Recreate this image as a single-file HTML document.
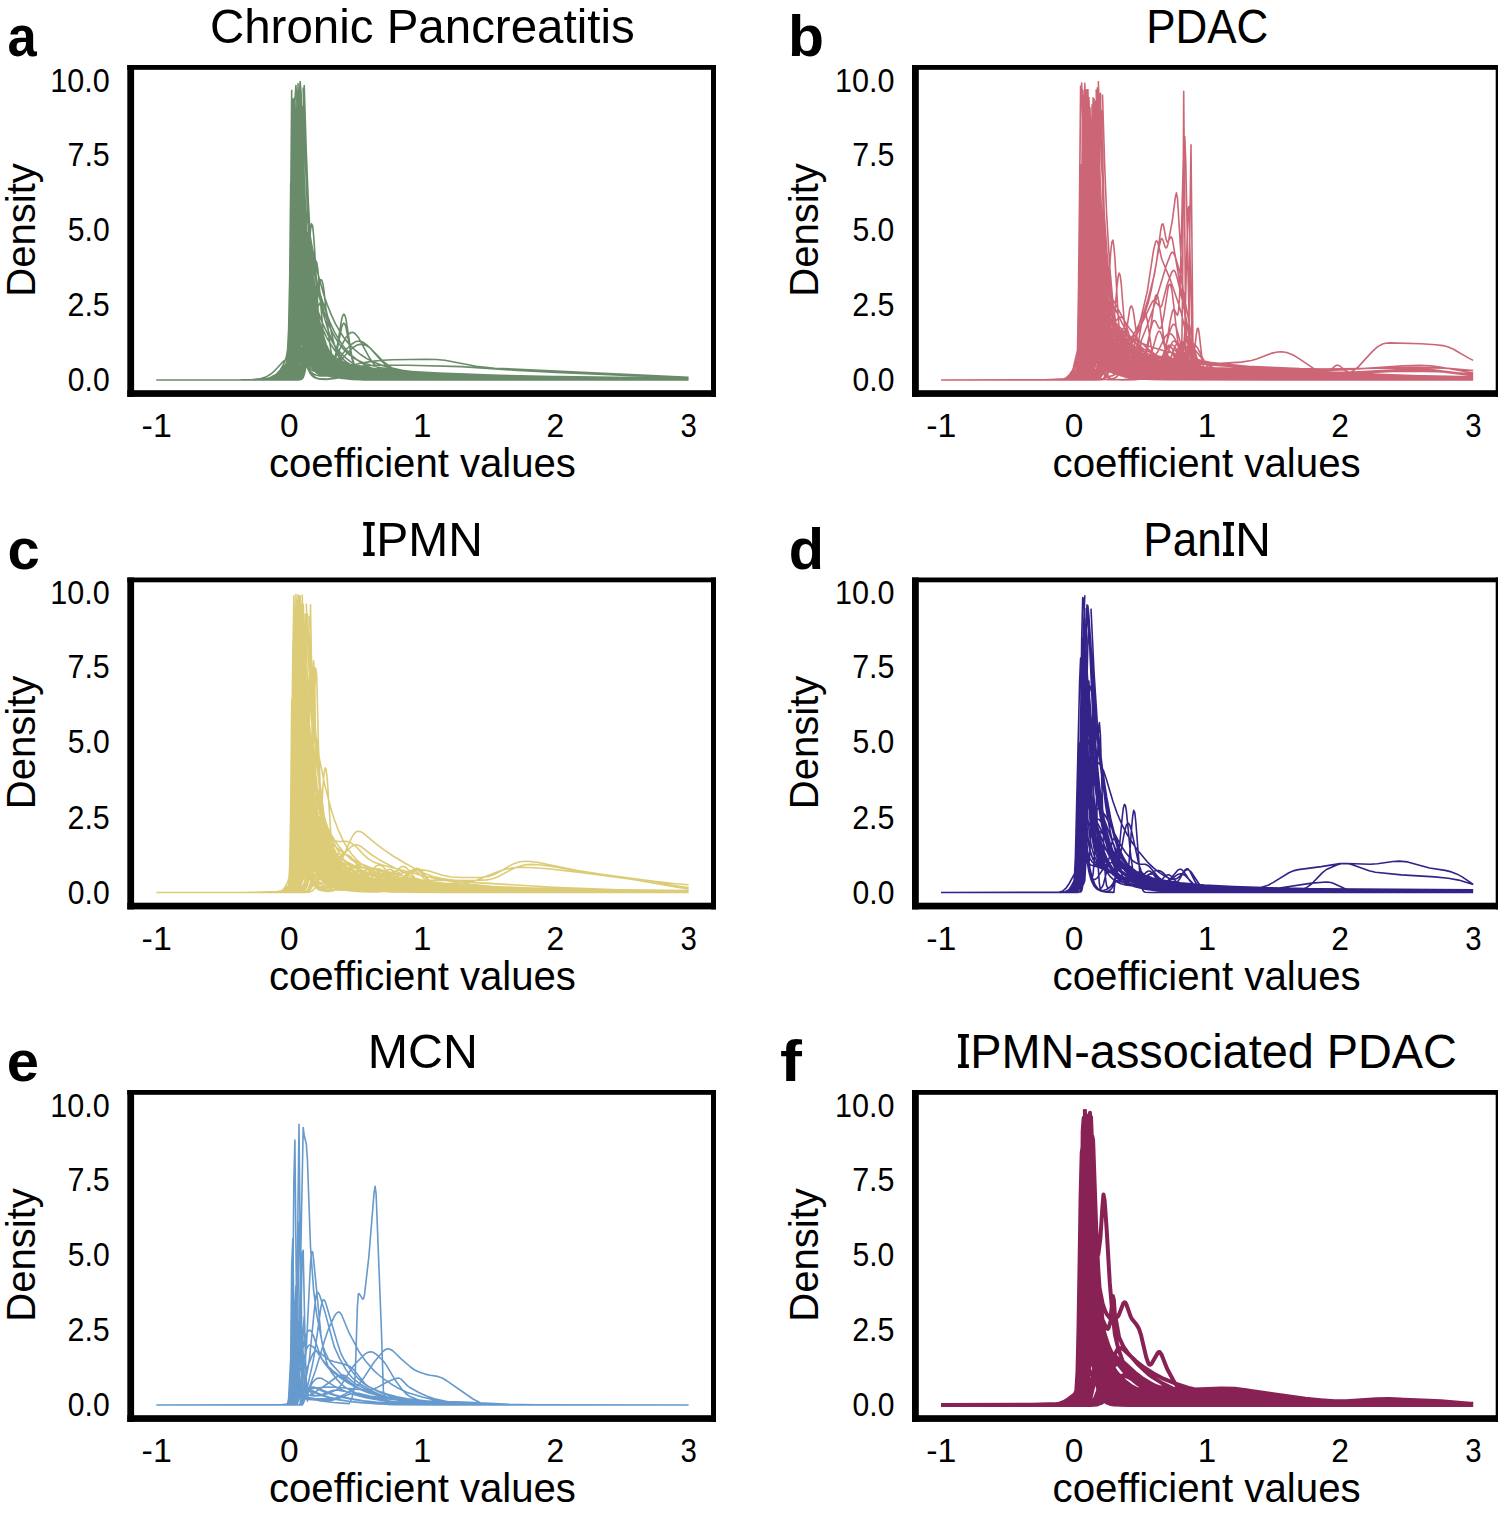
<!DOCTYPE html>
<html><head><meta charset="utf-8"><style>
html,body{margin:0;padding:0;background:#fff;width:1498px;height:1516px;overflow:hidden}
svg{display:block}
text{font-family:"Liberation Sans",sans-serif}
</style></head><body>
<svg xmlns="http://www.w3.org/2000/svg" width="1498" height="1516" viewBox="0 0 1498 1516">
<rect width="1498" height="1516" fill="#fff"/>
<path fill="none" stroke="#698B69" stroke-width="1.60" stroke-linejoin="round" stroke-linecap="butt" d="M156.3 380.0l74 0 25 -.4 16.7 -.9 17.7 -1.5 1 -.2 1 -1.4 1.1 -7.4 1 -25.1 2.1 -111.7 1.1 -38 1 -5.3 4.2 63.2 2 25.6 3.2 28.7 3.1 20.3 4.2 18.1 4.1 11.4 3.1 5.7 3.2 4.1 3.1 2.9 4.2 2.6 4.1 1.7 4.2 1.1 13.5 1.9 24 1.5 35.4 1.2 98.9 1.4 176.1 .5M156.3 380.0l129.2 0 2.1 -.6 1 -3.6 1.1 -15 1 -41.7 3.1 -219.6 1.1 -1.8 4.1 159 1.1 26.9 2.1 37.4 2 23 1.1 7.8 2.1 11 3.1 8.9 2.1 3.2 2.1 2 2 1.1 3.2 .9 7.3 .2 6.2 -.8 16.7 -3.9 10.4 -.6 58.3 3 60.4 1.7 83.3 1 126.1 .4M156.3 380.0l119.8 -.3 3.1 -.4 2.1 -.7 2.1 -1.7 2.1 -3.1 2.1 -4.8 5.2 -15.2 1 -5.2 1.1 -13.8 1 -34.3 3.1 -197 1.1 -22 1 11.2 3.1 85.6 2.1 46.1 3.1 49.4 3.2 33.1 2.1 15.9 2 12.2 2.1 9.5 2.1 7.4 2.1 5.6 3.1 6.3 3.1 4.3 3.2 3 3.1 2 3.1 1.5 7.3 2 11.5 1.4 16.6 .7 96.9 .8 217.7 .4M156.3 380.0l129.2 0 2.1 0 1 -.6 1.1 -10.5 1 -65.6 1 -133.6 1.1 -65.2 3.1 138.8 1.1 30.4 2 37 3.2 28.5 3.1 15.5 2.1 6.1 2 4 3.2 3.9 3.1 2.6 6.2 3.1 9.4 2.4 11.5 1.4 16.6 .7 104.2 .6 225 .4M156.3 380.0l114.6 -.1 4.2 -.7 3.1 -1.6 3.1 -3.4 2.1 -3.6 7.3 -18.8 2.1 -4.3 1 -1.3 1.1 -3.4 1 -28.4 2.1 -230.8M301.1 102.2l2.1 62.9 3.1 69.8 2.1 33.2 3.1 35.4 2.1 16.9 2.1 12.9 2.1 10.1 2.1 7.9 2 6.1 3.2 6.8 3.1 4.6 4.2 4 5.2 2.8 6.2 1.7 9.4 1 13.5 .5 115.6 .7 206.3 .3M156.3 380.0l118.8 -.2 4.1 -.5 3.2 -1.3 2.1 -1.5 3.1 -3.8 2.1 -3.3 1 -3.3 1 -14.7 1.1 -56 1 -118.3M299.0 116.7l2.1 66.6 2.1 48.3 2.1 35.4 3.1 36.3 3.1 22.6 2.1 10.1 2.1 7.4 2.1 5.4 3.1 5.7 3.1 3.6 3.2 2.5 5.2 2.6 6.2 2 12.5 2.7 16.7 3 26 3.2 32.3 2.4 40.6 1.6 52.1 1 169.8 .8M156.3 380.0l99 0 12.5 -.4 6.2 -1 5.2 -1.9 7.3 -3.8 7.3 -4.7 1.1 -3.3 1 -12.8 1.1 -34.7 3.1 -180.4 1 -11 1.1 14.3 3.1 68.1 2.1 35.8 2 28 3.2 29 3.1 15.7 10.4 30.6 2.1 4.5 3.1 5.1 3.1 3.8 4.2 3.5 4.2 2.3 4.1 1.6 11.5 2.3 24 2.4 31.2 1.8 47.9 1.6 63.5 1.2 163.6 1.6M156.3 380.0l86.5 0 19.8 -.7 8.3 -1.4 6.3 -2.1 13.5 -7.3 1 -1.8 1.1 -20.2 2.1 -204.9 1 -29.3 4.2 120.8 2.1 39.3 3.1 38.7 3.1 23.2 3.1 14 2.1 6 2.1 4.4 3.1 4.3 3.1 2.7 4.2 2.2 6.3 1.9 19.7 3.3 29.2 2.8 35.4 2 38.6 1 49.9 .7 183.4 .4M156.3 380.0l114.6 -.2 4.2 -.5 4.1 -1.5 3.2 -2.2 3.1 -4.1 1 -2.3 1.1 -5.2 1 -15.8 1.1 -43.9 2 -203.1M297.0 134.7l3.1 117.1 2.1 43.8 2 27.4 2.1 16.8 1.1 5.7 2 7.9 3.2 6.5 2.1 2.4 2 1.6 3.2 1.5 4.1 1.2 34.4 6.2 22.9 2.4 31.3 1.7 42.7 1.4 55.2 .9 178.1 .7M156.3 380.0l115.7 -.2 4.1 -.4 4.2 -.9 11.4 -4.4 1.1 -1.5 1 -13.4 2.1 -130.5 1.1 -29.7 3.1 93.7 1 21.9 1.1 15.7 2 17.4 1.1 3.4 1 .8 3.1 -2.8 1.1 -.3 1 .5 5.2 6 3.2 3 5.2 3.7 5.2 2.8 6.2 2.6 7.3 2.2 17.7 3.5 24 2.8 29.1 1.8 36.5 1.1 52.1 .7 185.4 .5M156.3 380.0l132.3 0 3.1 -.4 1.1 -2.4 1 -12.1 1.1 -39.8 2.1 -197.4M301.1 108.6l3.1 126.4 2.1 43.2 2.1 23.9 4.2 28.4 2.1 10.7 2 8.1 2.1 6 3.1 6.2 3.2 4.1 4.1 3.6 4.2 2.3 4.2 1.6 11.4 2.4 18.8 1.9 25 1.2 89.5 1.1 206.3 .3M156.3 380.0l119.8 -.1 7.3 -.8 8.3 -2.8 1.1 -1.7 1 -12.2 1.1 -52.6 1 -119.6M301.1 129.4l3.1 107.5 2.1 41.1 3.1 35 2.1 13.7 2.1 10 2.1 8 3.1 9.5 2.1 4.7 3.1 5.2 3.2 3.6 4.1 3.2 7.3 3.3 9.4 2.3 13.5 1.5 18.8 .8 86.4 .7 221.9 .4M156.3 380.0l102.1 0 11.5 -.4 4.1 -1 4.2 -2.5 4.2 -4.5 6.2 -8.7 1.1 -7.2 1 -35.1 2.1 -222.3M297.0 108.4l2 64.9 2.1 45.6 3.1 45.7 4.2 41.6 4.2 28.2 2.1 9.7 2 7.4 2.1 5.7 3.1 6.2 3.2 4.3 4.1 3.7 6.3 3.2 9.4 2.2 13.5 1.3 21.9 .8 91.6 .9 216.7 .2M156.3 380.0l120.9 -.2 3.1 -.5 3.1 -1.7 2.1 -2.4 3.1 -5 1.1 -6.6 1 -63.5 1 -192.3M295.9 132.7l3.1 112.1 2.1 45.3 2.1 29.9 2.1 19.7 3.1 17.5 3.1 9.2 2.1 3.6 3.1 3.1 4.2 1.7 5.2 .3 29.2 -3.6 18.7 -.6 74 4.3 56.2 2.1 78.1 1.5 106.3 .8M156.3 380.0l136.5 0 1 0 1.1 -.7 1 -6.6 1.1 -35.6 2 -241.7M304.2 108.6l2.1 63.6 2.1 48.7 3.1 52.5 3.2 35.2 2 16.7 2.1 12.8 2.1 9.8 2.1 7.5 2.1 5.8 3.1 6.2 3.1 4.2 3.1 2.7 4.2 2.4 6.3 1.8 8.3 1 11.4 .4 324 .1M156.3 380.0l84.4 -.1 16.7 -.3 8.3 -.5 6.3 -1.4 5.2 -2.4 7.3 -5.8 4.1 -4 1.1 -1.7 1 -9.2 1 -44.7 2.1 -176.5 1.1 -.2 2.1 83.1 2 59.6 2.1 36.1 2.1 21.3 2.1 11.9 1 3.7 2.1 4.8 7.3 9.8 3.1 3.2 3.1 2.3 4.2 2 4.2 1.4 12.5 2.2 20.8 1.6 33.3 1.3 47.9 1 60.4 .8 183.4 .6M156.3 380.0l88.6 0 18.7 -.3 12.5 -1.1 14.6 -2.3 2.1 -.7 1 -1.8 1.1 -6.9 1 -21.4 1.1 -47.8 2 -153.9 1.1 -48 1 -1.3 4.2 148.4 2.1 42.8 2 25.3 3.2 21.5 3.1 11.6 2.1 4.9 2.1 3.5 3.1 3.8 4.2 3.6 5.2 3.3 7.3 3.5 8.3 3 8.3 2.3 9.4 1.9 10.4 1.4 26 2.2 33.4 1.2 50 .8 203.1 .5M156.3 380.0l116.7 -.1 12.5 -1 1 -.4 1.1 -1.8 1 -11.3 1.1 -43.8 2 -231.8M295.9 111.2l2.1 92.8 3.1 82.1 2.1 31.4 2.1 20.2 2.1 12 1 3.2 1 1.6 1.1 0 3.1 -3.9 1.1 -.7 1 0 2.1 1.7 5.2 5.6 5.2 4.1 7.3 4.1 8.3 3.3 9.4 2.7 11.4 2.3 12.5 1.7 15.7 1.3 33.3 1.4 52.1 .9 210.4 .9M156.3 380.0l120.9 -.1 4.1 -.4 2.1 -.7 2.1 -1.4 2.1 -2.4 1 -2.1 1.1 -5.4 1 -18.6 1 -49.6 2.1 -157.5 1.1 -34 1 4.6 3.1 62.7 3.2 48.8 4.1 42.9 5.2 43.7 4.2 23.1 4.2 14.7 2 5.2 3.2 6.1 3.1 4.3 4.2 3.8 3.1 1.9 3.1 1.2 7.3 1.4 46.9 3.6 37.5 1.7 41.6 1.1 52.1 .7 164.6 .6M156.3 380.0l112.5 -.3 6.3 -.6 5.2 -1.2 4.2 -1.9 5.2 -3.4 1 -6.2 1 -59 1.1 -138.2 1 -59.4 3.2 83.9 2 44.6 2.1 32.3 3.1 32.1 2.1 14.1 2.1 10.7 2.1 8.4 3.1 10.2 3.1 7.6 3.2 5.6 3.1 4 4.2 3.7 4.1 2.4 5.2 2 5.2 1.4 7.3 1.3 20.9 2 32.2 1.5 42.7 1.1 55.2 .7 188.6 .6M156.3 380.0l93.8 0 11.4 -.3 5.2 -.7 5.3 -1.8 4.1 -2.7 4.2 -4.5 3.1 -5.4 2.1 -5 1 -3.4 1.1 -6.8 1 -19.7 1.1 -51.1 1 -95.5M299.0 106.6l2.1 59.3 3.1 63.2 3.2 41.7 3.1 28.2 4.2 24.6 2 8.5 3.2 9.7 3.1 7 3.1 5.1 3.1 3.8 4.2 3.7 4.2 2.6 5.2 2.2 6.2 1.8 7.3 1.5 20.8 2.5 31.3 2 51 2 62.5 1.5 75 1.1 91.7 .7M156.3 380.0l126.1 0 6.2 -.1 1.1 -.3 1 -7.6 1 -57.4 1.1 -149.9M295.9 127.2l1.1 58 2 79.3 1.1 26.3 2.1 35.6 2 20.7 2.1 11.8 1.1 3.8 2 4.9 1.1 1.4 2.1 1.7 3.1 .9 9.4 -.3 5.2 .2 26 2.9 24 1.9 25 1.3 30.2 1 86.4 1.1 166.7 .3M156.3 380.0l101.1 0 10.4 -.4 5.2 -1.2 4.2 -2.3 12.5 -11.7 1 -3.8 1 -18.9 1.1 -59.4 1 -108.4M298.0 99.5l3.1 125.7 2.1 50.8 2.1 33.9 2.1 22.5 3.1 20.3 3.1 10.7 2.1 4 3.1 3.5 2.1 1.3 3.1 1.1 8.4 1.2 38.5 2.6 41.7 1.5 89.5 1.1 186.5 .3M156.3 380.0l130.2 0 1.1 -.1 1 -.8 1.1 -5.4 1 -20.8 3.1 -157.4 1.1 -2.3 4.1 105.5 1.1 17.2 2.1 24.3 2 15 3.2 12.7 3.1 6.1 2.1 2.3 2.1 1.4 5.2 1.5 6.2 .2 7.3 -.8 15.6 -2.6 9.4 -.5 59.4 2.2 61.4 1.2 83.3 .7 126.1 .3M156.3 380.0l130.2 0 3.2 -.4 1 -3.5 1 -21.5 1.1 -72.3 1 -131.7M299.0 126.0l3.2 102.3 2 38.2 3.2 31.9 2 13.6 3.2 16.5 2.1 8.9 3.1 10.2 3.1 7 3.1 4.8 3.2 3.5 4.1 3.3 4.2 2.3 5.2 2.1 6.2 1.7 8.4 1.6 22.9 2.8 28.1 1.7 33.3 .8 49 .5 200 .3M156.3 380.0l117.7 -.3 3.2 -.2 2 -.6 2.1 -1.6 1.1 -1.6 2.1 -5.2 5.2 -20.5 3.1 -7.3 1 -8.1 1.1 -28.6 2.1 -165.3M301.1 92.5l2.1 83.3 2.1 58.5 2.1 40.1 2 27.8 3.2 26.6 3.1 15.5 2.1 6.6 2.1 4.6 3.1 4.6 3.1 2.8 5.2 2.4 6.3 1.2 29.1 1.4 54.2 6.5 19.8 1.6 22.9 1.3 35.4 1.2 43.7 .8 145.9 .6M156.3 380.0l100 0 18.8 -.3 3.1 -.8 3.1 -2.6 2.1 -3.5 3.1 -6.6 2.1 -2.8 1.1 -.3 3.1 2.1 1 -9.3 1.1 -48.9 1 -116.5M300.1 113.3l1 59.5 2.1 81.4 1 26.4 2.1 33.8 2.1 18.4 2.1 11.1 2.1 7.6 2.1 5.5 2 3.9 2.1 2.6 3.1 2.7 4.2 2.2 5.2 1.8 7.3 1.7 8.3 1.5 19.8 2.1 26.1 1.4 44.8 1.2 63.5 .8 187.5 .9M156.3 380.0l109.4 -.3 7.3 -.7 7.3 -1.6 9.4 -3.6 2 -1.6 1.1 -4.1 1 -14.4 1.1 -38.5 2.1 -180.3M303.2 90.0l2.1 69.3 2.1 50.6 3.1 52.2 3.1 34.4 2.1 16.7 2.1 13.1 2.1 10.2 2 7.9 3.2 8.7 3.1 6 3.1 4.2 4.2 3.8 4.2 2.4 4.1 1.7 6.3 1.8 7.3 1.3 20.8 2.1 31.2 1.6 38.6 1 50 .6 190.6 .4M156.3 380.0l114.6 -.3 4.2 -.7 4.1 -1.9 3.2 -2.6 5.2 -6.2 1 -1.6 1.1 -3.2 1 -8.8 1 -21.4 3.2 -138.2 1 -22.5 1.1 4.7 3.1 74.1 2.1 39.2 2 26.3 2.1 17.4 3.1 15.2 3.2 8.3 2.1 3.6 3.1 4.1 3.1 2.9 3.1 2 5.2 1.9 6.3 .8 30.2 .1 48.9 3.6 42.7 1.8 79.2 1.1 152.1 .3M156.3 380.0l92.7 -.1 12.5 -.3 10.5 -.8 6.2 -1.2 2.1 -.9 2.1 -1.4 3.1 -3.8 5.2 -8.6 1 -2.5 1.1 -7.9 1 -25 1.1 -57.5 2.1 -176.2M300.1 109.6l3.1 135.7 1 28.7 2.1 39.2 2.1 23.4 1 7.8 2.1 10.8 1.1 3.7 2.1 5 2 3 2.1 1.9 3.1 1.5 5.3 1.3 24.9 3 29.2 2.2 35.4 1.5 38.6 .9 49.9 .5 183.4 .3M156.3 380.0l118.8 -.1 3.1 -.3 3.1 -1 2.1 -1.4 2.1 -2.3 2.1 -3.4 1 -2.5 1.1 -4.7 1 -11.8 1 -26.5 3.2 -135.4 1 -11.9 1.1 10.5 4.1 81.9 3.1 41.9 2.1 19.5 2.1 13.6 2.1 7.6 1 1.4 1.1 .1 1 -1.2 3.1 -5.9 1.1 -1.2 1 -.3 2.1 1.5 6.3 8.6 4.1 4.1 5.2 3.4 8.4 3.8 10.4 3.9 9.3 2.3 12.5 2 15.7 1.4 30.2 1.2 48.9 .8 216.7 .4M156.3 380.0l114.6 -.2 17.7 -.9 4.2 -.7 2.1 -1 1 -4 1.1 -20.4 1 -64.5 1 -118.5M304.2 85.0l2.1 67.2 2.1 51.3 3.1 55.1 3.2 36.7 3.1 24.4 2.1 11.4 2 8.7 2.1 6.5 3.2 7 3.1 4.6 3.1 3.1 4.2 2.6 6.2 2.4 8.3 1.8 15.7 2.8 29.1 4 33.4 2.5 36.4 1.4 47.9 .9 174 .6M156.3 380.0l97.9 0 11.5 -.5 5.2 -1.3 4.2 -2.4 4.1 -3.9 8.4 -9.3 3.1 -1.9 2.1 -.5 1 -2.1 1.1 -33.3 1 -137.8M300.1 84.0l2.1 62.4 3.1 68.7 3.1 45.1 3.1 27.8 2.1 12.5 3.1 14.4 4.2 15.7 3.1 9.5 3.2 7.3 4.1 7.1 4.2 5 4.2 3.6 5.2 3.2 5.2 2.4 6.2 2 7.3 1.8 18.8 2.7 26 1.9 35.4 1.1 53.1 .8 191.7 .8M156.3 380.0l118.8 0 13.5 -.5 1.1 -2.3 1 -20.6 2.1 -150.3 1 -21.2 3.2 60.4 2 28.2 3.2 25.9 4.1 23.9 4.2 18.3 2.1 6.7 3.1 7.5 3.1 5.4 3.1 3.8 4.2 3.6 4.2 2.4 8.3 3 10.4 1.9 14.6 1.3 21.9 .8 108.3 1.1 194.8 .6M156.3 380.0l114.6 -.1 18.8 -.4 1 -1 1 -19.4 2.1 -225 1.1 -18.7 3.1 78.3 2.1 40.4 3.1 44.2 3.1 27.4 2.1 9.2 5.2 11.2 5.2 16 3.1 7.7 3.2 5.7 3.1 4.4 3.1 3.3 4.2 3.2 4.2 2.4 5.2 2.2 11.4 2.8 15.6 1.9 23 1.3 36.4 .8 62.5 .8 194.8 1M156.3 380.0l91.7 0 13.5 -.5 5.2 -.8 4.2 -1.4 5.2 -2.8 11.5 -8 3.1 -1.1 3.1 -.2 1.1 -.4 1 -4.8 1.1 -24.1 1 -69.8 1 -114.3M303.2 133.6l1 53 2.1 73.2 1.1 24 2 32.1 1.1 10.7 2.1 15 3.1 13.4 2.1 5.6 2.1 3.8 2 2.7 3.2 2.5 3.1 1.6 4.2 1.3 10.4 1.4 52.1 3 33.3 1.3 90.6 1.4 169.8 .4M156.3 380.0l119.8 0 10.4 -.1 2.1 -.4 1.1 -2.5 1 -11.7 1 -36.9 3.2 -227.5 1 -15.4 1.1 18.9 3.1 86.3 2.1 42.2 2 30.8 3.2 31 4.1 25.4 3.2 13.5 3.1 10.6 3.1 8 3.1 5.8 3.2 4.2 4.1 3.8 4.2 2.7 4.2 1.8 10.4 2.8 14.5 1.9 21.9 1.3 40.6 1 69.8 .9 191.7 1.1M156.3 380.0l92.7 0 29.2 -.6 4.2 -.8 3.1 -1.6 3.1 -3.1 4.2 -5.9 1 -2.7 1.1 -7 1 -19.3 1.1 -40.7 2 -121.3 1.1 -35.8 1 -3.6 4.2 86.4 2.1 33.6 3.1 35.5 3.1 24.1 4.2 21.1 4.1 13.2 3.2 6.5 3.1 4.7 3.1 3.4 4.2 3.1 4.2 2.3 4.1 1.5 11.5 2.7 14.6 1.6 21.8 1 95.8 1.1 201.1 .5M156.3 380.0l107.3 -.3 11.5 -.5 10.4 -1 6.2 -1 3.2 -1.3 1 -1.6 1.1 -17.8 2 -168.6 1.1 -5.9 2.1 44.5 2 32.8 3.2 33.8 4.1 30.2 2.1 10.8 2.1 8.4 2.1 6.4 2.1 4.9 2 3.6 3.2 4 3.1 2.6 3.1 1.8 5.2 1.9 6.3 1.4 21.8 2.7 34.4 2.8 40.6 2 43.8 1.4 52.1 .9 153.1 .9M156.3 380.0l106.3 -.3 6.2 -.6 5.2 -1.3 13.6 -5.5 1 -2 1.1 -8 1 -25.7 2.1 -156.4M298.0 113.4l1 54.5 2.1 77.1 2.1 43.7 2.1 24.1 2.1 13.1 2 7.3 2.1 4.5 4.2 6.4 5.2 6.4 4.2 4.2 5.2 4 5.2 3.2 6.2 2.9 6.3 2.2 7.3 1.9 16.6 2.8 24 1.9 42.7 1.7 68.7 1.5 83.4 1.2 97.9 .9M156.3 380.0l122.9 -.1 6.3 -.2 6.2 -.9 1.1 -.2 1 -1.3 1.1 -8.3 1 -35.6 2.1 -221.4M303.2 87.4l2.1 63.6 3.1 66.1 3.1 44.8 4.2 41.8 4.2 27.3 4.1 17 2.1 5.8 3.1 6.5 3.2 4.6 4.1 4.2 6.3 3.6 8.3 2.4 11.5 1.5 18.7 .9 113.5 1.5 193.8 .7M156.3 380.0l95.9 0 14.5 -.7 5.3 -1.3 4.1 -2.3 10.4 -9.9 2.1 -1.5 4.2 -2.1 2.1 -2.1 1 -4.1 1.1 -28.2 2 -142.6 1.1 5.5 2.1 49.3 3.1 52.1 2.1 22.8 2 16 3.2 15.7 3.1 9.4 2.1 4.1 2.1 2.9 3.1 3 3.1 2 4.2 1.8 5.2 1.4 15.6 2.6 21.9 2 28.1 1.2 43.7 1 62.5 .8 181.3 .9M156.3 380.0l100 0 11.5 -.3 5.2 -.9 4.2 -1.5 11.4 -7.4 5.2 -2 1.1 -4.1 1 -17.1 3.1 -135.8 1.1 0 4.1 90.9 3.2 36.3 2 13.7 2.1 8.7 3.2 7.2 2 2.5 2.1 1.5 2.1 .7 3.1 .5 13.6 -.5 8.3 .2 52.1 4.1 54.1 2 82.3 1 154.2 .3M156.3 380.0l122.9 0 6.3 -.7 6.2 -2.5 1.1 -1.5 1 -10.2 1.1 -40 2.1 -118 1 4.8 2.1 56 2.1 37.5 1 11.6 2.1 13.8 2.1 7.2 4.1 10.4 5.2 10.9 3.2 4.3 3.1 3.2 4.2 3 5.2 2.7 8.3 2.8 11.4 1.9 13.6 1.2 19.8 .6 92.7 .8 210.4 .2M156.3 380.0l109.4 -.3 5.2 -.6 4.2 -1 12.5 -5.2 5.2 -1.7 1 -3.3 1.1 -27.1 2.1 -191.3 1 -22.9 2.1 74.9 2.1 57.4 2 34 2.1 19.8 3.1 16.1 3.2 9.8 3.1 7.6 3.1 6.2 3.1 4.7 4.2 4.5 4.2 3.3 4.1 2.3 5.3 2.2 6.2 1.8 6.2 1.3 16.7 2.1 26.1 1.5 48.9 1.4 63.5 1.1 181.3 1.1M156.3 380.0l125 0 4.2 -.8 2.1 -1.8 1 -1.7 2.1 -5.2 2.1 -7.4 1 -8 1.1 -23.2 3.1 -194.5 1 -18.6 1.1 17.1 4.1 106.7 2.1 34.7 3.1 35.5 3.2 22.6 2.1 10.5 2 7.7 2.1 5.7 2.1 4.3 3.1 4.3 3.2 2.6 5.2 2.3 8.3 1.2 48.9 2.6 40.7 1.4 95.8 1.4 162.5 .5M156.3 380.0l110.4 -.2 5.3 -.5 4.1 -1 9.4 -3.9 5.2 -1.6 1 -.6 1.1 -4.1 1 -17.9 2.1 -104.6 1.1 -34.4 1 8.2 3.1 82.1 1.1 16.4 2 19.9 2.1 9.9 1.1 2.9 2 3.8 3.2 3.7 4.1 3.9 3.2 2.5 4.1 2.3 4.2 1.4 5.2 1.1 22.9 2.1 26.1 1.7 38.5 1.6 115.6 2.7 152.1 1.6M156.3 380.0l96.9 0 13.5 -.6 4.2 -.9 4.2 -2 4.1 -3.3 9.4 -9.7 3.1 -1.9 3.2 -.7 1 -3.6 1.1 -21.2 3.1 -245.9M302.2 105.6l2 71.6 2.1 54.4 2.1 39.7 3.1 40.2 3.2 24.6 3.1 15 2.1 6.5 2 4.5 2.1 3.2 3.2 3 4.1 2 6.3 1 26 .5 53.1 4.1 43.8 2 83.3 1.5 144.8 .5M156.3 380.0l97.9 0 14.6 -.5 8.4 -1.3 7.3 -2.5 5.2 -3 4.1 -4.3 1.1 -1.7 1 -6.5 1.1 -46.4 1 -154.3M302.2 107.6l1 62.3 2.1 79.7 2.1 43.6 2 24.4 3.2 19.7 2.1 7.7 2 5.6 2.1 4.3 3.1 4.9 3.2 3.5 4.1 3.4 4.2 2.4 5.2 2.1 6.3 1.8 7.2 1.4 19.8 2.1 29.2 1.5 39.6 1 52.1 .6 195.8 .4M156.3 380.0l126.1 0 4.1 -.1 2.1 -.8 1.1 -2.8 1 -10.3 1 -27.9 3.2 -178.3 1 -24.2 1.1 7.4 3.1 74.2 2.1 38.2 2 27.9 3.2 29.3 3.1 19.6 2.1 9.2 2.1 7.1 2 5.2 3.2 5.6 3.1 3.7 3.1 2.4 4.2 2 5.2 1.5 22.9 4.4 19.8 2.1 26 1.5 38.6 1 59.3 .8 186.5 1M156.3 380.0l99 0 13.5 -.3 4.2 -.7 4.2 -1.6 3.1 -2.1 7.3 -6.5 2.1 -1.3 3.1 -1.2 1 -3.4 1.1 -15.4 1 -42.9 2.1 -144.8 1 -31.6 1.1 13.7 4.1 129.2 2.1 36.5 2.1 22.8 2.1 13.5 1 4.3 2.1 5.5 2.1 3.2 6.2 6.7 6.3 5.2 4.2 2.2 4.1 1.6 5.2 1.5 7.3 1.3 16.7 1.7 23.9 1.1 40.7 .9 57.2 .5 201.1 .4M156.3 380.0l129.2 0 4.2 -.1 2 -.7 1.1 -2.1 1 -7.6 1.1 -20.5 3.1 -123.1 1 -10.3 1.1 13.8 3.1 66.3 2.1 24.7 2.1 13.8 3.1 11.6 4.2 8.8 3.1 4.3 3.1 3.2 3.1 2.4 4.2 2.3 3.1 1.2 3.1 .5 14.6 .1 19.8 3.6 16.7 2 20.8 1.6 27.1 1.2 41.6 1.2 54.2 .8 159.4 .8M156.3 380.0l116.7 -.1 14.6 -.5 1 -.2 1.1 -1.3 1 -6.3 1 -21.9 3.2 -172.9 1 -18.5 1.1 15.4 4.1 106 3.1 43.4 2.1 17.6 3.1 16.2 2.1 6.5 2.1 4.4 2.1 3 3.1 2.6 5.2 2 8.4 1 39.5 1.7 36.5 .9 90.6 .8 189.6 .2M156.3 380.0l122.9 -.2 3.2 -.5 3.1 -2 6.2 -7.5 1.1 -1.8 1 -8.9 1.1 -31.9 3.1 -244M300.1 101.4l2.1 88.8 2 61.6 2.1 37.4 2.1 22.6 3.1 18.9 2.1 7.8 2.1 6 3.1 7 3.1 5.2 3.2 3.7 3.1 2.6 3.1 1.8 4.2 1.6 10.4 1.8 80.2 4.6 53.1 1.9 61.5 1.6 147.9 2.1M156.3 380.0l84.4 -.1 11.5 -.3 7.3 -.7 6.2 -1.8 5.2 -3.1 4.2 -3.7 8.3 -9 4.2 -3.2 1 -2.1 1.1 -9.2 1 -31.9 2.1 -187.1M298.0 87.7l2.1 85.4 2.1 59.4 2 40.1 1.1 14.4 2.1 20 1 6.5 2.1 8.8 9.4 24.8 2 4.4 3.2 5.2 3.1 3.7 3.1 2.7 4.2 2.6 5.2 2.3 6.2 1.8 7.3 1.4 19.8 2.2 32.3 1.9 50 1.8 60.4 1.3 74 .8 97.9 .5M156.3 380.0l107.3 -.1 17.7 -.2 9.4 -.6 2.1 -.7 1 -.8 2.1 -3.3 2.1 -6.5 3.1 -13.6 2.1 -7.2 1 -2.1 1.1 -1 1 -.1 2.1 1.4 6.3 7.2 5.2 4.8 6.2 4.1 7.3 3.4 8.3 2.6 10.4 2.3 13.6 2 16.7 1.9 18.7 1.4 21.9 1.2 62.5 1.9 84.3 1.1 118.8 .6M156.3 380.0l116.7 0 14.6 -.3 4.1 -.4 2.1 -1.4 1.1 -1.9 1 -3.2 1.1 -4.9 4.1 -28.1 1.1 -3.8 1 -1 1 1.4 1.1 3.1 5.2 18.7 3.1 6.7 2.1 2.9 3.1 2.8 4.2 1.9 4.2 .7 24.9 .5 69.8 3.1 57.3 1.4 86.5 1.1 122.9 .5M156.3 380.0l133.4 0 3.1 -.3 1 -.4 1.1 -1 1 -2.2 2.1 -10.3 5.2 -52.6 1 -4.5 1.1 -.3 1 3 1.1 5.4 5.2 29.6 3.1 11.3 3.1 7.3 3.1 4.6 3.2 2.7 4.1 1.7 3.2 .4 3.1 -.2 18.7 -4.4 6.3 -.7 6.2 -.1 71.9 4 66.6 2.5 82.3 1.9 101.1 1.3M156.3 380.0l117.7 -.1 14.6 -.6 3.1 -.4 2.1 -1 1.1 -1.8 1 -4.3 1.1 -8.9 4.1 -69.1 1.1 -8.7 1 -1.6 1 3.2 5.2 28.7 3.2 13.1 4.1 13 4.2 9.2 5.2 8 3.1 3.6 4.2 3.6 4.2 2.8 4.1 2.1 9.4 3.1 11.5 2.1 14.5 1.4 20.9 1.1 28.1 .7 80.2 .7 182.3 .1M156.3 380.0l130.2 0 11.5 -.1 3.1 -.4 1.1 -.6 1 -1.4 1 -2.7 1.1 -4.8 4.1 -33.5 1.1 -5.2 1 -1.8 1.1 1.4 1 3.4 5.2 20.4 2.1 5.5 3.1 5.8 3.2 3.7 3.1 2.4 4.1 1.9 6.3 1.3 11.4 1 25 .9 76.1 1.6 94.7 .7 140.7 .4M156.3 380.0l115.7 -.1 16.6 -.6 12.5 -1.3 1.1 -.9 1 -3.3 1 -9.6 3.2 -61.9 1 -8.7 1 .6 4.2 21.5 4.2 16.6 3.1 9.1 4.2 8.7 4.1 6.1 5.2 4.9 6.3 3.5 8.3 2.6 16.7 2.5 30.2 2.8 32.3 2.1 38.5 1.7 91.7 2.2 130.2 1.1M156.3 380.0l118.8 -.1 6.2 -.4 3.2 -1.1 3.1 -3.2 5.2 -9.5 1 -2.2 1.1 -5.2 1 -13.3 2.1 -45.2 1 -9.6 1.1 3 3.1 26.1 2.1 13.9 2.1 10.3 3.1 10.8 4.2 9 4.1 5.5 5.2 4 3.2 1.4 4.1 1.2 6.3 .9 9.3 .5 104.2 1.4 104.1 .9 133.4 .5M156.3 380.0l109.4 -.1 13.5 -.6 7.3 -1.2 2.1 -1.3 1.1 -1.2 2 -4.8 2.1 -8.7 5.2 -29.3 1.1 -3.7 1 -2.4 1.1 -1 1 0 2.1 2.1 7.3 11.5 7.3 9 7.3 6.9 7.2 5.4 8.4 4.6 9.3 3.8 11.5 3.1 12.5 2.3 14.6 1.6 18.7 1.3 51.1 1.6 81.2 .8 146.9 .3M156.3 380.0l119.8 0 6.3 -.5 3.1 -1.1 2.1 -1.6 2.1 -2.4 6.2 -9.2 1.1 -.9 2 -.6 1.1 -.8 1 -4.6 1.1 -13.6 2 -41.1 1.1 -6.4 1 4.2 3.1 23.5 2.1 11.9 2.1 9 3.1 9.4 4.2 7.9 4.2 4.7 3.1 2.2 3.1 1.6 7.3 2.2 12.5 1.8 18.8 1.6 25 1.1 31.2 .8 82.3 .7 180.2 .2M156.3 380.0l132.3 0 4.2 -.3 1 -.6 1.1 -1.6 1 -3.5 1.1 -6.3 4.1 -49.8 1.1 -8.7 1 -3.6 1 .9 1.1 4 4.1 22.5 3.2 12.9 3.1 9.5 3.1 6.8 4.2 6.2 5.2 4.8 5.2 2.9 7.3 2 12.5 1.4 21.9 .4 313.5 .1M156.3 380.0l118.8 0 13.5 -.3 1.1 -.9 1 -2.7 1 -6.4 3.2 -34.3 1 -4.3 1.1 1.4 5.2 23.3 2 6 2.1 4.4 3.1 4.5 3.2 2.7 3.1 1.6 4.2 .9 4.1 .1 5.2 -.4 25 -3.9 13.6 -.5 11.4 .5 54.2 4.2 53.1 2.2 78.1 1.3 124 .5M156.3 380.0l135.4 -.2 1.1 -.8 1 -2.8 1.1 -6.3 2.1 -20.8 1 -7.4 1 -2.5 1.1 1 4.1 10.2 3.2 6.2 3.1 4.8 3.1 3.8 4.2 3.7 4.1 2.5 5.3 1.9 5.2 1 25 .3 62.4 2.1 65.7 1.2 89.5 1 113.6 .6M156.3 380.0l119.8 -.1 6.3 -.3 4.1 -1.4 3.2 -2.7 3.1 -4.1 2.1 -4.9 1 -4.7 2.1 -18.1 4.2 -55.1 1 -6.6 1 -1.1 1.1 3.8 1 7.2 5.2 41.7 2.1 11.1 2.1 8.3 3.1 8.4 3.1 5.3 4.2 4 5.2 2.3 6.3 .9 27 .4 52.1 3.4 42.7 1.4 75 .7 154.2 .2M156.3 380.0l106.3 -.2 18.7 -.8 13.6 -1.7 2.1 -1.1 1 -1.3 2.1 -5.5 5.2 -29.6 1 -3.6 1.1 -1.4 1 .4 1 1.8 6.3 16.5 2.1 3.9 3.1 4.1 3.1 2.8 4.2 2.3 4.2 1.3 5.2 .9 69.7 6.6 24 1.5 28.1 1.2 81.3 1.4 147.9 .5M156.3 380.0l139.6 0 3.1 -.1 2.1 -.9 1.1 -1.4 1 -2.7 2.1 -12.8 5.2 -72 1 -9.3 1.1 -3.8 1 1.3 1.1 5.3 5.2 42.1 2 12.5 2.1 9.4 3.2 9.4 3.1 5.7 3.1 3.3 4.2 1.9 4.1 .6 17.7 .1 71.9 4.3 64.6 2.5 86.4 2 106.3 1.3M156.3 380.0l112.5 -.1 15.7 -.2 3.1 -.6 1 -.8 1.1 -1.7 1 -3.2 1 -5.6 2.1 -19.9 3.2 -40 1 -9.8 1 -6.1 1.1 -2.6 1 .3 1.1 2.2 7.2 23.9 5.3 13.3 5.2 10.3 6.2 9.1 7.3 7.4 8.3 5.7 10.4 4.6 12.5 3.5 16.7 3.2 19.8 2.5 21.9 1.7 28.1 1.2 80.2 1.3 157.3 .4M156.3 380.0l109.4 -.1 18.8 -.8 14.5 -1.7 1.1 -1 1 -3 1.1 -7.2 1 -13.6 3.1 -59 1.1 -10 1 -2.8 1 1.6 7.3 25.3 5.2 14.2 6.3 13.2 6.2 10.1 4.2 5.4 4.2 4.5 4.1 3.8 5.2 3.9 5.3 3.1 5.2 2.5 6.2 2.4 6.3 1.8 12.5 2.5 14.5 1.8 17.7 1.2 24 .8 78.1 .8 166.7 .3M156.3 380.0l110.4 -.1 14.6 -.6 6.3 -.6 2.1 -.6 1 -1.2 1 -3.1 1.1 -7 1 -13 3.2 -58.6 1 -11.3 1 -3.3 1.1 2.4 5.2 28.9 3.1 13.4 4.2 13.1 4.1 9.2 5.2 7.8 3.2 3.4 3.1 2.6 7.3 4.2 9.4 3.1 12.5 2.3 18.7 1.8 29.2 1.6 41.6 1.6 102.1 2.2 139.6 1.2M156.3 380.0l136.5 0 3.1 -.3 1.1 -1.1 1 -3.4 1 -8.1 3.2 -53.3 1 -13.8 1 -5.6 1.1 1 5.2 25.3 4.2 16 4.1 11.6 4.2 8.5 5.2 7.5 6.2 5.9 7.3 4.1 8.4 2.7 7.3 1.2 8.3 .9 27.1 .8 295.8 .1M156.3 380.0l137.5 -.1 1.1 -.5 1 -2.2 1.1 -6.5 2 -24.1 1.1 -7.2 1 -.6 4.2 13.7 2.1 5.5 2 4.3 3.2 4.9 3.1 3.5 4.2 2.9 4.1 1.6 4.2 .8 5.2 .3 18.7 -.1 52.1 2 58.3 1.1 82.3 .5 143.8 .2M156.3 380.0l109.4 -.1 18.8 -.6 11.4 -1.1 2.1 -1.3 1 -1.6 1.1 -2.8 2.1 -10.3 4.1 -27.6 1.1 -3.1 1 -.8 1 1.3 1.1 2.5 4.2 13.2 2 5.3 3.2 6 3.1 4.3 4.2 3.7 4.1 2.4 5.2 1.8 7.3 1.3 19.8 1.7 33.3 2.1 62.5 2.2 86.5 1 142.7 .4M156.3 380.0l138.6 0 3.1 -.2 1 -.4 1.1 -1.2 1 -2.9 1.1 -5.9 1 -9.9 3.1 -45.5 1.1 -11 1 -4.9 1 .9 1.1 5 3.1 21.6 3.1 17.3 2.1 8.4 3.1 9.2 4.2 7.8 4.2 4.7 5.2 3.3 6.2 2 10.4 1.2 19.8 .5 316.7 0M156.3 380.0l140.7 0 2 -.2 1.1 -.7 1 -2.6 1.1 -7.3 1 -15.8 3.1 -91.2 1.1 -21.4 1 -8.6 1 1 1.1 6.1 5.2 36.8 4.2 22.8 4.1 17.7 5.2 16.8 3.2 7.8 3.1 6.5 3.1 5.3 3.1 4.4 4.2 4.6 4.2 3.5 4.1 2.7 5.2 2.4 9.4 2.5 12.5 1.5 35.4 1.8 32.3 1.2 93.7 1.6 145.9 .6M156.3 380.0l137.5 0 4.2 -.4 1 -.9 1.1 -2.3 1 -5.2 1.1 -9.4 4.1 -59.3 1.1 -6.1 1 -.5 1 3.4 4.2 22.4 3.1 13.7 3.2 10.4 4.1 10.2 4.2 7.1 5.2 5.9 3.1 2.4 3.2 1.8 6.2 2.1 5.2 .8 5.2 .1 24 -1.6 14.6 -.2 135.3 2.6 158.4 1.6M156.3 380.0l128.2 0 3.1 -.4 1 -.8 1.1 -2.3 1 -5.2 1 -10.1 1.1 -16.5 4.2 -93.4 1 -10.5 1 -2 1.1 4.3 5.2 43.4 3.1 21 3.1 16.3 4.2 16.1 2.1 6.2 3.1 7.6 5.2 8.9 3.1 3.8 3.2 2.8 4.1 2.7 4.2 1.8 7.3 1.7 10.4 .7 161.4 2 168.8 1.1M156.3 380.0l139.6 -.2 1.1 -1.2 1 -4.4 1 -11.8 3.2 -75.1 1 -14.3 1 -3.7 1.1 2.2 5.2 21.7 5.2 17.9 5.2 14.2 6.3 13.2 7.2 11.4 7.3 8.2 4.2 3.5 4.2 2.8 4.1 2.1 4.2 1.4 6.2 1.2 14.6 1.4 28.1 3.5 18.8 1.3 25 1.1 93.7 2 143.8 1.1M156.3 380.0l114.6 -.2 20.8 -.8 2.1 -.4 1.1 -1.1 1 -3.7 1.1 -9.5 1 -19.3 4.2 -128 1 -11.4 1 -1.3 1.1 4 7.3 41.4 5.2 23.5 6.2 22.2 3.2 9.1 4.1 10.4 4.2 8.9 4.2 7.4 4.1 6.3 5.2 6.5 5.2 5.3 6.3 5.2 6.2 4.1 7.3 3.7 12.5 4.6 15.6 3.5 18.8 2.5 23.9 1.7 35.5 1.3 52 1.2 156.3 1.7M156.3 380.0l133.4 0 2 -.1 1.1 -.7 1 -2.5 1.1 -7.6 1 -16.3 3.1 -75.2 1.1 -10.2 1 -.4 5.2 28.9 4.2 19.3 4.2 14.8 5.2 13.7 3.1 6.2 3.1 5.1 3.1 4.1 3.2 3.2 4.1 3.4 4.2 2.6 4.2 1.9 5.2 1.7 11.4 2.5 14.6 1.8 17.7 1.2 26 .9 99 1.2 169.8 .4M156.3 380.0l142.7 -.1 1.1 -1 1 -5.4 1.1 -18 2 -76.7 1.1 -25.7 1 -5.3 1.1 5.7 4.1 31.8 3.2 18.8 4.1 19.4 5.2 17.4 3.2 7.8 3.1 6.2 3.1 5 3.1 4 3.2 3.2 4.1 3.3 4.2 2.4 5.2 2.2 7.3 2 9.4 1.5 11.4 .8 16.7 .5 290.6 .2M156.3 380.0l136.5 0 6.2 -.1 1.1 -.5 1 -3 1.1 -11.3 3.1 -105.7 1 -19.6 1.1 -3.1 6.2 33.8 5.2 23.2 5.2 18 6.3 16.4 3.1 6.4 4.2 7 3.1 4.4 4.2 4.8 4.1 3.8 5.2 3.7 5.2 2.8 5.2 2.2 12.5 3.8 16.7 3.1 18.8 2.1 23.9 1.5 39.6 1.4 59.4 1.4 153.1 1.9M156.3 380.0l125 0 17.7 -.2 2.1 -.3 1.1 -2.3 1 -11.3 3.1 -110.9 1.1 -14.3 1 .5 6.3 30.9 6.2 24.5 6.3 18.8 3.1 7.7 4.1 8.8 4.2 7.3 4.2 6.2 4.1 5.2 5.2 5.3 5.3 4.3 5.2 3.4 6.2 3.3 6.3 2.6 11.4 3.3 14.6 2.6 17.7 1.7 21.9 1.1 73.9 1.1 174 .5M156.3 380.0l132.3 0 5.2 -.4 1.1 -.9 1 -2.5 1.1 -6 1 -11.7 4.2 -87.5 1 -12.2 1 -3.5 1.1 2.9 5.2 36.4 3.1 17.5 4.2 17.1 4.1 11.8 2.1 4.5 3.2 5.4 3.1 4.2 3.1 3.2 4.2 3.4 4.1 2.6 9.4 3.9 10.4 2.5 13.6 1.6 19.8 1.3 33.3 1.2 113.5 2.6 146.9 1.5M156.3 380.0l133.4 -.2 1 -.6 1 -1.8 1.1 -4.4 1 -8.7 4.2 -56.5 1 -5.1 1.1 -.2 1 2.8 5.2 19.8 3.1 9.6 5.3 12.4 5.2 9.1 6.2 7.6 3.1 2.8 4.2 3.1 8.3 4.1 10.4 2.9 8.4 1.4 10.4 .9 30.2 .8 287.5 .2M156.3 380.0l131.3 0 3.1 -.5 1 -1.2 1.1 -3.2 1 -7.2 1.1 -13.3 4.1 -98.5 1.1 -15.2 1 -6.1 1.1 1.2 1 5.3 5.2 36.6 4.2 23 4.1 17.9 4.2 13.7 5.2 12.9 3.1 5.8 3.2 4.8 3.1 3.8 4.2 3.9 4.1 2.7 4.2 1.8 5.2 1.4 7.3 .9 54.1 2.7 37.5 1.4 105.2 2.3 131.3 1.6M156.3 380.0l133.4 0 3.1 -.5 1 -1.5 1.1 -4.1 1 -9.4 2.1 -45.6 3.1 -98.2 1.1 -15.6 1 -3.5 1 5.1 5.2 51.6 3.2 25 4.1 25.5 4.2 18.8 5.2 16.7 5.2 11.3 3.1 5 4.2 4.9 3.1 2.6 4.2 2.4 7.3 2.2 15.6 2.4 13.6 1.1 18.7 .7 114.6 1.5 172.9 .9M156.3 380.0l135.4 0 3.2 -.4 1 -1.9 1.1 -7 1 -17.9 3.1 -86 1.1 -6.5 1 4.4 3.1 25.9 3.1 21.2 3.2 16.1 4.1 15.7 4.2 10.9 2.1 4.1 3.1 4.8 3.1 3.6 3.2 2.7 3.1 2 4.2 1.7 6.2 1.3 7.3 .1 27.1 -2.7 15.6 -.5 65.6 4.2 51 2 72.9 1.3 103.2 .6M156.3 380.0l129.2 0 1 -.1 1.1 -.8 1 -4.4 1.1 -17 1 -42.2 2.1 -135.9 1 -36.1 1.1 2 3.1 77.4 2.1 40.8 2.1 25.8 1 6.8 1 1.9 1.1 -3.3 1 -8.6 4.2 -56.3 1 -6.1 1.1 1.7 1 9.5 1.1 15.8 4.1 72.8 2.1 18.7 1 4.9 1.1 2.8 1 1.7 2.1 1.7 12.5 8 6.3 3.3 7.2 3.1 8.4 2.7 9.4 2.3 9.3 1.7 11.5 1.6 26 2.1 29.2 1 40.6 .5 202.1 .2M156.3 380.0l129.2 0 3.1 -.4 1.1 -2.5 1 -10.7 1 -30 3.2 -158.3 1 -6.6 5.2 102.6 2.1 26.2 2.1 15.3 1 3.3 1.1 .1 1 -3.1 2.1 -15.1 3.1 -30.8 1.1 -6.8 1 -2.7 1 2 1.1 6.5 5.2 62.1 2.1 17.3 2.1 8.9 1 2.2 2.1 1.8 7.3 .3 4.1 .6 24 6.9 19.8 3.9 21.8 2.8 27.1 1.9 33.4 1.2 43.7 .7 177.1 .4M156.3 380.0l133.4 -.2 1 -1.4 1 -6.4 1.1 -20.1 3.1 -138.2 1.1 -13.5 1 10.4 3.1 59.4 2.1 29.1 2.1 20.6 2.1 13.6 1 4.2 1 2.4 1.1 .5 1 -1.6 1.1 -3.7 2.1 -13 4.1 -34.4 1.1 -5.4 1 -2.6 1 .7 1.1 3.8 1 6.6 5.2 48.4 2.1 13.8 2.1 7.9 1 2.2 2.1 2.1 2.1 .5 8.3 -.7 6.3 .2 32.3 5.2 21.8 2.7 28.2 2.4 32.3 1.7 36.4 1.2 45.8 .8 138.6 .7M156.3 380.0l130.2 0 3.2 -.2 1 -.6 1 -2.5 1.1 -7.4 1 -16.4 3.2 -97.5 1 -20.8 1 -5.1 1.1 6.4 3.1 36.4 2.1 19 2.1 13 2 7.6 1.1 2 1 .9 1.1 0 2.1 -2.3 5.2 -9.4 1 -.8 1 -.2 1.1 .7 1 1.6 2.1 5.5 7.3 31 3.1 10.7 2.1 4.9 2.1 3.3 2.1 2 2.1 1.2 4.1 1.2 26.1 4.5 21.8 3.2 28.2 2.8 32.2 2 38.6 1.5 46.8 .9 145.9 .8M156.3 380.0l118.8 0 11.4 -.3 2.1 -.5 1.1 -2.4 1 -9.8 1 -27 2.1 -103.1 1.1 -33.5 1 -1.5 4.2 85.8 3.1 38.7 2.1 15.3 3.1 13.6 3.1 6.6 2.1 2.3 2.1 1.2 4.2 .5 9.3 -1.4 2.1 -1 2.1 -2.7 2.1 -5.8 1 -4.6 5.2 -31.2 1.1 -3.7 1 -1.4 1.1 1.2 1 3.6 5.2 33.2 1 5.2 2.1 7.1 1.1 2.1 2.1 2.4 3.1 1.4 5.2 1.1 17.7 2.8 19.8 2.1 22.9 1.5 28.1 1 74 1 160.4 .2M156.3 380.0l118.8 0 10.4 -.2 4.2 -.5 1 -1.6 1 -6.8 1.1 -21.3 3.1 -140.4 1.1 -10 1 15.2 3.1 67.9 2.1 30 2.1 19.9 2.1 13 3.1 11.4 3.1 5.6 3.1 2.3 4.2 .8 7.3 -.6 3.1 -1.1 2.1 -2.1 2.1 -4.8 1 -3.8 5.2 -25.7 1.1 -3 1 -1.1 1.1 1 1 3.1 6.2 32 1.1 3.4 2.1 4.3 2.1 2.1 2 1 13.6 2.7 16.6 2.3 19.8 1.8 22.9 1.3 28.2 .9 72.9 .8 155.2 .2M156.3 380.0l110.4 -.1 20.9 -.7 2.1 -.2 1 -.6 1 -2.2 1.1 -6.4 1 -14.1 3.2 -79.9 1 -15 1 -1.1 5.2 56.7 2.1 16.2 2.1 11.8 2.1 8.5 3.1 8.4 3.1 4.8 2.1 1.9 2.1 1 2.1 .2 2.1 -.4 2.1 -1 3.1 -2.8 5.2 -7.7 10.4 -19.9 3.1 -3.7 2.1 -1.2 1 -.1 1.1 .1 2.1 1.2 3.1 3.7 10.4 19.3 3.1 4.8 3.2 3.8 3.1 2.7 3.1 1.7 4.2 1.5 4.1 .7 16.7 1.5 31.3 1.9 62.4 2.4 78.2 1.3 110.4 .7M156.3 380.0l110.4 -.1 20.9 -.7 2.1 -.2 1 -.7 1 -2.1 1.1 -6.4 1 -14.1 3.2 -80 1 -14.9 1 -1.2 5.2 56.7 2.1 16.2 2.1 11.7 2.1 8.4 3.1 8.3 3.1 4.8 2.1 1.8 2.1 1 2.1 .3 3.1 -.4 5.2 -2.7 5.2 -4.8 10.4 -12.2 4.2 -4.2 4.2 -2.7 2.1 -.6 2 -.1 3.2 .9 4.1 2.8 4.2 4.1 10.4 11.9 7.3 6.2 4.2 2.4 4.1 1.7 5.2 1.3 6.3 .9 15.6 1.3 27.1 1.4 60.4 2 73.9 1.1 103.2 .6M156.3 380.0l108.4 -.1 20.8 -.6 5.2 -.4 1 -.4 1.1 -1.6 1 -4.8 1.1 -11.6 3.1 -78.4 1 -18.7 1.1 -4.8 1 6.5 4.2 48.4 2.1 16.9 2 12.3 3.2 12.3 3.1 7.3 3.1 4.2 2.1 1.6 2.1 .9 2.1 .3 3.1 -.4 5.2 -2.4 5.2 -4.2 10.4 -11 4.2 -3.8 4.2 -2.6 4.1 -.8 4.2 1 4.2 2.7 14.5 14.7 7.3 5.5 4.2 2.1 4.2 1.5 5.2 1.1 6.2 .9 42.7 2.5 59.4 1.9 73.9 1.1 101.1 .6M156.3 380.0l132.3 0 3.1 -.3 1.1 -1.2 1 -3.5 1.1 -8.7 3.1 -58.5 1 -14 1.1 -3.5 1 5 4.2 36.5 2.1 12.9 2 9.3 2.1 6.8 3.2 6.6 3.1 3.9 2.1 1.4 2 .9 3.2 .3 3.1 -.4 21.9 -7.7 10.4 -2.5 11.4 -1.9 10.5 -1.1 10.4 -.6 33.3 -.5 10.4 .3 8.3 .8 31.3 5.9 18.7 2 193.8 9.2M156.3 380.0l136.5 -.2 1 -.8 1.1 -2.7 1 -6.9 1.1 -13.7 3.1 -59.1 1 -6.4 1.1 3 5.2 43.6 3.1 15.9 2.1 7 3.1 6.9 3.1 3.8 2.1 1.5 2.1 .7 2.1 .2 3.1 -.3 14.6 -4.5 11.4 -1.8 22.9 -1 31.3 0 53.1 1.4 52.1 3.6 42.7 2.3 76 3.3 56.3 1.7"/>
<rect x="127.3" y="65.0" width="588.7" height="4.8" fill="#000"/>
<rect x="711.0" y="65.0" width="5.0" height="331.9" fill="#000"/>
<rect x="127.3" y="65.0" width="6.8" height="331.9" fill="#000"/>
<rect x="127.3" y="390.2" width="588.7" height="6.7" fill="#000"/>
<text transform="translate(9.00 56.20) scale(0.9262 1)" x="-1.66" y="0" font-size="56.70" font-weight="bold" fill="#000">a</text>
<text transform="translate(212.30 42.70) scale(0.9709 1)" x="-2.48" y="0" font-size="48.90" fill="#000">Chronic Pancreatitis</text>
<text transform="translate(69.00 391.30) scale(0.9123 1)" x="-1.29" y="0" font-size="33.00" fill="#000">0.0</text>
<text transform="translate(69.00 316.45) scale(0.9223 1)" x="-1.66" y="0" font-size="33.00" fill="#000">2.5</text>
<text transform="translate(69.00 240.60) scale(0.9130 1)" x="-1.32" y="0" font-size="33.00" fill="#000">5.0</text>
<text transform="translate(69.00 165.75) scale(0.9230 1)" x="-1.69" y="0" font-size="33.00" fill="#000">7.5</text>
<text transform="translate(52.50 91.90) scale(0.9268 1)" x="-2.51" y="0" font-size="33.00" fill="#000">10.0</text>
<text transform="translate(143.10 437.00) scale(1.0280 1)" x="-1.47" y="0" font-size="33.00" fill="#000">-1</text>
<text transform="translate(281.40 437.00) scale(1.0143 1)" x="-1.29" y="0" font-size="33.00" fill="#000">0</text>
<text transform="translate(415.50 437.00) scale(1.0051 1)" x="-2.51" y="0" font-size="33.00" fill="#000">1</text>
<text transform="translate(548.20 437.00) scale(0.9645 1)" x="-1.66" y="0" font-size="33.00" fill="#000">2</text>
<text transform="translate(681.60 437.00) scale(0.8884 1)" x="-1.26" y="0" font-size="33.00" fill="#000">3</text>
<text transform="translate(270.70 477.00) scale(0.9667 1)" x="-1.76" y="0" font-size="41.50" fill="#000">coefficient values</text>
<text transform="translate(34.80 293.50) rotate(-90) scale(0.9659 1)" x="-3.40" y="0" font-size="41.50" fill="#000">Density</text>
<path fill="none" stroke="#CC6677" stroke-width="1.60" stroke-linejoin="round" stroke-linecap="butt" d="M941.0 380.0l127.1 -.2 3.1 -.7 3.2 -2.6 2 -3.6 5.3 -12.6 2 -2.7 1.1 -.1 1 .7 3.1 4.4 1.1 .6 1 -.9 2.1 -6.5 1 -8.6 1.1 -61 1 -145.4 1.1 -44.6 3.1 90.2 2.1 46.9 2.1 35.4 3.1 36.9 3.1 23.9 2.1 11.1 2.1 8.3 2.1 6.4 3.1 6.7 3.1 4.5 3.1 3 3.2 1.9 4.1 1.6 3.1 .6 3.2 -.4 2.1 -1.4 1 -1.2 6.2 -11.4 1.1 -.9 1 -.1 1.1 .6 1 1.4 4.2 8.5 3.1 4.5 3.1 1.8 5.2 .7 42.7 2 58.4 1.3 78.1 .7 124.9 .2M941.0 380.0l128.2 0 4.1 -.6 2.1 -1.9 1 -4 1.1 -15.9 1 -51.5 1.1 -111.1M1085.8 118.7l2.1 90.9 2.1 54.5 2.1 33 3.1 28.1 3.1 14.9 2.1 5.9 2.1 3.8 3.1 3.5 9.4 6.6 10.4 10.5 4.2 3.3 6.2 2.8 7.3 1.5 12.5 1.1 18.7 .6 298.9 .3M941.0 380.0l137.5 0 3.2 -.3 2 -.6 2.1 -1.6 1.1 -1.3 1 -1.8 1 -4.1 1.1 -14.1 1 -44 2.1 -206M1096.2 89.6l3.2 153.8 1 30.6 2.1 40.9 2.1 23.8 2 14 1.1 4.7 2.1 6.6 2.1 4.1 3.1 3.5 3.1 2 4.2 1.5 5.2 .9 5.2 .3 7.3 -.2 8.3 -.9 8.3 -1.5 5.2 -1.4 4.2 -1.9 4.2 -3.2 4.1 -4.7 9.4 -13 3.1 -2.6 2.1 -.6 2.1 .3 3.1 2.2 9.4 11.8 5.2 4.9 5.2 2.5 6.3 1.2 48.9 2.3 62.5 2.1 66.7 1.7 74.9 1.4M941.0 380.0l131.3 -.1 3.1 -.3 2.1 -.7 2.1 -1.3 5.2 -4.6 3.1 -.9 1 -6.2 1.1 -33.4 2.1 -158.7 1 -20.2 4.2 121.9 3.1 49.9 2.1 18.8 3.1 16.2 3.1 8.2 2.1 2.9 2.1 1.7 3.1 1.2 5.2 .1 25 -5 8.4 -.9 8.3 -.2 12.5 .8 31.2 3.4 21.9 1.9 25 1.6 28.1 1.2 76 1.8 115.6 .7M941.0 380.0l120.9 -.2 5.2 -.7 2.1 -1.5 1 -1.5 2.1 -4.7 1 -3.4 5.2 -22 2.1 -6.2 1.1 -15.5 2 -218.2 3.2 125.2 2 47.4 2.1 28.6 3.1 24.6 3.2 13.4 2.1 5.6 3.1 5.8 3.1 3.9 4.2 3.6 6.2 3.3 8.4 2.4 10.4 1.4 16.6 .9 63.6 2.3 70.8 1.8 85.4 1.3 102 1M941.0 380.0l124 0 6.2 -.3 3.2 -1.3 2 -2.4 1.1 -1.8 2.1 -5.3 3.1 -10.3 2.1 -5 1 -1 1.1 .2 2 2.1 1.1 -5.1 1 -31.1 2.1 -218.6M1097.3 87.3l3.1 146.9 1 29.9 2.1 41.9 2.1 26 1 9 2.1 12.7 3.2 10.7 2 4.1 3.2 3.5 3.1 1.9 3.1 1.1 9.4 1.7 20.8 1.6 28.1 1 71.9 .6 219.7 .1M941.0 380.0l128.2 -.2 4.1 -1 3.1 -2.2 3.2 -3.8 4.1 -6.1 1.1 -5.3 1 -27.2 1.1 -86.4 1 -143.2M1093.1 112.0l2.1 66 2.1 42.6 2.1 28.4 6.2 64.7 3.1 27 3.2 16.7 1 3.5 2.1 4.7 2.1 2.9 2 1.8 3.2 1.7 4.1 .9 4.2 -.4 8.3 -1.7 4.2 -.2 25 3.1 19.8 1.8 26 1.5 32.3 1.1 85.4 1.3 141.6 .5M941.0 380.0l137.5 -.1 1.1 -6.4 2.1 -193.8 3.1 105.3 1 20.2 1.1 13.2 1 7.9 1 4.2 1.1 2 3.1 2.5 1 1.4 5.3 9.4 4.1 6 3.1 3.4 4.2 3.7 4.2 3 4.1 2.3 9.4 3.6 10.4 2.2 17.7 1.7 19.8 1.4 4.2 -.1 2.1 -.6 2.1 -1.8 2 -3.2 4.2 -8.7 1 -1.5 1.1 -.6 1 .2 1.1 1 5.2 11.1 2.1 3.3 3.1 2.3 4.2 .7 41.6 1.6 58.3 1.3 163.5 1.4M941.0 380.0l126.1 0 4.1 -.5 2.1 -1.1 1.1 -1.1 2 -3.5 1.1 -2.8 5.2 -17 1 -1.8 2.1 -1.2 1.1 -5.9 1 -29 2.1 -106.6 1 -8.1 4.2 54 2.1 17.3 2.1 11.9 6.2 26.1 7.3 36.9 3.1 12.2 2.1 5.6 2.1 3.8 3.1 3.5 3.1 1.8 6.3 1.7 9.4 .7 30.2 -1.4 15.6 -.2 130.2 2.5 155.1 1.4M941.0 380.0l132.3 0 5.2 -.4 1.1 -2.2 1 -10.7 1.1 -34.7 3.1 -233 1 -9.3 4.2 161 1 25.5 2.1 32.1 1 9.2 2.1 9.9 1.1 2.2 3.1 3.9 2.1 4.1 7.3 25.7 2.1 5 3.1 4.1 3.1 1.7 4.2 1.1 7.3 .9 7.2 .3 15.7 -.8 36.4 -4.8 20.9 -.8 133.3 4.6 130.1 2.7M941.0 380.0l104.2 -.3 19.8 -1 11.4 -1.3 2.1 -.6 1.1 -2.7 1 -13.9 3.1 -163 1.1 -11.2 3.1 72.2 2.1 37.2 2.1 24 1 8.1 2.1 9.4 1 1.6 1.1 0 1 -1.4 4.2 -8.9 1 -1 1.1 -.2 1 .5 2.1 2.7 6.2 10.4 5.2 6.5 7.3 6.5 9.4 5.6 7.3 3.1 8.3 2.8 9.4 2.4 9.4 1.9 23.9 3.3 30.2 2.4 41.7 1.9 53.1 1.4 65.6 .8 88.5 .5M941.0 380.0l134.4 0 4.2 -.4 2.1 -1.4 2 -4 1.1 -3.3 4.1 -19.5 2.1 -7.6 1.1 -7.9 1 -36.3 1 -100.9M1100.4 116.4l2.1 62.2 2.1 46.8 3.1 49.5 3.1 32.5 2.1 15.3 2.1 11.7 2.1 8.9 2 6.9 2.1 5.4 3.2 5.9 3.1 4.2 4.1 3.8 4.2 2.5 4.2 1.8 10.4 2.6 15.6 1.8 20.8 1.1 58.4 .6 228 .1M941.0 380.0l127.1 0 6.3 -.8 2 -1 2.1 -1.6 1.1 -5.8 1 -50.2 2.1 -230.3 1 34.3 2.1 109.2 2.1 62.9 1 20 2.1 25.2 1.1 6.9 1 3.7 1 1 1.1 -1.1 3.1 -8.1 1.1 -1.7 1 -.7 1 .5 1.1 1.3 5.2 9.7 3.1 4.8 3.1 3.5 4.2 3 3.1 .9 3.2 -.2 3.1 -1.3 8.3 -5.2 3.1 -.8 2.1 .3 2.1 .9 2.1 1.6 9.4 9.8 4.1 3.4 3.1 1.6 3.2 1 7.3 1 22.9 .5 61.4 .5 216.6 .9M941.0 380.0l135.4 -.1 3.2 -.3 2.1 -.6 2 -1.4 2.1 -2.4 3.1 -5.6 1.1 -14 1 -182.1M1094.1 134.2l1.1 62.4 2.1 78.4 1 24.2 2.1 31.2 2.1 17.4 1 5.6 2.1 7.7 3.1 6.3 2.1 2.5 3.1 2.5 4.2 2.1 4.2 1.4 12.5 2.3 19.8 1.3 12.5 .3 5.2 -.4 4.1 -1.4 3.2 -2.6 3.1 -4.2 6.2 -10.4 2.1 -1.8 1 -.4 2.1 .7 2.1 2.3 6.3 10.5 3.1 4 2.1 1.7 2.1 1 5.2 1 258.2 .2M941.0 380.0l139.6 0 4.2 -.3 3.1 -1.3 1 -1.7 1.1 -7.7 1 -34.1 1.1 -98M1098.3 98.2l1.1 56.7 2 75.1 2.1 43.4 2.1 26.2 3.1 22.6 2.1 8.9 2.1 6.3 3.1 6.4 3.1 4.4 4.2 4.4 4.2 3.5 6.2 4 6.3 3.1 7.3 2.6 8.3 2.1 20.8 2.9 46.9 4.4 36.4 1.8 50 1.3 68.8 .8 94.7 .5M941.0 380.0l139.6 0 1.1 0 1 -.8 1 -8.2 1.1 -43.6 2.1 -228.5M1088.9 111.6l2.1 111.3 1.1 37.7 2 48.5 2.1 25.6 2.1 12.7 2.1 6 3.1 4 8.4 7.7 4.1 3.3 5.2 3 5.2 2.2 5.2 1.5 5.2 .7 5.3 -.9 9.3 -5.4 3.2 -.8 2 .3 2.1 .9 8.4 5.1 3.1 1 3.1 .4 21.9 -1.2 12.5 -.1 60.4 2.4 45.8 1.2 65.6 .8 93.7 .4M941.0 380.0l142.7 0 1.1 -1.1 1 -69.1M1088.9 110.4l1.1 54.3 2.1 77 2 47.2 2.1 28 2.1 15.7 1.1 4.9 2 6 2.1 3.4 3.1 3.6 6.3 6.4 4.2 3.4 4.1 2.7 5.2 2.7 11.5 4.3 12.5 3.2 12.5 1.6 7.3 0 15.6 -1.3 8.3 -.2 50 3.4 47.9 1.7 70.9 1 110.3 .5M941.0 380.0l131.3 0 2.1 -.2 2 -.6 2.1 -2.1 2.1 -4.8 5.2 -17.3 1.1 -1.8 1 -.8 2.1 -.1 1 -3.6 1.1 -19 1 -51.6 2.1 -137.1 1 -7.4 4.2 134.2 1 22.1 2.1 31 2.1 19.3 3.1 16.4 3.2 8.3 2 3.2 3.2 2.8 3.1 1.3 3.1 .2 3.1 -.5 8.4 -2.4 5.2 -.5 5.2 .4 17.7 2.6 3.1 0 2.1 -.6 2.1 -1.5 2.1 -3.3 2 -5.3 5.3 -16.8 1 -2 1 -.9 1.1 .3 2.1 3.9 5.2 17.9 3.1 7.2 1 1.5 2.1 1.7 4.2 1.2 40.6 2 56.2 1.4 71.9 .8 104.1 .4M941.0 380.0l122.9 -.1 3.2 -.5 3.1 -1.6 3.1 -3.2 3.1 -5.1 3.2 -9.1 1 -6.5 1.1 -19 1 -55.2 2.1 -183.1M1086.9 115.1l3.1 121.2 2.1 45.9 1 15.9 2.1 22.5 3.1 19.6 3.1 10.7 2.1 4.6 3.1 4.9 3.2 3.5 4.1 3.4 5.2 3.2 5.3 2.2 6.2 1.9 5.2 .7 4.2 -.2 4.1 -.9 14.6 -5.6 4.2 -.7 4.2 -.2 56.2 4.6 64.6 3.2 81.2 2.2 104.1 1.3M941.0 380.0l132.3 0 5.2 -.6 1.1 -1.8 1 -9.2 1.1 -35.7 2 -221M1087.9 89.0l1 67.9 2.1 92.7 1.1 29.6 2 38.7 2.1 22 2.1 12.7 1.1 4.3 2 5.9 2.1 3.7 3.1 3.3 4.2 2.4 6.3 2.1 8.3 1.7 7.3 .6 8.3 -.4 16.7 -3 9.4 -.5 54.1 2 67.7 1.6 84.4 1.3 99.9 1M941.0 380.0l129.2 -.1 2.1 -.4 2.1 -1.8 2 -4.7 3.2 -9.6 1 -1.2 1.1 .4 3.1 6.8 1 1.3 1.1 0 3.1 -3.7 2.1 -1.4 1 -4.1 1 -28.9 2.1 -177.2 1.1 -15.9 3.1 120.2 1 27.1 2.1 36.1 2.1 21 2.1 12.3 1 4.1 2.1 5.6 2.1 3.4 3.1 2.8 5.2 2 6.3 .7 27.1 -.6 44.7 2.7 46.9 1.5 86.4 1.1 140.6 .4M941.0 380.0l147.9 0 1.1 -5.5 1 -100.5M1093.1 97.3l2.1 127.8 1 40.8 2.1 52.2 2.1 28.3 2.1 15.4 1 4.8 2.1 6.1 1 1.9 2.1 2.5 2.1 1.3 3.1 1 8.4 .5 12.5 -.3 21.8 -2.1 11.5 -.4 60.4 1.3 57.3 .8 187.4 .7M941.0 380.0l130.2 0 4.2 -.6 2.1 -1.5 1 -1.4 2.1 -4.3 6.3 -16.1 1 -33.4 1 -176.5M1093.1 111.8l1 63.7 2.1 83.5 1.1 26.8 2.1 35.3 2 20 2.1 11.4 1.1 3.7 2 4.9 2.1 3 2.1 1.9 4.2 2.2 5.2 1.9 7.3 1.9 8.3 1.6 18.8 2.2 25 1.3 40.6 1.1 62.5 .8 190.5 .8M941.0 380.0l127.1 -.1 4.2 -.8 2.1 -1.7 1 -1.5 2.1 -4.9 3.1 -12 2.1 -11.1 1 -13.6 2.1 -187.4 4.2 131 1 20.6 2.1 26.8 2.1 14.3 1 4.5 2.1 6.2 2.1 4.1 3.1 4.1 3.1 2.8 4.2 2.9 7.3 3.5 9.4 2.5 27.1 3.4 6.2 0 3.1 -1.7 3.2 -4.3 2 -4.9 5.2 -15 2.1 -3.6 1.1 -.6 1 .2 2.1 3.2 6.2 18.4 3.2 6.5 3.1 3.3 2.1 1 3.1 .6 32.3 1.1 59.3 .9 183.3 1M941.0 380.0l139.6 0 3.1 -.2 1.1 -1.2 1 -12.2 2.1 -129.4 1 -27.5 3.2 71 1 16.6 2.1 21.3 2.1 11.8 2.1 7.4 2 5.6 3.2 6.9 3.1 5.2 3.1 3.9 4.2 3.7 4.1 2.8 5.3 2.7 8.3 3 8.3 2 10.4 1.5 12.5 .8 140.6 3 168.7 1.1M941.0 380.0l140.7 0 4.1 -.3 1.1 -.7 1 -3.7 1 -13.8 3.2 -107.4 1 -4.2 3.1 40.2 2.1 15.9 4.2 18.8 5.2 19.4 2.1 5.9 3.1 6.9 2.1 3.5 3.1 4.2 3.1 3.2 4.2 3.2 4.2 2.3 4.1 1.7 8.4 2 8.3 .3 6.2 -1 14.6 -4 5.2 -.6 5.2 -.2 59.4 3.1 61.4 2 76.1 1.5 94.7 1M941.0 380.0l133.4 0 3.1 -.4 2.1 -1.3 2.1 -3.6 1 -2.8 1 -10.1 2.1 -181.9 1.1 20.5 1 40.8 2.1 54.1 1 17.2 2.1 22.6 2.1 12.7 1 4.1 2.1 5.7 2.1 3.5 2.1 2.3 5.2 3.5 5.2 2.2 7.3 2.3 8.3 2 9.4 1.7 19.8 2.3 26 1.5 29.2 .7 40.6 .3 219.7 .1M941.0 380.0l137.5 0 5.2 -.3 2.1 -.9 1.1 -2.3 1 -9.3 1 -27.6 3.2 -171.8 1 -12.4 5.2 88.5 3.1 31.8 3.2 22.2 2 11 2.1 7.9 2.1 5 3.1 5 2.1 4.4 6.3 21.4 2.1 5.9 2 3.9 3.2 3.1 2 1 3.2 .7 11.4 1.2 27.1 4 22.9 1.8 32.3 1.7 44.8 1.4 54.1 1.1 145.8 1.2M941.0 380.0l139.6 -.1 3.1 -.7 2.1 -1.4 5.2 -6.2 2.1 -1.7 1 -1.6 1.1 -32.1 1 -180.9M1100.4 92.8l3.1 133.2 2.1 51.5 2.1 33.7 2.1 22 3.1 19.7 2.1 7.8 2.1 5.1 2 3.5 3.2 3.2 3.1 1.9 4.2 1.4 5.2 1 3.1 -.2 2.1 -1.2 1 -1.1 5.2 -9.2 1.1 -1.3 1 -.6 1 .3 1.1 1.1 4.2 8.3 2 3.2 3.2 2.2 4.1 .6 27.1 .7 41.7 .3 240.5 .1M941.0 380.0l133.4 -.1 4.1 -.8 3.2 -1.7 7.2 -7.5 3.2 -2.3 1 -3.5 1 -22.1 1.1 -79 1 -147.9M1101.4 110.2l3.2 118.2 2 47.9 3.2 44.3 3.1 24.8 3.1 14 2.1 5.7 2.1 3.9 2.1 2.7 2.1 1.9 2 1.2 3.2 1.1 6.2 .3 5.2 -1 14.6 -4.4 5.2 -.8 8.3 -.4 3.2 -1 3.1 -2.9 2.1 -3.6 7.3 -20.9 2 -3.9 1.1 -.7 1 .1 2.1 2.8 7.3 22.4 3.1 6.6 3.1 3.5 2.1 1.1 3.2 .8 13.5 1.2 25 1.4 55.2 1.8 69.8 1 99.9 .5M941.0 380.0l135.4 0 2.1 -.1 2.1 -.7 1.1 -1.2 1 -2.2 1 -3.7 4.2 -22.8 1 -3.6 2.1 -4.6 1.1 -87.1M1096.2 133.6l1.1 51.8 2.1 71.4 1 24.3 2.1 33.7 2.1 20.7 3.1 17.5 2.1 6.6 2.1 4.3 2 2.9 3.2 2.7 4.1 1.8 4.2 .7 5.2 -.3 11.5 -1.5 7.2 -.1 29.2 3.3 19.8 1.7 28.1 1.6 32.3 1.2 82.3 1.4 132.2 .6M941.0 380.0l137.5 0 11.5 -.1 2.1 -.5 1 -2.5 1 -9.8 1.1 -24.6 2.1 -77.3 1 -19.9 1.1 .3 4.1 47.3 2.1 18.6 3.1 20.5 3.2 14.3 4.1 12.5 4.2 7.7 2.1 2.6 3.1 2.8 3.1 2 3.1 1.3 7.3 1.7 8.4 .6 4.1 -.6 3.2 -1.8 2 -2.5 2.1 -3.9 7.3 -20 2.1 -3.1 1 -.4 1.1 .4 2.1 3.2 6.2 17.6 3.1 6.5 3.2 3.4 2 1 3.2 .7 91.6 .7 191.6 .7M941.0 380.0l131.3 0 4.1 -.4 2.1 -1.6 2.1 -4.4 1.1 -3.8 3.1 -15.4 2.1 -7.2 1 -1.2 1 .3 5.2 7.4 1.1 -.3 1 -46.1 1.1 -109.3 1 3.7 2.1 51.1 2.1 35 2.1 23.9 2 16.3 3.2 15.2 3.1 8.5 2.1 3.5 2.1 2.5 2 1.7 3.2 1.8 5.2 1.9 6.2 1.6 17.7 3 21.9 2.1 30.2 1.8 52.1 2.1 64.6 1.7 153 2.5M941.0 380.0l142.7 0 1.1 -.1 1 -1 1.1 -8.8 1 -39.2 2.1 -204.3M1093.1 98.0l2.1 58.5 3.1 64.3 3.1 45 4.2 41.5 4.2 26.5 4.1 16.6 3.2 8.2 3.1 5.8 3.1 4.2 4.2 3.7 6.2 3.3 8.4 2.2 10.4 1.2 15.6 .6 51 .4 254.1 0M941.0 380.0l139.6 0 6.3 -.5 2 -.7 1.1 -.8 1 -7.4 2.1 -137.2 1 2.4 2.1 61.3 1.1 18.4 2.1 21.3 2 10 1.1 2.9 2.1 4 4.1 4.5 3.2 2 3.1 1.4 22.9 6.9 16.7 3.6 20.8 2.7 27.1 1.9 38.5 1.4 54.2 1 178 .8M941.0 380.0l111.5 -.1 19.8 -.8 2.1 -.2 1 -.8 1 -5.3 1.1 -22.8 1 -61 2.1 -183.9 1.1 -22.1 3.1 146.9 2.1 68.5 1 20.9 2.1 25.5 2.1 12.1 1 3.1 2.1 2.8 2.1 .7 8.3 1.4 6.3 .7 24.9 1 48 3.2 40.6 1.8 108.3 3.1 139.5 2.2M941.0 380.0l130.2 0 3.2 -.3 2 -.6 2.1 -1.5 2.1 -2.8 2.1 -4.7 6.2 -17.8 1.1 -1.8 2.1 -1.7 1 -2.1 1 -15.8 1.1 -64.1 1 -136.8M1101.4 112.1l1.1 54.4 2.1 77 2 48.1 2.1 30.2 2.1 19.1 3.1 16.6 2.1 6.4 2.1 4.2 2.1 2.9 3.1 2.7 3.1 1.7 3.2 1.1 8.3 1.4 31.2 -1 4.2 -1 3.1 -1.4 11.5 -8.9 2.1 -1 2 -.4 2.1 .3 3.2 1.6 8.3 7.2 4.2 2.7 5.2 1.9 6.2 .7 88.5 .9 163.5 .4M941.0 380.0l130.2 0 4.2 -.5 2.1 -1.2 1 -1 3.2 -5.5 5.2 -13.1 2 -2.6 1.1 -.4 2.1 .4 1 -13.8 1 -111.7M1098.3 124.5l1.1 54.5 2 75.7 1.1 26 2.1 36.1 2 22.3 3.2 18.6 2.1 6.9 2 4.4 2.1 2.9 3.1 2.6 5.3 2.3 8.3 1.6 11.4 .9 16.7 .5 312.4 .2M941.0 380.0l145.9 -.2 1 -2.9 1 -18.1 2.1 -132.6 1.1 -37.8 1 20.4 3.1 103.7 2.1 32.8 1.1 9.8 2 12.1 1.1 3.6 2.1 4.4 1 1.4 2.1 1.5 2.1 .7 2.1 .1 2 -.5 2.1 -1.1 3.1 -2.9 6.3 -8.2 2.1 -1.5 1 -.2 1.1 .2 2 1.4 6.3 7.9 2.1 2 2.1 1.3 3.1 .8 6.2 -.6 19.8 -5 5.2 -.7 6.3 -.3 8.3 .4 49 3.8 52 2.2 72.9 1.3 108.3 .6M941.0 380.0l131.3 0 5.2 -.7 3.1 -1.9 2.1 -2.8 2.1 -3.9 1 -2.4 1.1 -4.3 1 -15.1 2.1 -91.8 1 -25 1.1 7.4 2 35.7 2.1 27.8 2.1 20.1 3.1 20.2 3.2 12.5 2 5.5 2.1 4.1 2.1 3 3.1 3.3 3.2 2.1 3.1 1.6 5.2 1.6 5.2 1 13.5 1 16.7 -.5 5.2 -.8 3.1 -1.1 4.2 -2.7 3.1 -3.7 3.2 -5.2 8.3 -17.1 3.1 -3.7 2.1 -.5 2.1 1.2 2.1 2.5 8.3 16.5 4.2 6.3 2 2.1 3.2 2.1 3.1 1.1 3.1 .5 33.3 1.2 62.5 1.2 156.2 1.2M941.0 380.0l129.2 0 2.1 -.3 2.1 -.8 2 -2.7 2.1 -6.4 2.1 -11.3 2.1 -14.8 1 -12 1.1 -30 2.1 -147.3 1 -44.1 1 14.1 3.2 119.3 1 26.6 2.1 35.7 2.1 20.7 1 6.8 2.1 9.3 3.1 7.6 2.1 2.8 3.1 2.8 6.3 3.4 10.4 4.6 7.3 2.6 8.3 2.2 9.4 1.8 11.4 1.6 28.2 2.5 44.7 2.1 60.5 1.5 74.9 1 103.1 .5M941.0 380.0l131.3 0 3.1 -.5 2.1 -2 2.1 -5.4 2.1 -8.9 1 -5.6 1 -11 1.1 -27 3.1 -145.6 1 -4.8 4.2 68.6 3.1 39.6 2.1 20.4 2.1 15.8 2.1 12.1 2.1 9.2 3.1 9.9 3.1 5.9 2.1 1.8 2.1 .2 5.2 -3.1 2.1 -.3 1 .5 1.1 1 2 3.2 6.3 12.4 2.1 2.7 3.1 2.5 3.1 1.3 5.2 1.3 16.7 2.5 18.7 1.5 25 1 65.6 .7 201 .1M941.0 380.0l111.5 -.3 19.8 -1.3 4.1 -1 2.1 -1.4 1.1 -1.3 1 -4.4 1.1 -18.9 2 -95.2 1.1 -13.3 4.1 60.7 2.1 16.7 2.1 10.9 3.1 10.3 2.1 4.5 2.1 3.2 2.1 2.4 3.1 2.5 7.3 3.5 7.3 2.1 10.4 2.2 15.6 2.8 6.3 .5 2.1 -.3 2 -.9 2.1 -1.5 5.2 -5.4 2.1 -1.3 1.1 -.1 1 .3 2.1 1.6 7.3 9 2.1 1.5 3.1 1.3 13.5 1.7 29.2 2.1 44.8 2.1 55.2 1.7 66.6 1.2 81.2 .8M941.0 380.0l142.7 0 1.1 0 1 -1 1.1 -28.7 2 -239.6 3.2 87.2 2 41.5 3.2 40.4 3.1 30.1 2.1 15.1 2.1 11.4 2 8.5 2.1 6.5 2.1 4.9 3.1 5.5 3.2 3.8 4.1 3.6 5.2 3 6.3 2.2 6.2 1.4 7.3 .7 5.2 -.1 6.3 -.6 25 -5.3 6.2 -.8 7.3 -.2 10.4 .5 52.1 4.2 52.1 2.5 69.8 1.7 92.6 1M941.0 380.0l122.9 -.3 23 -1.4 4.1 -1 1.1 -1.2 1 -10.6 1 -53.8 1.1 -88.8 1 -28.9 2.1 61.1 2.1 43 2.1 23 2.1 12.3 2 6.1 1.1 1.4 1 .7 2.1 -.3 5.2 -2.6 2.1 .2 2.1 1.6 3.1 4.6 6.3 12.8 3.1 5.4 3.1 3.7 3.1 2.3 4.2 1.4 7.3 .9 55.2 3.6 47.9 2 88.5 1.8 131.2 .8M941.0 380.0l131.3 0 4.1 -.3 1.1 -2.6 1 -15 1.1 -52.9 1 -109.7M1085.8 108.5l2.1 88.4 2.1 59.2 2.1 39 1 13.9 2.1 19.5 2.1 11.4 1 3.7 2.1 4.5 13.5 16 5.2 4.7 6.3 3.3 7.3 2.1 8.3 1.2 12.5 .7 68.8 1.6 61.4 1 189.5 1M941.0 380.0l126.1 -.1 3.1 -.7 3.1 -2.2 2.1 -2.8 5.2 -9.8 2.1 -2.1 2.1 -.2 5.2 3.1 3.1 1.3 1 -1.5 1.1 -56.4 1 -165.1 1.1 -22.6 2.1 76.4 2 54.5 2.1 37.6 2.1 25.9 3.1 24.8 3.2 14.4 2 6.1 2.1 4.3 3.1 4.3 3.2 2.6 5.2 2.5 6.2 1.5 10.4 1.4 11.5 .7 6.2 -.1 11.5 -1.2 6.3 -.2 43.7 1.8 52.1 1 197.8 .8M941.0 380.0l144.8 -.2 1.1 -2.3 1 -21.7 2.1 -217.6M1093.1 102.6l2.1 56 3.1 58.4 3.1 41.6 4.2 40.1 2.1 14.3 2.1 11.1 2.1 8.7 2 6.7 3.2 7.4 3.1 5.2 4.2 5 4.1 3.5 5.2 3.4 5.2 2.5 6.3 2.2 8.3 2 9.4 1.7 11.4 1.4 28.2 2.2 40.6 1.6 56.2 1.1 72.9 .7 101 .4M941.0 380.0l137.5 0 2.1 -.4 1.1 -2.6 1 -12.7 1 -40.4 2.1 -190.5M1090.0 109.3l3.1 113.8 2.1 43.1 2.1 26.5 4.1 33.2 2.1 12.1 2.1 9.2 2.1 6.7 3.1 6.8 3.1 4.2 3.2 2.7 3.1 1.6 3.1 1 8.3 1.4 23 2 23.9 1 125 2.3 169.7 1.6M941.0 380.0l128.2 0 5.2 -.6 2 -.8 2.1 -1.4 1.1 -3.1 1 -41.4 1.1 -168.4M1084.8 100.3l2.1 87.9 2 59.1 2.1 38.1 2.1 22 1 6.5 2.1 7.3 4.2 8.4 8.3 22 3.2 5.9 3.1 4.5 3.1 3.5 4.2 3.5 7.3 4.1 4.1 1.5 5.2 1.2 6.3 .8 5.2 0 3.1 -.3 3.1 -1 3.2 -2.7 2 -3.2 3.2 -7.4 5.2 -15.7 2.1 -4.1 1 -1 1 -.2 1.1 .7 2.1 3.4 5.2 14.5 3.1 7.1 3.1 4.1 2.1 1.3 3.1 .9 55.2 1.7 66.7 1.5 157.2 2M941.0 380.0l124 -.1 3.1 -.4 2.1 -.8 2.1 -1.7 2.1 -3.3 3.1 -8.5 6.2 -22.7 1.1 -8.3 1 -31.1 2.1 -158 1 -29 4.2 136.2 2.1 40.7 2.1 25 3.1 21.4 3.1 11.4 2.1 4.8 3.1 4.9 3.2 3.4 4.1 3.3 4.2 2.5 5.2 2.4 6.2 2.1 6.3 1.4 8.3 1.3 9.4 .8 7.3 0 3.1 -.6 3.1 -2.4 2.1 -3.5 2.1 -5.6 5.2 -18.1 2.1 -4.2 1 -.5 1.1 .7 2.1 4.5 5.2 18 2 5.2 1.1 1.9 2.1 2.5 2.1 1.1 2 .5 105.2 1.3 168.7 .8M941.0 380.0l126.1 -.1 3.1 -.3 2.1 -.9 2.1 -1.9 1 -1.7 2.1 -5.2 2.1 -8.5 4.1 -23.7 2.1 -9.4 1.1 -2.5 1 -.8 1 1 2.1 3.4 1.1 -10.5 1 -46.7 2.1 -146.5 1 7.4 3.2 134.1 1 26.6 2.1 32.9 2.1 17.2 2 9.4 3.2 7.3 2.1 2.7 3.1 2.7 3.1 1.9 4.2 1.9 4.1 1.2 3.2 .5 3.1 0 3.1 -.6 12.5 -4.5 6.3 -.6 5.2 .6 22.9 4.2 20.8 2.6 28.1 2.3 34.4 1.7 36.4 1.1 43.8 .8 127 .7M941.0 380.0l127.1 -.1 3.1 -.8 2.1 -2 2.1 -4.3 3.1 -9.2 1.1 -2.2 1 -1 1.1 .4 3.1 5.8 1 1 1.1 -1 2 -8 2.1 -12.8 1.1 -20.5 2 -113.5 1.1 -3.5 3.1 78 1.1 17.2 2 23.8 2.1 14.6 3.1 12.7 3.2 6.9 2.1 2.8 2 1.6 1.1 .2 1 -.3 2.1 -2.7 2.1 -6.3 4.2 -17.8 1 -2.7 1 -.9 1.1 .9 1 2.8 5.2 24.8 2.1 6.8 1 2.1 2.1 2.4 2.1 1.1 3.1 .6 10.5 1 14.5 .7 45.9 .8 258.2 .6M941.0 380.0l112.5 -.1 22.9 -.3 5.3 -.5 1 -1.4 1 -8.2 1.1 -28.5 2.1 -127.7 1 -38.4 1 1.5 3.2 65 2 29.2 2.1 18.4 2.1 11.2 1.1 3.8 2 4.9 2.1 2.2 4.2 1.5 2.1 3.1 2.1 6.4 6.2 29.1 2.1 7.5 2.1 5.3 2.1 3.3 2 2.2 3.2 2 8.3 2.9 10.4 1.8 14.6 1.3 19.8 .7 105.2 1.1 185.3 .5M941.0 380.0l132.3 0 5.2 -.4 3.2 -1.5 1 -1.2 1 -13.2 2.1 -133.5 3.1 68.4 2.1 20.2 2.1 8.5 2.1 3.7 4.2 5.4 8.3 13.4 5.2 6.5 4.2 4.2 5.2 4.1 5.2 3.2 5.2 2.4 8.3 2.5 9.4 1.3 77.1 3.1 97.9 1.6 147.8 .9M941.0 380.0l126.1 -.1 5.2 -.5 4.1 -1.1 4.2 -2.4 3.1 -2.9 1.1 -8.3 2.1 -211.4 3.1 125.3 2.1 37.9 2 18 1.1 4.9 2.1 5.4 2.1 2.4 4.1 3.2 2.1 2.2 11.5 17.8 3.1 3.4 2.1 1.5 2.1 .9 3.1 0 3.1 -1.2 8.3 -4.9 3.2 -1 4.1 -.3 30.2 3.3 24 2.1 29.1 1.8 33.4 1.4 83.3 1.7 127 .7M941.0 380.0l128.2 0 2 -.2 2.1 -.9 2.1 -2.9 3.1 -8.2 2.1 -3.1 1.1 -3.5 1 -16.1 1 -43.8 2.1 -141.6 1.1 -35.4 1 1.5 3.1 63.8 3.1 45.8 3.2 28 4.1 26.3 6.3 32.5 2.1 8.5 3.1 10.2 3.1 7.7 4.2 7.3 4.2 5 4.1 3.4 4.2 2.3 5.2 1.7 5.2 .9 6.2 .5 35.5 .1 73.9 3 75 2.2 139.5 2.4M941.0 380.0l129.2 -.1 3.1 -.4 2.1 -1 2.1 -2.2 1 -1.8 2.1 -4.7 1.1 -4.5 1 -21.5 1 -82.7 1.1 -143.7M1088.9 103.6l2.1 66.4 2.1 50.3 3.1 53.4 3.2 35 2 16.4 2.1 12.4 2.1 9.4 2.1 7.2 2.1 5.5 3.1 5.9 3.1 4 3.1 2.8 3.2 1.8 3.1 1.2 6.2 .8 15.7 -1.7 7.3 -.3 45.8 1.3 75 1.3 197.8 1.8M941.0 380.0l143.8 -.3 1 -2.7 1.1 -23.5 2 -179.9 1.1 -25.9 3.1 119.3 1 27.5 2.1 36.4 2.1 20.8 2.1 11.8 1 3.8 2.1 5 1.1 1.5 2 1.8 3.2 .7 2.1 -.4 2 -.9 4.2 -3.3 8.3 -8.3 3.2 -1.8 2 -.4 2.1 .3 3.1 1.8 9.4 8.8 4.2 3 5.2 1.9 6.2 .8 120.9 1.6 190.5 .5M941.0 380.0l125 -.3 3.2 -1.2 2 -2.4 2.1 -4.4 3.1 -8.4 1.1 -2 1 -1 1.1 .1 1 1.3 4.2 10.1 1 -.3 1.1 -17.7 1 -76.8 1 -151.6M1093.1 117.0l1 56 2.1 71 2.1 40.8 2.1 26.3 3.1 23.5 3.1 12.3 2.1 4.8 2.1 3.4 3.1 3.5 3.2 2.4 5.2 2.8 6.2 2.4 7.3 2 9.4 2 20.8 2.8 27.1 1.8 46.9 1.8 62.4 1.4 75 .9 95.8 .6M941.0 380.0l130.2 -.1 6.3 -.4 2.1 -.7 1 -.9 1.1 -3.4 1 -22.4 1 -89.1 1.1 -170.3M1088.9 122.3l1.1 60.1 2.1 72.2 1 20.6 2.1 23.9 1 6.4 1.1 4 1 2.3 1.1 1.1 1 .2 3.1 -.9 1.1 .4 2 3.4 2.1 6.8 4.2 17.8 3.1 9.8 3.1 5.5 4.2 3.8 5.2 2.9 6.3 2.7 7.3 2.4 7.2 1.9 17.8 2.9 22.9 1.9 33.3 1.2 56.2 1 193.7 1.9M941.0 380.0l130.2 0 5.2 -.6 3.2 -1.7 3.1 -4.4 2.1 -4.9 4.1 -14 1.1 -6.1 1 -26 1.1 -91.5M1098.3 81.1l3.1 79.3 3.2 58.3 3.1 44.6 4.2 43.8 3.1 22.8 2.1 11.2 2 8.5 2.1 6.5 3.2 6.7 3.1 4.5 3.1 3 4.2 2.6 4.1 1.6 5.2 1.1 7.3 .5 36.5 -.1 66.6 2 61.5 1 157.2 .8M941.0 380.0l132.3 0 4.2 -.4 2.1 -1.4 1 -2.1 1.1 -6.1 1 -18.3 3.1 -163.1 1.1 -27.4 1 3.3 4.2 75.4 2 29.8 3.2 33.1 3.1 22.2 2.1 10.6 2.1 8.2 4.1 11.5 3.2 5.6 3.1 4.2 4.1 3.8 4.2 2.7 5.2 2.4 7.3 2 7.3 1.2 7.3 .5 11.4 -.7 23 -3.8 12.5 -.6 124.9 3.7 151 2.1M941.0 380.0l121.9 0 4.2 -.4 3.1 -1.1 7.3 -6.3 2.1 -.8 2.1 .5 4.1 3.1 1.1 0 1 -31.6 1 -240.6M1093.1 136.6l1 51.7 2.1 66.2 1.1 20.8 2.1 27.8 3.1 24.2 2.1 10.6 2 8.1 2.1 6.1 3.2 6.5 3.1 4.4 2.1 1.8 2 1 1.1 -.1 2.1 -1.2 1 -1.3 2.1 -4.2 5.2 -14.7 2.1 -3.4 1 -.4 1.1 .6 2 3.9 5.3 16.2 3.1 7 3.1 3.3 4.2 1.3 54.1 2.9 65.6 2 85.4 1.3 115.6 .6M941.0 380.0l137.5 0 1.1 -.8 1 -22.9 2.1 -193.8 3.1 100 2.1 45.2 1 15.3 2.1 20 1.1 5.8 1 3.6 1 1.7 1.1 .3 1 -.9 3.2 -4.4 1 -.8 1 -.1 1.1 .4 2.1 2.3 7.3 10.2 3.1 3.2 4.1 3.5 4.2 2.5 5.2 2.3 5.2 1.4 5.2 .8 7.3 0 7.3 -.9 12.5 -2.8 4.2 -1.8 2.1 -2.3 1 -2 5.2 -15.2 1.1 -2.2 1 -1.1 1 .2 1.1 1.5 4.1 12 2.1 4.6 2.1 2.5 2.1 1.1 2.1 .4 53.1 5 54.1 2.9 71.9 1.9 98.9 1M941.0 380.0l137.5 0 4.2 -.4 2.1 -1.2 1 -1.3 1.1 -2 1 -3.7 1 -10.7 1.1 -35.3 2.1 -221.2M1096.2 89.5l1.1 65 2.1 87.9 1 28.3 2.1 37.5 2.1 21.5 2 12.6 3.2 10.3 2.1 3.8 3.1 3.3 4.1 2.1 4.2 .3 3.1 -.9 7.3 -3.5 3.1 -.2 2.1 .7 2.1 1.4 9.4 8.6 3.1 1.7 3.1 1.1 12.5 1.8 27.1 2 46.9 1.9 60.4 1.5 73.9 .9 95.8 .5M941.0 380.0l128.2 -.1 4.1 -.8 2.1 -2 1 -1.9 2.1 -7 3.2 -19.6 1 -45.3 1 -166.6 1.1 -53.3 2.1 84.4 2 64 2.1 44.8 2.1 30.5 3.1 27.3 3.2 14.3 2 5.7 2.1 4 3.1 4.1 3.2 2.8 4.1 2.6 6.3 2.7 6.2 2 8.4 2 18.7 2.6 25 1.7 27.1 .7 38.5 .3 229.1 .1M941.0 380.0l133.4 -.2 3.1 -.2 2.1 -.7 2.1 -2.3 2 -5.5 3.2 -10.3 1 -1.8 1 -.7 1.1 -1.9 1 -13.8 1.1 -50.4 2 -193.7M1096.2 105.8l3.2 141.6 1 28.8 2.1 38.7 2.1 22.8 1 7.6 2.1 10.6 3.1 8.8 2.1 3.3 3.1 3 3.1 1.9 3.2 1.1 8.3 1.8 13.5 1.2 19.8 .8 116.7 1.2 192.6 .7M941.0 380.0l128.2 0 4.1 -.4 1.1 -.5 1 -1.1 1 -4 1.1 -16.6 1 -51.1 2.1 -220.9M1085.8 114.1l2.1 65.2 2.1 47.4 2.1 33.5 3.1 30.8 1 6.5 2.1 8.8 2.1 5.1 5.2 7.9 2.1 4.4 3.1 9.1 5.2 18.4 3.1 9.4 2.1 4.7 2.1 3.6 2.1 2.4 2.1 1.6 2.1 1.1 3.1 .8 8.3 .8 30.2 -1.2 11.5 -.1 62.5 1.7 59.3 1.2 168.7 1.7M941.0 380.0l132.3 0 4.2 -.7 2.1 -2.1 1 -2 2.1 -6.3 1 -6.3 1.1 -40.8 1 -145.1M1088.9 122.9l1.1 64.1 2.1 83.4 1 25.1 2.1 29.1 2.1 12.2 2.1 5.1 9.3 13.4 3.2 3.2 4.1 3.2 5.2 2.8 4.2 1 4.2 -.2 9.3 -2.1 5.2 -.1 23 4.7 18.7 2.8 25 2.4 32.3 1.9 42.7 1.7 51 1.3 136.4 1.5M941.0 380.0l111.5 0 25 -.3 5.2 -.4 3.1 -.8 2.1 -1.3 2.1 -2.4 1 -4.1 1.1 -19.6 3.1 -248.9 1 -1.8 3.2 121.8 2 47.8 2.1 27.7 3.1 23.5 5.3 24.4 4.1 13.8 2.1 4.4 3.1 3.8 3.2 1.4 3.1 .4 23.9 -.9 14.6 .1 71.9 4.1 65.6 2.5 77.1 1.8 92.6 1.4M941.0 380.0l124 0 15.6 -.3 1.1 -2.7 1 -43 1 -187.1M1088.9 96.9l2.1 68.2 2.1 48 3.1 52.3 3.2 36.1 3.1 23.3 2.1 10.6 2 7.9 2.1 5.9 3.2 6.3 3.1 4.1 3.1 2.9 4.2 2.5 4.1 1.7 12.5 3 18.8 2.4 25 1.6 47.9 1.6 70.8 1.5 171.8 1.9M941.0 380.0l130.2 0 7.3 -.4 4.2 -1.1 1 -2.1 1.1 -13.6 3.1 -193.9 1 -6.4 4.2 80.9 2.1 26.6 3.1 26.3 4.2 22 5.2 21.3 4.2 15.2 3.1 9 2.1 4.6 3.1 4.6 3.1 2.6 4.2 1.5 5.2 .4 30.2 -1.6 16.7 -.3 69.7 2.3 49 1 70.8 .7 104.1 .3M941.0 380.0l140.7 -.2 1 -2.3 1 -13.6 1.1 -43.7 2.1 -131.1 1 -12.5 3.1 64.9 2.1 32.6 2.1 19 2.1 9.5 8.3 21.8 3.1 5.6 3.2 2.4 2 .3 6.3 .1 2.1 .9 2.1 1.8 4.1 6.1 7.3 14.1 3.1 5.2 3.2 3.9 4.1 3.3 5.2 1.9 6.3 .9 48.9 3.9 35.4 1.7 91.7 1.9 139.5 1.1M941.0 380.0l128.2 -.1 2 -.2 2.1 -.9 2.1 -2.1 3.1 -4.1 1.1 -.7 4.1 0 1.1 -1 2.1 -4.8 3.1 -10.5 3.1 -7.8 1 -16.6 1.1 -63.6 1 -131M1102.5 94.5l2.1 68.2 2 51.2 3.2 53.7 3.1 34.6 3.1 22.3 2.1 10.3 2.1 7.7 2.1 6 3.1 6.5 3.1 4.5 4.2 4.1 6.2 3.7 7.3 2.3 11.5 1.7 3.1 0 3.1 -.5 3.2 -1.4 3.1 -2.8 3.1 -4.3 6.3 -10.1 2 -2.2 2.1 -.9 2.1 .6 2.1 2 8.3 14.2 4.2 5.1 4.1 2.6 6.3 1.4 41.7 1.8 59.3 1.4 70.8 .9 90.6 .5M941.0 380.0l140.7 0 5.2 -.2 3.1 -1 1 -2.4 1.1 -9.9 1 -29.9 2.1 -123.4 1 -38.5 1.1 2.5 4.1 103.5 2.1 28.8 2.1 18.5 3.1 17.2 2.1 7.4 2.1 5.4 2.1 3.9 2.1 2.8 3.1 3 3.1 2 6.3 2.2 7.2 1 24 .8 45.8 3 33.4 1.2 87.4 1.5 145.8 .5M941.0 380.0l132.3 0 5.2 -.1 1.1 -.3 1 -5.8 1.1 -45.4 1 -135.5M1086.9 92.8l2 73.7 2.1 53.5 2.1 38.6 3.1 39.1 3.2 24.9 2 11.7 2.1 8.8 2.1 6.7 3.1 7.1 3.2 4.5 3.1 2.8 4.1 2.1 4.2 1.1 39.6 5.3 25 2.4 30.2 1.7 40.6 1.4 52.1 .8 162.4 .9M941.0 380.0l125 -.1 3.2 -1 2 -2.3 2.1 -4.5 3.1 -9 2.1 -3.6 1.1 -.2 1 .9 3.1 5.3 2.1 2.3 1.1 -4.9 1 -52.6 1 -101 1.1 -19.6 3.1 85.1 2.1 34.8 2.1 22.4 3.1 19.8 3.1 10.5 2.1 4.1 2.1 2.9 2.1 1.9 3.1 1.9 3.1 1.2 4.2 .9 8.3 .4 7.3 -1 15.6 -3.7 9.4 -.7 53.1 5 25 1.5 29.2 1.2 78.1 1.4 127 .6M941.0 380.0l99 0 27.1 -.4 14.6 -.9 2 -1.2 1.1 -1.6 2.1 -6.1 2 -12.7 1.1 -31.7 2.1 -181.1 1 -3.1 3.1 96.6 2.1 40.7 2.1 25.2 1 7.9 1.1 5.3 1 3 1.1 1.3 3.1 .4 1 1.4 1.1 2.8 5.2 26 2.1 7.9 2 4.6 3.2 3 4.1 1.8 6.3 1.7 16.6 2.7 26.1 2.3 33.3 1.7 41.7 1.1 53.1 .7 169.7 .6M941.0 380.0l130.2 0 5.2 -.3 1.1 -2.6 1 -28.8 2.1 -183.6 1.1 .5 2 56.9 1.1 20.9 2.1 29.6 3.1 29 3.1 20.5 4.2 17.8 2.1 6.4 3.1 7.4 3.1 5.4 3.1 3.9 4.2 3.9 5.2 3.4 8.3 3.4 9.4 1.8 10.4 .3 10.4 -1.1 4.2 -1.1 4.2 -1.9 4.1 -3.2 7.3 -7.5 2.1 -1.3 2.1 -.5 2.1 .3 2.1 1.1 6.2 5.1 4.2 2.4 4.1 1.2 5.2 .5 61.5 4 53.1 2.3 68.7 1.8 85.4 1.1M941.0 380.0l136.5 0 4.2 -.8 2 -2.2 2.1 -5.4 2.1 -9.5 2.1 -12.4 1 -10.8 1.1 -42 1 -88.3 1 -53.6 1.1 9.2 2.1 47.8 2.1 35.1 2 23.9 3.2 21.3 2 8.3 7.3 20.6 7.3 26.3 3.2 9.9 2 5.2 3.2 5.6 2 2.5 3.2 2.5 6.2 2.3 10.4 1.6 14.6 1.1 20.8 .6 97.9 .8 188.5 .3M941.0 380.0l130.2 -.2 3.2 -.8 3.1 -2.4 2.1 -2.7 5.2 -8.8 2.1 -2.4 2 -1.5 1.1 -5.6 1 -36.2 2.1 -187.1 1 -7 3.2 125.5 1 27.6 2.1 37.6 2.1 22.3 1 7.6 2.1 10.4 3.1 8.6 2.1 3.2 3.1 3 5.2 2.6 9.4 2.3 12.5 1.7 14.6 .9 32.3 -1 47.9 1.1 53.1 .7 184.3 .5M941.0 380.0l133.4 -.1 6.2 -.7 3.1 -2.2 1.1 -1.9 1 -7.6 1.1 -35.3 1 -102.2M1094.1 126.5l3.2 100.8 2.1 38.7 3.1 36.3 3.1 21.9 2.1 9.7 2.1 7.2 2.1 5.3 3.1 5.7 3.1 4 4.2 3.6 3.1 1.8 4.2 1.8 5.2 1.4 5.2 .9 26 2.4 41.7 4.6 36.4 2.7 40.6 1.8 49 1.3 60.4 .8 79.1 .5M941.0 380.0l129.2 -.1 2.1 -.1 2.1 -.7 2 -2.6 2.1 -6.5 4.2 -23 3.1 -14.9 1.1 -18.6 1 -46.1 2.1 -131.2 1 -17 1.1 22.4 3.1 101.9 2.1 43.1 2.1 28 3.1 25 3.1 13.6 2.1 5.6 2.1 3.8 2.1 2.7 3.1 2.6 5.2 2.5 7.3 1.6 15.6 1.7 6.2 -.3 3.2 -1.4 2.1 -1.8 2 -2.6 6.3 -9.6 2.1 -2 2.1 -.4 1 .5 2.1 2 7.3 12 3.1 3.5 4.2 2.3 5.2 .9 40.6 1.4 59.3 .9 183.3 .8M941.0 380.0l135.4 0 4.2 -.5 2.1 -1 1 -1.1 1.1 -11.8 1 -141.8M1091.0 126.6l2.1 69 2.1 47.7 2.1 34.1 3.1 34.4 3.1 21.4 2.1 9.6 2.1 6.9 2.1 5.3 3.1 5.5 3.1 3.8 4.2 3.3 3.1 1.7 3.1 1 6.3 .9 16.6 -1.5 6.3 -.1 43.7 2.5 59.4 1.8 98.9 2 115.6 1.5M941.0 380.0l128.2 -.2 2 -.5 2.1 -1.7 6.3 -11.2 4.1 -2.9 1.1 -1.6 1 -6 1.1 -66.9 1 -191.4M1090.0 107.2l1 67.1 2.1 83.3 1 25.4 2.1 32.9 1.1 10.6 2.1 14.5 3.1 12.2 2.1 4.9 2 3.6 3.2 3.8 4.1 3.7 4.2 2.6 4.2 2 9.3 2.8 10.5 1.3 5.2 0 5.2 -.5 11.4 -2.8 7.3 -2.8 5.2 -3.7 9.4 -9.2 2.1 -1.1 2.1 -.3 2 .6 2.1 1.4 8.4 8.7 4.1 3.2 5.2 2.1 6.3 .8 44.8 1.6 61.4 1.4 148.9 1.7M941.0 380.0l122.9 0 4.2 -.1 3.1 -.8 2.1 -1.6 1.1 -1.4 2 -5.1 2.1 -9.4 3.2 -19.9 1 -4.9 1 -2.7 1.1 -.3 1 1.8 4.2 13.8 1 2.3 1.1 -46M1096.2 110.8l3.2 125.6 2 48 2.1 31.1 2.1 20.3 3.1 17.9 3.2 9.5 2 3.6 3.2 3.2 3.1 1.6 4.2 .6 5.2 -.2 13.5 -1.5 10.4 -.2 67.7 3.9 72.9 2.5 79.2 1.5 99.9 1M941.0 380.0l134.4 0 2.1 -.4 1 -5.5 1.1 -35.2 1 -108.8M1084.8 134.5l2.1 122.2 1 36.3 2.1 43.7 1 12.7 2.1 15.4 1 4.4 2.1 5.4 1.1 1.6 2.1 1.9 3.1 1.2 6.2 .5 14.6 -.2 12.5 -.7 16.7 -2.1 33.3 -6.2 9.4 -1 9.3 -.3 15.7 .7 56.2 4.6 44.8 2.2 64.6 1.7 87.4 1M941.0 380.0l134.4 0 2.1 -.1 1 -.9 1.1 -8.3 3.1 -119.4 1 .3 2.1 17.3 8.3 56.7 2.1 10.4 3.2 11.8 4.1 10.7 2.1 3.8 3.1 4.5 3.2 3.2 3.1 2.4 3.1 1.8 4.2 1.7 7.3 1.8 8.3 1.1 11.4 .7 16.7 .3 307.2 .2M941.0 380.0l132.3 0 6.3 -.1 1 -.5 1.1 -3.6 1 -16.4 1 -47.5 2.1 -177.1 1.1 -44.7 1 16.7 2.1 100.4 2.1 70.5 1 20.5 2.1 22.1 1 4.9 1.1 2.6 1 1.2 2.1 1.2 2.1 1.9 6.2 9.5 4.2 5.3 4.2 4.2 5.2 4.3 6.2 4.1 7.3 3.9 8.3 3.4 8.4 2.7 9.3 2.3 10.5 1.9 25 2.5 31.2 1.5 47.9 .9 196.8 1.1M941.0 380.0l141.7 0 3.1 -.1 2.1 -.7 2.1 -2.5 2.1 -6.7 2 -13.2 4.2 -36.1 2.1 -10.3 1 -1.6 1.1 .6 1 2.2 6.3 22.5 3.1 9.4 3.1 7.2 3.1 5.1 2.1 1.9 1.1 .4 2.1 -.6 1 -1 2.1 -3.4 5.2 -11.5 2.1 -2.2 1 .1 1 1 2.1 4.2 6.3 20.4 3.1 7.2 3.1 3.8 2.1 1.2 3.1 .9 8.4 .4 25 -.7 105.2 1.5 178 .5M941.0 380.0l115.7 -.1 16.6 -.4 5.2 -.7 3.2 -2 3.1 -5.3 3.1 -10 6.2 -25.2 2.1 -5 1.1 -1.3 1 -.7 1.1 -.1 1 .5 2.1 1.8 8.3 10.6 6.3 6.5 7.3 5.6 7.2 4.3 10.5 4.6 12.5 4 14.5 3.4 15.7 2.5 16.6 1.8 18.8 1.4 52 2 79.2 1.1 121.8 .5M941.0 380.0l132.3 0 5.2 -.5 2.1 -2 1.1 -2.6 1 -4.2 2.1 -15.3 5.2 -55.3 1 -5.9 1.1 -3.1 1 -.8 1 .8 1.1 1.8 7.3 17.7 5.2 10.9 5.2 9.2 5.2 7.7 6.3 7.6 7.2 7.2 7.3 5.3 3.2 1.6 3.1 1 2.1 .3 2 -.4 2.1 -1 2.1 -1.8 4.2 -6.4 7.3 -14.7 2.1 -2.7 2 -1.2 2.1 .7 2.1 2.3 2.1 3.7 7.3 15.8 2.1 3.6 3.1 4 3.1 2.5 3.1 1.5 4.2 1.2 7.3 1.2 17.7 2.3 19.8 1.7 52.1 2.8 74.9 1.8 103.1 1.1M941.0 380.0l120.9 0 17.7 -.4 2.1 -1 2 -2.7 2.1 -5.8 4.2 -16.7 1 -2.9 1.1 -1.9 1 -.8 1 .2 1.1 .8 6.2 8.5 4.2 4.5 4.2 3.4 4.1 2.4 5.2 2.2 6.3 1.7 7.3 1.1 11.4 1.2 24 1.7 4.2 0 3.1 -.5 3.1 -1.3 2.1 -1.3 8.3 -8 2.1 -1.2 2.1 -.3 3.1 1.4 7.3 7.7 4.2 3.4 4.1 1.6 6.3 .8 37.5 .9 53.1 .7 164.5 .5M941.0 380.0l135.4 0 5.3 -.4 2 -1.8 2.1 -5.4 5.2 -28.6 1.1 -3.7 1 -1.9 1 -.2 2.1 2.6 5.2 10.4 3.2 5.1 3.1 4.1 4.2 4.4 4.1 3.3 5.2 2.9 5.2 1.8 6.3 1.1 10.4 .1 28.1 -4 8.4 -.7 8.3 0 12.5 .5 58.3 4.1 53.1 2.3 70.8 1.9 90.6 1.2M941.0 380.0l135.4 0 5.3 -.5 2 -1.8 2.1 -5.5 2.1 -11.8 5.2 -42.1 1 -4.6 1.1 -2.5 1 -.7 1.1 .8 1 1.6 7.3 16 6.3 11.1 6.2 8.4 6.3 6.1 7.2 4.9 9.4 4.2 14.6 4.8 13.5 3.2 12.5 1.9 15.7 1.4 18.7 1.1 25 .8 89.6 1.3 142.6 1M941.0 380.0l133.4 0 5.2 -.4 2.1 -1.5 1 -1.6 2.1 -6.5 2.1 -12.2 4.1 -31.5 2.1 -8.9 1 -1.5 1.1 .4 2.1 4.2 5.2 15.9 4.1 10.5 4.2 7.9 5.2 7.3 6.3 6.1 6.2 4 7.3 3 9.4 2.2 8.3 1.1 9.4 .7 29.1 .7 281.2 .1M941.0 380.0l126.1 0 13.5 -.2 3.1 -.5 1.1 -.9 1 -1.8 1.1 -3.7 1 -6 5.2 -54.4 1 -6.4 1.1 -3.1 1 -.6 2.1 2.9 5.2 11.1 4.2 7.8 4.2 6.7 5.2 7 5.2 5.8 6.2 5.6 6.3 4.6 7.3 4.2 2 .8 2.1 .2 2.1 -.9 1 -1.2 1.1 -1.7 2.1 -5.5 4.1 -14.5 1.1 -2.5 1 -1.4 1.1 0 1 1.4 1 2.7 5.3 21.1 3.1 8.3 2.1 2.8 2 1.5 6.3 1.8 14.6 2.4 17.7 1.9 20.8 1.4 27.1 1 79.1 1.4 133.3 .7M941.0 380.0l131.3 0 14.6 -.3 5.2 -.5 2 -1.2 2.1 -3.8 2.1 -7.6 3.1 -14.5 2.1 -5.7 1.1 -1 1 0 3.1 2 2.1 .5 2.1 -1.2 3.1 -4.9 5.2 -11.2 2.1 -2.4 1.1 -.2 1 .5 1 1.2 2.1 4.4 6.3 19.9 2 5.6 2.1 4.3 2.1 2.9 2.1 1.9 3.1 1.5 4.2 .9 15.6 1.5 20.8 1.2 70.9 2.3 95.8 1.8 119.7 1.1M941.0 380.0l126.1 0 3.1 -.1 2.1 -.5 2.1 -2.2 2 -6.7 2.1 -14 3.2 -30.7 2 -16.6 1.1 -4.9 1 -2.6 1.1 -.7 1 .7 1 1.7 7.3 15.8 6.3 11.4 6.2 9.1 6.3 7.1 7.3 6.1 2.1 .9 2 -.3 2.1 -2.6 1.1 -2.4 4.1 -11.8 1.1 -1.2 1 .2 1 1.7 1.1 2.9 3.1 11.6 2.1 5.8 2.1 3.1 2.1 1.4 2 .6 26.1 2.9 47.9 6.5 21.9 2 26 1.7 36.5 1.4 43.7 1.1 121.8 1.2M941.0 380.0l125 0 4.2 -.2 3.1 -.9 2.1 -2 1 -1.9 2.1 -6.5 1.1 -4.9 2.1 -13.3 6.2 -49.4 2.1 -8.5 1 -1.6 1.1 -.2 1 1.2 2.1 5.1 6.2 21.7 4.2 12.4 4.2 9.9 5.2 9.6 6.2 8.4 6.3 5.8 7.3 4.5 8.3 2.9 7.3 1.1 8.3 0 7.3 -.7 24 -3.6 15.6 -.5 13.5 .8 51.1 4.8 46.8 2.7 65.6 1.8 90.6 1M941.0 380.0l134.4 0 5.2 -.2 2.1 -.5 2.1 -1.4 1 -1.4 2.1 -5.2 1 -4.2 2.1 -11.9 6.3 -46.2 2.1 -7.8 1 -1.4 1 -.1 2.1 2.9 7.3 19.6 5.2 11.6 5.2 8.7 5.2 6.5 6.3 5.6 8.3 4.8 9.4 3.5 12.5 3.1 17.7 3.2 18.7 2.4 23 1.8 31.2 1.6 42.7 1.5 50 1.2 127 1.5M941.0 380.0l134.4 -.2 2.1 -1.3 1 -1.8 1.1 -3.2 2.1 -12 3.1 -24.4 1 -5.5 1.1 -3 1 -.9 1 .8 1.1 1.8 5.2 11.6 4.2 7.7 5.2 7.4 5.2 5.7 6.2 4.9 7.3 4 8.3 3 8.4 1.7 7.3 .4 7.3 -.6 6.2 -1.4 16.7 -5 5.2 -.9 6.2 -.3 8.4 .5 27 3.2 20.9 1.9 23.9 1.6 28.1 1.4 71.9 1.8 104.1 .8M941.0 380.0l130.2 0 11.5 -.3 4.2 -.8 2 -1.5 1.1 -1.6 2.1 -6.1 1 -5.1 2.1 -14.8 5.2 -47.7 1 -6.3 1.1 -4 1 -1.9 1.1 .1 2 4.6 6.3 23.6 4.2 13 3.1 7.8 4.2 8.3 5.2 7.8 5.2 5.8 7.3 5.4 6.2 2.7 4.2 .2 2.1 -.7 2 -1.5 2.1 -2.4 2.1 -3.3 7.3 -13.7 2.1 -2.3 2.1 -.5 2 1.4 2.1 3 7.3 15.7 4.2 6.6 2.1 2.1 2 1.3 3.2 1.2 3.1 .5 30.2 1.1 64.6 1 180.1 1.1M941.0 380.0l128.2 0 4.1 -.1 2.1 -.5 2.1 -1.6 1 -1.8 2.1 -6.5 2.1 -12.2 6.2 -51 1.1 -4.9 1 -3 1.1 -1.3 1 .2 2.1 3.3 8.3 21.3 6.3 12.7 6.2 9.6 3.1 3.7 4.2 4 5.2 3.4 5.2 2 18.8 3.2 27.1 7 16.6 3 20.8 2.5 25 1.9 30.2 1.5 36.5 1.3 44.8 .9 119.7 1M941.0 380.0l141.7 0 5.2 -.4 2.1 -1.6 2.1 -5.5 2 -11.7 4.2 -30.3 1.1 -4.4 1 -2.4 1 -.7 1.1 .4 1 1.2 6.3 10.1 5.2 6.9 5.2 5.1 5.2 3.6 4.2 1.9 11.4 4.1 16.7 6.9 8.3 2.9 13.6 3.7 14.5 2.7 15.7 1.9 18.7 1.6 22.9 1.3 27.1 .9 73.9 1.2 120.8 .5M941.0 380.0l138.6 0 3.1 -.1 2.1 -.5 2.1 -1.9 1 -2.1 2.1 -7.7 6.2 -45.3 1.1 -4.8 1 -2.8 1.1 -.7 1 1 1 2.3 6.3 20.6 3.1 8.5 4.2 8.8 4.1 6.4 5.3 5.8 6.2 4.5 7.3 3.3 9.4 2.3 16.6 1.7 27.1 .6 282.2 .1M941.0 380.0l136.5 0 6.2 -.4 2.1 -1.1 1.1 -1.1 2 -4.1 2.1 -7.4 5.2 -24.7 1.1 -3.2 1 -2.1 1.1 -.9 1 .1 1 1 9.4 17.4 4.2 5.9 4.1 4.5 4.2 3.4 5.2 2.9 6.3 2.2 6.2 1.2 6.3 .3 4.1 -.3 3.2 -.9 2 -1.4 3.2 -4 6.2 -12.6 2.1 -2.8 1 -.5 1.1 0 2.1 1.9 6.2 12 3.1 4.2 3.2 2.1 4.1 .9 59.4 2 65.6 1.5 159.3 2.2M941.0 380.0l121.9 0 5.2 -.1 3.1 -.5 2.1 -1.3 1.1 -1.2 2 -4.3 3.2 -12.3 5.2 -27.1 2.1 -5.9 1 -1.3 1 -.1 1.1 .7 2.1 3.3 5.2 11.2 4.1 7.6 4.2 5.8 5.2 5.3 6.3 4.2 6.2 2.8 8.3 2.2 12.5 2.1 15.7 1.9 2 -.1 2.1 -.7 2.1 -2.1 1.1 -1.8 5.2 -14.9 1 -2.2 1 -1 1.1 .1 1 1.5 5.2 15.7 2.1 4.4 1.1 1.4 2 1.5 4.2 .9 41.7 1.9 57.2 1.3 74 .7 109.3 .3M941.0 380.0l113.6 -.2 19.8 -1.1 7.3 -1.1 3.1 -1 2.1 -1.6 1 -1.4 2.1 -4.5 1 -3.4 3.1 -15.6 5.3 -33.7 2 -8.6 1.1 -2.2 1 -.9 1.1 .4 2 3.6 6.3 18.6 4.2 10.4 4.1 7.8 5.2 6.8 6.3 5.6 8.3 4.8 9.4 3.4 12.5 3.1 17.7 2.9 21.9 2.3 27 1.9 31.3 1.4 80.2 1.6 132.2 .6M941.0 380.0l143.8 0 6.2 -.3 2.1 -.9 1 -1 2.1 -3.9 2.1 -7.2 4.2 -18.5 2.1 -5.5 1 -1.3 1 -.4 2.1 .9 9.4 9 3.1 2 2.1 .6 3.1 -.7 7.3 -6 2.1 .1 1 .6 2.1 2.5 5.2 8.7 2.1 2.8 2.1 1.8 3.1 1.5 5.2 .9 27.1 1.7 45.8 6.1 36.5 2.9 47.9 1.8 64.6 1.1 94.7 .5M941.0 380.0l132.3 0 5.2 -.4 2.1 -1.3 1.1 -1.4 2 -5.3 6.3 -30.5 1 -3.3 1.1 -1.9 1 -.6 1 .4 1.1 1.3 6.2 12 3.2 5.2 3.1 4.4 4.2 4.6 5.2 4.2 5.2 2.9 5.2 2 6.2 1.2 10.4 .2 24 -2.9 13.5 -.4 66.7 4.2 55.2 2.2 72.9 1.6 96.8 1M941.0 380.0l134.4 0 7.3 -.6 2.1 -1.1 1 -1 2.1 -3.6 1 -2.8 3.2 -13.1 6.2 -34.1 2.1 -6.3 1 -1.5 1.1 -.6 1 .1 1.1 .8 4.1 5 2.1 1.7 1.1 .3 2 -.6 4.2 -4 2.1 -1.3 1 -.1 1.1 .5 1 1.2 3.1 7.1 5.2 17.6 3.2 8.8 3.1 5.7 3.1 3.3 4.2 2.6 7.3 2.7 9.3 2.6 9.4 1.8 12.5 1.8 15.6 1.3 43.8 1.8 94.8 1.6 135.3 1.2M941.0 380.0l124 0 6.2 -.5 2.1 -1 1.1 -.9 2 -3.4 2.1 -5.6 5.2 -18 2.1 -4.1 1.1 -.9 1 -.2 2.1 1.3 8.3 10.7 6.3 6.2 7.3 5 3.1 1.5 3.1 .8 3.1 -.2 3.2 -1.5 3.1 -3 7.3 -9.4 2 -1.5 1.1 -.2 2.1 .4 2.1 1.6 7.2 10.2 3.2 3.4 3.1 2 3.1 .8 5.2 -.3 15.7 -3.2 8.3 -1.2 8.3 -.7 9.4 -.1 72.9 4.2 51 2.2 66.7 2 77 1.4M941.0 380.0l117.7 -.1 10.5 -.1 3.1 -.5 2.1 -1.6 1 -1.8 2.1 -6.8 2.1 -12.6 5.2 -44.4 2.1 -10.1 1 -2.1 1 -.5 1.1 .9 1 1.7 7.3 18.2 6.3 12.8 6.2 9.8 6.3 7.5 8.3 7.4 9.4 5.6 10.4 4.3 13.5 3.6 14.6 2.4 16.7 1.8 20.8 1.3 26 1 89.6 1.3 146.8 .7M941.0 380.0l136.5 -.1 2.1 -.5 2.1 -1.2 2 -2.5 5.2 -7.9 1.1 -.8 2.1 -.7 3.1 .4 14.6 3.7 10.4 2 11.4 1.5 12.5 .8 42.7 .2 59.4 2.6 55.2 1.3 69.8 .7 102 .4M941.0 380.0l117.7 0 16.7 -.5 2.1 -.7 1 -.8 2.1 -3.5 6.3 -21.7 2 -3.9 1.1 -.7 1 -.1 2.1 1 7.3 4.9 6.2 3.1 9.4 3.4 13.6 4 12.5 3.2 11.4 2.2 13.6 1.9 15.6 1.6 39.6 2.2 58.3 1.7 83.3 1.2 109.3 .8M941.0 380.0l121.9 0 7.3 -.5 3.1 -1.5 3.1 -3.7 3.2 -7.3 7.3 -22.3 2 -3.7 1.1 -1 2.1 -.6 3.1 1.7 8.3 8.5 5.2 4.3 5.2 3.2 6.3 2.8 18.7 6.7 12.5 3.6 13.6 2.8 16.6 2.2 33.4 2.4 50 1.4 77 .7 131.2 .2M941.0 380.0l127.1 -.2 3.1 -1 2.1 -1.5 2.1 -2.7 6.3 -11.2 2 -2.3 1.1 -.6 2.1 -.4 3.1 .7 9.4 3.9 7.2 2.5 14.6 3.4 39.6 4.5 30.2 2.2 36.5 1.3 50 .8 195.7 .6M941.0 380.0l125 0 7.3 -.5 3.1 -1.7 3.2 -4.5 7.3 -19.9 2 -4 2.1 -2.1 2.1 -.4 3.1 1.1 14.6 8.4 12.5 5.1 13.5 3.5 16.7 2.3 34.4 2.2 54.1 4.5 45.9 2.3 76 1.9 109.3 1.1M941.0 380.0l115.7 0 7.2 -.4 3.2 -1.1 3.1 -3.1 3.1 -5.8 5.2 -13.3 2.1 -4.3 2.1 -2.8 1 -.8 2.1 -.6 3.1 1 11.5 7.3 7.3 3.9 7.3 3 6.2 2 8.4 1.7 29.1 4.9 27.1 3 35.4 2 49 1.3 76 .7 127 .6M941.0 380.0l103.2 0 19.7 -.4 3.2 -.6 3.1 -1.7 2.1 -1.9 7.3 -9.1 2.1 -1.5 3.1 -.7 17.7 2.6 60.4 7.3 23.9 2 28.2 1.5 38.5 1.1 50 .8 169.7 .5M941.0 380.0l137.5 -.2 2.1 -.5 2.1 -1.6 2.1 -3.2 5.2 -10.7 2.1 -2.1 2 -.5 8.4 1 11.4 -.3 5.2 .5 29.2 6.6 26 4 24 2.3 27.1 1.8 37.5 1.3 47.9 .9 162.4 .6M941.0 380.0l135.4 -.2 2.1 -.9 2.1 -3.3 2.1 -7.4 4.2 -21.2 2 -5.8 1.1 -1 1 -.2 2.1 1.1 5.2 3.8 4.2 2.3 12.5 5.3 15.6 7.3 10.4 4 10.4 3.1 11.5 2.6 13.5 2.3 14.6 1.8 17.7 1.5 19.8 1.2 52.1 1.8 77 1 115.6 .6M941.0 380.0l128.2 -.1 3.1 -.7 2.1 -1.2 7.3 -8.4 2 -1.3 2.1 -.4 27.1 3.9 14.6 1.2 28.1 -1 57.3 3.3 59.3 1.9 83.4 1.3 117.6 .8M941.0 380.0l117.7 0 6.3 -.3 3.1 -1.2 3.1 -3.5 2.1 -4.3 6.3 -16.7 2.1 -3.7 1 -1.1 2.1 -.9 3.1 .8 10.4 6.3 8.3 4.4 7.3 3.1 6.3 2 5.2 .9 14.6 1.4 18.7 3.6 12.5 2 26.1 2.8 37.4 2.1 50 1.3 70.9 .6 117.6 .3M941.0 380.0l120.9 0 8.3 -.3 4.2 -1.5 3.1 -2.9 3.1 -5.1 5.2 -11 2.1 -3.5 2.1 -2.4 1 -.8 2.1 -.5 3.1 .9 9.4 5.5 6.3 2.7 7.2 2.3 14.6 3.8 11.5 2.6 11.4 2 12.5 1.6 14.6 1.3 35.4 1.8 52.1 1.1 85.4 1 116.6 .7M941.0 380.0l126.1 -.2 3.1 -.8 2.1 -1.5 2.1 -2.6 5.2 -9.6 2.1 -3.1 2 -1.7 2.1 -.6 3.1 .4 13.6 3.6 9.4 1.5 24.9 1.8 43.8 4.7 38.5 2.5 40.6 1.5 52.1 1.2 161.4 1.5M941.0 380.0l112.5 0 8.4 -.5 4.1 -1.6 3.2 -2.8 3.1 -4.6 5.2 -9.1 3.1 -4.1 3.1 -2.1 3.2 -.5 14.5 3 20.9 2.8 27 5 16.7 2.6 26 3.1 31.3 2.4 41.7 2 51 1.5 66.6 1 90.6 .8M941.0 380.0l130.2 -.2 2.1 -.9 2.1 -3.2 5.2 -16.8 1.1 -1.9 1 -1 1 -.2 2.1 .6 8.3 4.5 8.4 3.6 9.4 3.1 9.3 2.3 10.4 1.9 13.6 1.8 37.5 3.1 37.5 1.6 50 1 203 .6M941.0 380.0l152.1 -.2 2.1 -1 2.1 -2.9 6.2 -18.6 1.1 -1.5 1 -.8 1 -.1 2.1 .7 10.4 5.9 9.4 3.8 10.4 2.8 11.5 1.4 9.4 .2 22.9 -.6 11.4 .3 64.6 4.6 62.5 2.6 66.6 1.5 85.4 1M941.0 380.0l127.1 0 6.3 -.3 3.1 -.8 2.1 -1.3 2.1 -2.2 3.1 -6 3.1 -9.6 6.2 -24.7 3.2 -9.6 3.1 -5.3 1 -.8 2.1 -.6 2.1 .5 2.1 1.2 13.5 10.7 9.4 6.2 8.3 4.6 9.4 4 14.6 4.6 32.3 8.4 17.7 4 16.6 3.1 18.8 2.6 20.8 2.3 24 1.9 26 1.5 64.6 2.2 89.5 1.5M941.0 380.0l125 0 7.3 -.4 3.1 -1.2 3.2 -3.8 2.1 -4.4 6.2 -17.8 2.1 -3.8 1 -1 2.1 -.8 3.1 1.4 9.4 7.2 7.3 4.5 8.3 3.7 8.4 2.4 14.5 2.3 30.2 2.2 37.5 3.7 39.6 2.6 51 1.6 68.8 1 102 .4M941.0 380.0l116.7 -.1 18.7 -.7 11.5 -1.3 2.1 -1.6 2.1 -5 2 -11.4 3.2 -26.5 2.1 -14.3 1 -4.1 1 -2 1.1 -.5 2.1 1.8 8.3 12.4 8.3 10 8.4 7.9 9.3 7.1 11.5 6.8 11.4 5 13.6 4.4 14.6 3.2 15.6 2.3 17.7 1.8 21.9 1.4 27 1.1 76.1 1.3 124.9 .7M941.0 380.0l151.1 -.2 3.1 -1.1 2.1 -2 2.1 -3.9 5.2 -15.3 2 -4.7 2.1 -2.5 2.1 -.5 2.1 .8 9.4 5.9 7.3 3.9 8.3 3.7 8.3 2.9 9.4 2.6 10.4 2 11.5 1.7 13.5 1.3 45.8 2.9 47.9 1.4 68.8 .8 119.7 .2M941.0 380.0l126.1 0 4.1 -.1 3.2 -.7 3.1 -2.3 2.1 -3.5 1 -2.6 3.1 -11.5 5.2 -25.5 2.1 -8.2 2.1 -5.2 1 -1.5 1.1 -.8 1 -.3 1.1 .3 2.1 1.4 11.4 13.1 9.4 9.1 9.4 7.3 9.3 6 11.5 5.7 12.5 4.7 14.6 4.1 15.6 3.2 15.6 2.2 18.8 1.7 21.8 1.4 25 .8 66.7 .9 132.2 .3M941.0 380.0l142.7 0 7.3 -.4 3.1 -1.3 2.1 -1.9 3.2 -5.1 5.2 -12 2 -3.8 2.1 -2.4 1.1 -.6 2.1 -.3 2 .5 11.5 4.6 12.5 3.4 17.7 5.6 10.4 2.7 11.5 2.3 11.4 1.7 27.1 2.9 35.4 1.9 46.9 1.2 67.7 .6 107.2 .3M941.0 380.0l142.7 0 5.2 -.2 3.2 -.7 3.1 -2.3 3.1 -6 3.1 -10.8 5.2 -23.4 2.1 -7.3 2.1 -4.6 1.1 -1.3 2 -.9 1.1 .3 2.1 1.4 11.4 12.2 7.3 6.7 8.3 6 8.4 4.7 12.5 5.3 16.6 5.3 15.7 4 16.6 3.2 15.6 2.1 18.8 1.8 21.9 1.4 25 1 66.6 1.2 111.4 .6M941.0 380.0l115.7 -.1 20.8 -.8 10.4 -1.3 2.1 -.8 2.1 -1.4 3.1 -4 3.1 -6.9 6.3 -18.8 2 -5.2 3.2 -4.8 1 -.7 2.1 -.5 2.1 .5 2.1 1.1 12.5 9.2 10.4 6.5 9.3 5 10.5 4.5 11.4 4 12.5 3.4 13.6 2.8 15.6 2.3 15.6 1.7 18.7 1.3 46.9 1.8 65.6 .9 113.5 .3M941.0 380.0l140.7 0 6.2 -.5 2.1 -1.3 1 -1.3 2.1 -4.5 2.1 -7.6 5.2 -23.8 2.1 -5.3 1 -1.3 1.1 -.4 1 .1 2.1 1.5 8.3 8.9 6.3 5.7 6.2 4.8 6.3 3.9 7.3 3.8 8.3 3.3 7.3 2.1 8.3 1.4 28.1 2 43.8 4.2 41.6 2.1 72.9 1.4 120.8 .6M941.0 380.0l138.6 -.2 3.1 -1.2 2.1 -2.3 2.1 -4.4 5.2 -14.2 2 -3.2 1.1 -.7 2.1 -.4 29.1 10.5 17.7 4.7 11.5 2.2 12.5 1.9 29.2 2.7 35.4 1.8 48.9 1.1 191.6 1.1M941.0 380.0l138.6 0 5.2 -.3 2.1 -.9 1 -.9 2.1 -4 2.1 -7.3 5.2 -24.8 2.1 -5.5 1 -1.2 1 -.4 1.1 .2 2.1 1.4 8.3 7.9 7.3 5.9 6.2 4.2 6.3 3.6 7.3 3.3 8.3 2.8 8.3 2 9.4 1.4 65.6 7.3 20.9 1.6 23.9 1.2 72.9 1.7 123.9 .6M941.0 380.0l132.3 0 7.3 -.3 3.1 -1.3 3.2 -3.6 2 -4.2 6.3 -16.5 2.1 -3.3 1 -.9 2.1 -.7 3.1 1.1 14.6 9.2 11.5 5.2 13.5 4.4 12.5 2 10.4 .2 21.9 -2.4 10.4 -.3 10.4 .7 27.1 3.4 17.7 1.7 21.9 1.6 25 1.2 68.7 1.8 104.1 .8M941.0 380.0l133.4 0 4.1 -.3 1.1 -.5 1 -1.1 1.1 -2.3 1 -4.1 2.1 -14.6 3.1 -27.7 1 -6.1 1.1 -3.6 1 -1.4 1.1 .1 1 1 9.4 13 9.4 10.5 9.3 7.9 9.4 5.8 8.3 3.5 10.4 2.9 46.9 7.9 17.7 2.5 19.8 2 22.9 1.5 26.1 1.1 71.8 1.3 118.7 .6M941.0 380.0l122.9 0 5.3 -.2 3.1 -.7 2.1 -1.1 2 -2.1 3.2 -5.9 3.1 -9.6 7.3 -27.4 3.1 -6.6 1 -1 2.1 -.6 2.1 .9 2.1 1.9 10.4 12.8 8.3 8.4 8.4 6.4 8.3 4.7 6.3 2.4 6.2 1.5 20.8 3.1 31.3 5.7 16.6 2 18.8 1.6 21.9 1.2 27 1 70.9 1.1 117.6 .4M941.0 380.0l135.4 -.2 3.2 -1.5 2.1 -2.7 2 -5 5.2 -15.8 2.1 -3.5 2.1 -1.1 3.1 .8 12.5 6.3 12.5 4.8 11.5 3 12.5 1.8 9.4 .3 21.8 -.2 12.5 .3 63.6 5.7 58.3 3 69.8 1.8 92.6 1.2M941.0 380.0l146.9 0 6.2 -.3 2.1 -.8 1.1 -.9 2.1 -3.2 1 -2.5 2.1 -7.4 4.1 -20 2.1 -8.1 2.1 -4.7 1.1 -1 1 -.4 1 .2 2.1 1.4 10.4 10.6 8.4 7 8.3 5.7 9.4 5.1 10.4 4.4 12.5 4 12.5 2.9 14.6 2.5 14.5 1.7 17.7 1.3 43.8 1.7 63.5 .6 131.2 .2M941.0 380.0l133.4 0 9.3 -.5 2.1 -.6 2.1 -1.2 3.1 -3.4 3.1 -6 6.3 -15.9 2.1 -4.2 2.1 -2.7 1 -.8 2.1 -.6 2.1 .6 2.1 1.2 8.3 6.9 5.2 3.6 9.4 4.9 6.2 2.2 6.3 1.6 15.6 2.3 71.8 6.6 48 2.7 77 1.9 113.5 1M941.0 380.0l124 0 4.2 -.2 3.1 -.8 2.1 -1.7 1 -1.4 2.1 -4.8 3.1 -12.7 6.3 -32.8 2 -6.1 1.1 -1.6 1 -.8 1.1 .1 2 1.7 8.4 13.5 5.2 7.6 5.2 6.3 6.2 6.2 6.3 4.8 7.3 4.1 7.3 2.7 7.3 1.6 7.3 .8 23.9 1.4 45.8 4.4 45.9 2.4 86.4 2.4 116.6 1.6M941.0 380.0l152.1 -.3 3.1 -1.1 2.1 -2.2 2.1 -3.9 6.2 -16.4 2.1 -3.3 1.1 -.9 2.1 -.7 3.1 .8 9.4 4.3 6.2 2.3 11.5 3 20.8 2.8 35.4 5.8 34.4 3.6 38.5 2.2 47.9 1.6 64.6 1 89.5 .7M941.0 380.0l133.4 0 8.3 -.4 1 -.5 1.1 -1.3 1 -2.5 1.1 -4.3 5.2 -38 1 -4.2 1 -2.1 1.1 -.5 2.1 1.4 7.3 7 7.3 5.5 17.7 11.4 12.5 6.8 10.4 4.4 12.5 4 13.5 3.2 15.6 2.6 16.7 2 18.7 1.5 50 2.1 72.9 1.1 120.8 .6M941.0 380.0l132.3 0 4.2 -.4 1 -.7 1.1 -1.4 2.1 -7.1 6.2 -48.5 1 -4.1 1.1 -1.9 1 -.4 2.1 1.7 10.4 13.3 8.4 8.7 9.3 8 10.4 7.1 11.5 6 12.5 5 14.6 4.2 15.6 3.2 15.6 2.2 18.8 1.8 20.8 1.3 26 .9 67.7 .9 138.5 .2M941.0 380.0l127.1 0 5.2 -.3 3.1 -.7 3.2 -2 3.1 -4.6 3.1 -7.9 8.3 -28.6 3.2 -6 1 -1 2.1 -.8 2.1 .7 2.1 1.6 10.4 10.8 6.2 5.6 6.3 4.8 6.2 4.1 7.3 3.8 8.3 3.3 8.4 2.4 8.3 1.4 11.5 1 32.3 1.3 49.9 3.4 38.6 1.7 73.9 2 101 1.5M941.0 380.0l144.8 0 8.3 -.5 3.2 -1.2 3.1 -3.2 3.1 -5.9 7.3 -18.1 3.1 -4.3 1.1 -.7 2.1 -.6 3.1 .7 9.4 4.2 7.2 2.3 27.1 4.3 25 6.6 12.5 2.9 22.9 4 26.1 3.1 36.4 2.7 45.8 1.8 58.4 1 82.2 .6M941.0 380.0l133.4 -.2 2 -.7 2.1 -2.1 2.1 -4.6 5.2 -16.2 2.1 -3.1 2.1 -.5 2.1 .8 13.5 7.5 13.5 5.4 16.7 4.6 9.4 1.8 7.3 .9 5.2 .2 5.2 -.4 17.7 -3.8 8.3 -.6 7.3 .5 24 3.2 19.8 2 22.9 1.7 26 1.2 70.8 1.6 113.5 .7M941.0 380.0l126.1 -.1 18.7 -.7 13.6 -1.5 2 -1.4 1.1 -1.7 2.1 -8 2 -16.2 3.2 -30.2 1 -7.1 1.1 -4.3 1 -1.9 1 0 1.1 1.3 7.3 15.4 6.2 10.6 6.3 8.2 7.3 7.3 8.3 6.1 9.4 5.1 11.4 4.3 12.5 3 12.5 2 15.6 1.6 42.7 2.2 88.6 1.9 130.1 1.7M941.0 380.0l146.9 0 6.2 -.3 2.1 -1 1.1 -1 2.1 -3.9 2 -7.2 4.2 -20.1 2.1 -7.9 2.1 -4 1 -.7 1.1 -.1 2 1 9.4 8.3 8.3 6.1 9.4 5.4 10.4 4.7 13.6 5.1 13.5 3.9 14.6 3.2 16.7 2.6 15.6 1.7 18.7 1.4 45.8 1.7 64.6 .8 118.7 .3M941.0 380.0l143.8 0 5.2 -.2 2.1 -.4 2 -1.7 2.1 -4.3 2.1 -8.5 6.3 -36.9 2 -5.8 1.1 -1.1 1 -.2 2.1 1.5 9.4 11.4 7.3 7.2 8.3 6.4 9.4 5.3 13.5 5.7 17.7 5.9 16.7 4.4 17.7 3.4 15.6 2.1 18.8 1.8 21.8 1.4 25 .9 66.7 1.1 114.5 .5M941.0 380.0l138.6 0 21.8 -.4 2.1 -1.1 1.1 -1.7 1 -2.9 5.2 -29.1 1.1 -3.6 1 -1.7 1 -.3 2.1 1.8 7.3 8.6 5.2 4.9 7.3 5.4 7.3 4.1 9.4 3.9 10.4 3.2 12.5 2.6 13.5 1.9 29.2 2.2 44.8 1.2 76 .6 134.3 .3M941.0 380.0l129.2 0 21.9 -.5 3.1 -1.5 2.1 -2.9 2.1 -5.7 4.1 -16.8 2.1 -6.9 2.1 -3.5 1 -.6 1.1 0 2.1 1.1 9.3 7.7 6.3 4.2 8.3 4.4 9.4 3.7 11.4 3.6 13.6 3.3 14.6 2.7 15.6 2 34.3 2.5 49 1.5 75 .9 114.5 .5M941.0 380.0l154.2 0 7.3 -.4 2.1 -.9 1 -.9 2.1 -3.3 2.1 -5.6 6.2 -22.5 2.1 -3.6 1 -.6 1.1 0 2.1 1.3 7.3 8.1 4.1 4 4.2 3.4 5.2 3.3 6.2 3.1 6.3 2.1 7.3 1.7 7.3 1 11.4 .7 124 3.6 167.6 2.7M941.0 380.0l137.5 0 11.5 -.4 3.1 -1.3 3.1 -3.5 3.2 -7.4 5.2 -17.7 2 -5.6 2.1 -3.1 1.1 -.5 1 0 1.1 .4 2 2 6.3 8.1 4.2 4.3 5.2 3.9 5.2 2.9 8.3 3.5 10.4 3.1 10.4 2.1 12.5 1.7 16.7 1.5 21.9 1.2 64.5 2.1 83.4 1.4 110.3 .8M941.0 380.0l141.7 0 5.2 -.4 2.1 -1.2 1 -1.4 2.1 -5.1 2.1 -9.4 5.2 -30.3 1 -3.6 1.1 -2.3 1 -1 1.1 .1 2 2.3 8.4 13.9 6.2 8.4 7.3 7.5 7.3 5.5 5.2 2.9 5.2 1.9 12.5 1.8 19.8 3.7 13.5 1.7 15.7 1.1 45.8 1.6 86.4 1.1 133.3 .7M941.0 380.0l136.5 0 5.2 -.4 2.1 -1.6 2.1 -5.1 2 -10.6 4.2 -26.1 1 -3.5 1.1 -1.7 1 -.1 2.1 2.7 5.2 10.1 5.2 8.3 5.2 6.4 5.2 4.8 6.3 4.2 7.3 3.4 8.3 2.5 9.4 1.7 12.5 1.2 19.8 1.1 53.1 1.4 92.7 .8 144.7 .4M941.0 380.0l147.9 -.2 3.2 -1.4 2 -2.8 2.1 -5.1 4.2 -15 2.1 -6.2 2.1 -3.3 1 -.6 1 0 2.1 .9 8.4 6.6 7.3 4.4 8.3 4 10.4 4 10.4 3.2 11.5 2.7 12.5 2 13.5 1.5 31.3 2 44.7 1.2 76.1 .7 130.1 .6M941.0 380.0l153.1 0 4.2 -.3 1.1 -.7 1 -1.3 1 -2.8 1.1 -4.9 2.1 -17.8 4.1 -44.9 1.1 -5.7 1 -2.6 1.1 -.5 2 2.7 9.4 17.7 6.3 9.7 8.3 10.6 9.4 9.3 10.4 7.9 11.4 6.4 12.5 5 14.6 4.1 14.6 2.7 16.7 2 19.7 1.4 23 1 62.4 .8 140.6 .2M941.0 380.0l146.9 0 12.5 -.2 3.1 -.5 2.1 -1.6 2.1 -4.9 2.1 -10.5 4.1 -27.9 1.1 -4.3 1 -2.5 1.1 -.8 1 .5 1 1.3 7.3 12.7 5.2 7.3 6.3 6.8 6.2 5.3 8.4 5.1 8.3 3.6 9.4 2.7 11.4 2.2 10.4 1.2 13.6 1 38.5 1.1 229.1 1.5M941.0 380.0l132.3 0 4.2 -.3 1 -1 1.1 -5.9 1 -22.4 2.1 -100.8 1 -25.4 1.1 5.9 3.1 49.5 3.1 28 2.1 12.2 3.1 13.7 3.2 9.4 4.1 8 4.2 4.8 4.2 3.3 6.2 3.4 6.3 2.1 9.3 1.5 15.6 .1 7.3 .4 24 3.6 1 -5.4 1.1 -87.6 1 -185.9 2.1 264.6 1 15.1 1.1 .4 12.5 1.5 22.9 2.1 25 1.5 30.2 1.2 77.1 1.5 117.6 .7M941.0 380.0l132.3 0 4.2 -.3 1 -1 1.1 -5.9 1 -22.4 2.1 -100.8 1 -25.4 1.1 5.9 3.1 49.5 3.1 28 2.1 12.2 3.1 13.7 3.2 9.4 4.1 8 4.2 4.8 5.2 4 6.2 3.1 6.3 2 8.3 1.2 16.7 .1 7.3 .6 29.1 4.4 1.1 -1.6 1 -29.8 1.1 -126.7 1 -68.3 2.1 216.3 1 10.7 1.1 .5 9.3 1.1 24 2 25 1.3 30.2 1.1 75 1.4 114.5 .7M941.0 380.0l132.3 0 4.2 -.3 1 -1 1.1 -5.9 1 -22.4 2.1 -100.8 1 -25.4 1.1 5.9 3.1 49.5 3.1 28 2.1 12.2 3.1 13.7 2.1 6.7 3.1 7.2 4.2 6.2 4.2 3.9 6.2 3.9 7.3 2.9 5.2 1.1 5.2 .6 21.9 .3 3.1 -.6 2.1 -1.6 2.1 -3.9 2.1 -7.3 5.2 -31.4 2.1 -9.8 1 -2.2 1 -.1 2.1 4.5 1.1 1.3 1 -4 1.1 -14.6 1 -29.5 3.1 -124.4 1.1 -6 1 26.3 3.1 149.1 1.1 30.6 1 16.9 1 7.8 1.1 3.2 1 1.1 2.1 .6 7.3 .9 25 2.1 25 1.3 30.2 1.1 75 1.4 114.5 .7M941.0 380.0l132.3 0 4.2 -.3 1 -1 1.1 -5.9 1 -22.4 2.1 -100.8 1 -25.4 1.1 5.9 3.1 49.5 2.1 20.4 3.1 19.8 4.2 17.3 2.1 5.8 2 4.5 3.2 4.9 3.1 3.4 4.2 3.3 4.1 2.4 5.2 2.2 5.2 1.4 1.1 -23.8 3.1 -2.6 4.2 -5.9 6.2 -12.3 3.1 -8.3 4.2 -13.9 6.3 -24.5 4.1 -25.1 2.1 -8.8 1 -1.4 1.1 1.5 2.1 6.7 1 1.4 1.1 -1.3 1 -3.3 4.2 -22.6 3.1 -23.9 1 -4 1.1 5.6 6.2 101.8 3.1 38.6 3.2 16.5 2 7.3 2.1 3.7 5.2 4.2 5.2 2.4 5.3 .8 28.1 2 35.4 1.6 78.1 1.6 121.8 .8M941.0 380.0l132.3 0 4.2 -.3 1 -1 1.1 -5.9 1 -22.4 2.1 -100.8 1 -25.4 1.1 5.9 3.1 49.5 2.1 20.4 3.1 19.8 4.2 17.3 2.1 5.8 2 4.5 3.2 4.9 3.1 3.4 4.2 3.3 4.1 2.4 5.2 2.2 5.2 1.4 1.1 -17.8 2.1 -.8 2 -2 4.2 -6.9 5.2 -12.7 7.3 -22 3.1 -13.5 5.2 -27.8 4.2 -32 1 -4.9 1.1 -.8 1 3.6 2.1 11.6 1.1 3.1 1 -.4 2.1 -3.9 1 -.9 1.1 2 16.6 97.5 3.1 15.3 2.1 6 4.2 7.6 4.2 5.5 3.1 2.3 10.4 1.2 24 1.7 54.1 2 71.9 1.2 107.2 .6M941.0 380.0l132.3 0 4.2 -.3 1 -1 1.1 -5.9 1 -22.4 2.1 -100.8 1 -25.4 1.1 5.9 2.1 35.4 2 25.4 3.2 23.2 2 10.8 3.2 12.2 3.1 8.2 4.2 7 4.1 4.4 4.2 3 5.2 2.7 6.3 2.1 5.2 1.1 6.2 .5 15.6 -.1 4.2 -.6 3.1 -2 3.1 -5 3.2 -9.1 5.2 -19.3 2.1 -4.7 1 -1 1 .1 1.1 1.2 1 2.2 5.2 19.3 1.1 2.4 1 -3 1.1 -15.3 3.1 -121.2 1 -3.4 3.1 129.6 1.1 23.1 1 9.2 1.1 2.8 1 .8 12.5 1.6 24 1.8 54.1 2.3 74 1.3 112.4 .7M941.0 380.0l132.3 0 4.2 -.3 1 -1 1.1 -5.9 1 -22.4 2.1 -100.8 1 -25.4 1.1 5.9 2.1 35.4 2 25.4 3.2 23.2 3.1 15.4 2.1 7.6 2.1 5.8 4.1 8 3.1 3.8 3.2 2.8 4.1 2.8 5.2 2.5 7.3 2.2 7.3 1 1.1 -26.2 6.2 -21.8 6.3 -26.7 6.2 -40.8 2.1 -8.6 1 -1.1 1.1 1.6 1 3.6 3.1 13.2 8.4 20.2 8.3 24.2 3.1 10.8 6.3 27.6 3.1 11.3 5.2 12.6 2.1 3.9 2.1 2.9 15.6 1.6 21.9 1.5 53.1 2.1 72.9 1.2 109.3 .7M941.0 380.0l132.3 0 4.2 -.3 1 -1 1.1 -5.9 1 -22.4 2.1 -100.8 1 -25.4 1.1 5.9 2.1 35.4 2 25.4 3.2 23.2 3.1 15.4 2.1 7.6 2.1 5.8 4.1 8 3.1 3.8 3.2 2.8 4.1 2.8 5.2 2.5 4.2 1.5 5.2 1.1 11.5 .7 1 -24.8 6.3 -16 7.3 -20.7 11.4 -38.2 4.2 -11.2 1 -2.1 1.1 -1 1 .5 2.1 4.5 4.2 14.1 13.5 72.9 2.1 9.3 2.1 5.7 4.1 8.6 3.1 4.4 2.1 1.3 16.7 1.5 21.9 1.3 52 1.9 71.9 1.1 104.1 .6M941.0 380.0l132.3 0 4.2 -.3 1 -1 1.1 -5.9 1 -22.4 2.1 -100.8 1 -25.4 1.1 5.9 2.1 35.4 2 25.4 3.2 23.2 3.1 15.4 2.1 7.6 2.1 5.8 4.1 8 3.1 3.8 3.2 2.8 4.1 2.8 5.2 2.5 7.3 2.2 7.3 1 1.1 -25.9 1 -2.6 7.3 -16.7 9.4 -19.4 1 -.9 1.1 .2 5.2 6.1 1 .3 1 -1.5 5.3 -20.9 4.1 -11.3 1.1 -1.9 1 -1.1 1 .2 1.1 1.7 2.1 7 5.2 22.3 6.2 31.1 2.1 8.5 3.1 10.3 3.2 8.9 2 4.6 4.2 5.8 3.1 2.5 13.6 1.4 22.9 1.4 53.1 2 71.9 1.1 105.1 .6M941.0 380.0l132.3 0 4.2 -.3 1 -1 1.1 -5.9 1 -22.4 2.1 -100.8 1 -25.4 1.1 5.9 2.1 35.4 2 25.4 3.2 23.2 3.1 15.4 2.1 7.6 2.1 5.8 4.1 8 3.1 3.8 3.2 2.8 4.1 2.8 5.2 2.5 7.3 2.2 8.4 1 4.1 -.7 2.1 -1.5 1.1 -1.4 2 -4.6 1.1 -3.3 5.2 -24.4 2.1 -7.5 1 -1.8 1.1 -.3 1 .9 3.1 6.2 1.1 1 1 -.6 1 -2.4 2.1 -10.5 4.2 -27.4 1 -3.1 1.1 -.3 1 2.9 1.1 5.6 5.2 46.4 3.1 19.9 1 3.9 2.1 4.8 2.1 2.2 2.1 1 13.5 1.9 22.9 2.1 25 1.4 30.2 1.2 76.1 1.5 117.6 .7M941.0 380.0l132.3 0 4.2 -.3 1 -1 1.1 -5.9 1 -22.4 2.1 -100.8 1 -25.4 1.1 5.9 2.1 35.4 2 25.4 3.2 23.2 3.1 15.4 2.1 7.6 2.1 5.8 4.1 8 3.1 3.8 3.2 2.8 4.1 2.8 5.2 2.5 8.4 2.4 9.3 .8 4.2 -.9 2.1 -1.9 1 -1.8 2.1 -6.1 2.1 -10.6 6.3 -45.1 1 -3.8 1 -1.1 1.1 1.6 2.1 10.4 4.1 33 3.2 17.9 1 3.6 2.1 4.5 2.1 2.2 3.1 1.3 16.6 2.6 21.9 2.3 25 1.8 30.2 1.4 79.2 1.7 124.9 .8M941.0 380.0l132.3 0 4.2 -.3 1 -1 1.1 -5.9 1 -22.4 2.1 -100.8 1 -25.4 1.1 5.9 3.1 49.5 3.1 28 2.1 12.2 3.1 13.7 3.2 9 1 1.8 1 .9 1.1 -.5 1 -2.4 1.1 -5.1 1 -8.5 5.2 -77.7 1.1 -9.2 1 -1.7 1 6.2 1.1 13.1 3.1 55.3 2.1 28 2.1 14.5 1 3.6 1.1 2.1 2 1.8 3.2 .9 4.1 .4 16.7 .1 7.3 .6 31.2 4.7 20.9 2.4 20.8 1.6 25 1.3 36.4 1.3 45.9 .8 135.3 1M941.0 380.0l132.3 0 4.2 -.3 1 -1 1.1 -5.9 1 -22.4 2.1 -100.8 1 -25.4 1.1 5.9 3.1 49.5 2.1 20.4 2.1 14.1 2 10.8 4.2 15.3 2.1 5.1 2.1 3.9 2.1 3 2 1.9 1.1 .4 1 -.4 1.1 -1.6 1 -3.4 2.1 -13.8 4.2 -49.7 1 -8.8 1 -3.7 1.1 2.3 1 7.9 4.2 53.1 2.1 17.6 2.1 8.2 1 1.8 2.1 1.6 3.1 .5 13.5 0 8.4 .6 31.2 4.7 22.9 2.6 21.9 1.6 25 1.3 36.5 1.1 44.7 .9 133.3 .9M941.0 380.0l132.3 0 4.2 -.3 1 -1 1.1 -5.9 1 -22.4 2.1 -100.8 1 -25.4 1.1 5.9 2.1 35.4 2 25.4 2.1 16.7 3.1 17.3 4.2 15.3 2.1 5.1 2.1 4 2.1 3 3.1 3.4 3.1 2.6 4.2 2.5 2.1 .6 2 -.5 2.1 -3 1.1 -3 2.1 -10 5.2 -35.1 1 -3.3 1 -.4 1.1 2.5 1 5 4.2 30.5 2.1 11.4 1 3.8 2.1 4.4 1 1.1 2.1 .9 14.6 1.3 26 4.1 18.8 2.3 22.9 1.9 28.1 1.5 36.5 1.2 45.8 .9 134.3 .9M941.0 380.0l132.3 0 4.2 -.3 1 -1 1.1 -5.9 1 -22.4 2.1 -100.8 1 -25.4 1.1 5.9 2.1 35.4 2 25.4 3.2 23.2 3.1 15.4 2.1 7.6 2.1 5.8 4.1 8 3.1 3.8 3.2 2.8 4.1 2.8 5.2 2.5 6.3 2 4.2 .5 2 -.6 2.1 -2.2 2.1 -5.4 1 -4.4 5.3 -32.9 1 -4.8 1 -2.5 1.1 .1 1 2.7 1.1 4.9 4.1 27.5 2.1 9.9 1.1 3.2 2 3.8 2.1 1.6 2.1 .7 24 3.9 19.7 2.5 25 2 30.2 1.6 36.5 1.2 44.8 .8 132.2 .9M941.0 380.0l132.3 0 4.2 -.3 1 -1 1.1 -5.9 1 -22.4 2.1 -100.8 1 -25.4 1.1 5.9 2.1 35.4 2 25.4 3.2 23.2 3.1 15.4 2.1 7.6 2.1 5.8 4.1 8 3.1 3.8 3.2 2.8 4.1 2.8 5.2 2.5 5.3 1.7 6.2 1.2 25 .8 31.2 4.6 3.2 -.1 1 -1 1 -2.4 1.1 -4.8 3.1 -27.7 1.1 -6.5 1 -.3 1 6.1 3.2 28.7 1 5.4 1 2.9 1.1 1.3 2.1 .8 38.5 2.8 52.1 1.8 70.8 1.1 104.1 .6M941.0 380.0l135.4 -.2 1.1 -1.6 1 -8.7 1.1 -28.9 2.1 -99.6 1 -14.7 1 11.9 2.1 35.9 2.1 23.5 3.1 20 2.1 9 3.1 10.7 4.2 9.8 3.1 4.8 3.1 3.4 4.2 3.4 5.2 3.1 6.3 3 6.2 2.3 13.6 3.9 3.1 .5 2.1 -.1 2 -.9 2.1 -2.1 6.3 -8.6 2.1 -1.4 2 -.4 21.9 3.5 19.8 1.7 17.7 .2 19.8 -1.3 10.4 -1.6 5.2 -1.6 15.6 -5.8 5.3 -1.1 4.1 -.3 5.2 .8 6.3 2.5 5.2 3.1 15.6 10.6 7.3 3.5 3.1 .6 3.1 -.6 2.1 -1.2 5.2 -4.7 2.1 -1 1.1 -.1 2 .8 6.3 5.3 3.1 .9 2.1 -.4 2.1 -1 4.1 -3.2 14.6 -16 5.2 -4.7 5.2 -2.9 3.2 -.7 4.1 -.4 31.3 .9 14.6 .9 7.2 .9 5.3 1.5 5.2 2.2 15.6 9.1 4.1 2M941.0 380.0l135.4 -.2 1.1 -1.6 1 -8.7 1.1 -28.9 2.1 -99.6 1 -14.7 1 11.9 2.1 35.9 2.1 23.5 3.1 20 4.2 16.4 2.1 6.2 3.1 6.9 2.1 3.3 3.1 3.9 3.1 2.8 4.2 3 5.2 2.8 6.3 2.7 9.3 2.8 4.2 .6 4.2 .1 6.2 -1.1 15.6 -5.2 4.2 -.7 5.2 -.2 33.3 2.4 27.1 1.4 65.6 2.9 36.5 .8 22.9 -.6 44.8 -3.1 16.6 -.3 10.4 .5 9.4 1.1 33.3 6M941.0 380.0l135.4 -.2 1.1 -1.6 1 -8.7 1.1 -28.9 2.1 -99.6 1 -14.7 1 11.9 2.1 35.9 2.1 23.5 3.1 20 4.2 16.4 2.1 6.2 3.1 6.9 2.1 3.3 3.1 3.9 3.1 2.8 4.2 3 5.2 2.8 6.3 2.7 9.3 2.9 8.4 1 6.2 -.6 14.6 -3.4 7.3 -.6 44.8 2.9 43.7 1.3 38.5 .1 85.4 -1 27.1 0 22.9 1.6 40.6 5M941.0 380.0l135.4 -.2 1.1 -1.6 1 -8.7 1.1 -28.9 2.1 -99.6 1 -14.7 1 11.9 2.1 35.9 2.1 23.5 3.1 20 4.2 16.4 2.1 6.2 3.1 6.9 2.1 3.3 3.1 3.9 3.1 2.8 4.2 3 5.2 2.8 6.3 2.7 10.4 3.2 5.2 .9 4.1 .2 6.3 -.4 12.5 -1.9 6.2 -.3 51.1 2.6 63.5 1.1 48.9 1.3 21.9 -.3 41.7 -2.1 18.7 -.1 21.9 1.5 36.4 4.4M941.0 380.0l132.3 0 4.2 -.3 1 -1 1.1 -5.9 1 -22.4 2.1 -100.8 1 -25.4 1.1 5.9 3.1 49.5 2.1 20.4 3.1 19.8 4.2 17.3 2.1 5.8 2 4.5 2.1 3.5 3.1 3.9 3.2 2.8 4.1 2.9 5.2 2.8 6.3 2.7 11.4 3.4 4.2 .6 3.1 -.1 5.2 -1.5 11.5 -5.7 4.2 -1 4.1 -.3 43.8 3.9 65.6 4.3 21.9 1 26 0 49 -2.7 23.9 -.5 45.8 .7 28.1 2.5M941.0 380.0l132.3 0 4.2 -.2 2.1 -1.1 1 -4.1 1.1 -16.8 3.1 -133.5 1 -1.8 3.1 49.4 2.1 22.8 3.1 23.1 3.2 15.3 2.1 7.2 2 5.3 2.1 4.1 3.1 4.4 3.2 3.2 4.1 3.1 5.2 2.9 5.3 2.3 10.4 3.4 7.3 1.1 3.1 -.2 3.1 -.7 12.5 -5.1 6.3 -.8 5.2 .3 27 3.3 24 2.1 42.7 2.5 40.6 1.8 22.9 .5 16.7 0 45.8 -2.3 18.8 -.4 27 .6 35.4 2M941.0 380.0l133.4 0 4.1 -.5 2.1 -1.3 1.1 -3.1 1 -12.4 3.1 -136 1.1 -10.7 3.1 48.3 2.1 25.7 3.1 26 3.1 16.7 2.1 7.6 2.1 5.6 4.1 7.3 3.2 3.6 3.1 2.6 4.2 2.7 6.2 3 11.5 3.8 4.1 .8 4.2 0 3.1 -.7 3.1 -1.4 8.4 -5.7 4.1 -2.2 4.2 -1.1 5.2 -.2 85.4 8.9 53.1 3.8 36.5 2 38.5 1.5 49 1.6 39.5 .8"/>
<rect x="912.0" y="65.0" width="588.7" height="4.8" fill="#000"/>
<rect x="1495.7" y="65.0" width="5.0" height="331.9" fill="#000"/>
<rect x="912.0" y="65.0" width="6.8" height="331.9" fill="#000"/>
<rect x="912.0" y="390.2" width="588.7" height="6.7" fill="#000"/>
<text transform="translate(792.00 56.20) scale(1.0395 1)" x="-3.74" y="0" font-size="56.70" font-weight="bold" fill="#000">b</text>
<text transform="translate(1149.80 42.90) scale(0.8993 1)" x="-4.01" y="0" font-size="48.90" fill="#000">PDAC</text>
<text transform="translate(853.70 391.30) scale(0.9123 1)" x="-1.29" y="0" font-size="33.00" fill="#000">0.0</text>
<text transform="translate(853.70 316.45) scale(0.9223 1)" x="-1.66" y="0" font-size="33.00" fill="#000">2.5</text>
<text transform="translate(853.70 240.60) scale(0.9130 1)" x="-1.32" y="0" font-size="33.00" fill="#000">5.0</text>
<text transform="translate(853.70 165.75) scale(0.9230 1)" x="-1.69" y="0" font-size="33.00" fill="#000">7.5</text>
<text transform="translate(837.20 91.90) scale(0.9268 1)" x="-2.51" y="0" font-size="33.00" fill="#000">10.0</text>
<text transform="translate(927.80 437.00) scale(1.0280 1)" x="-1.47" y="0" font-size="33.00" fill="#000">-1</text>
<text transform="translate(1066.10 437.00) scale(1.0143 1)" x="-1.29" y="0" font-size="33.00" fill="#000">0</text>
<text transform="translate(1200.20 437.00) scale(1.0051 1)" x="-2.51" y="0" font-size="33.00" fill="#000">1</text>
<text transform="translate(1332.90 437.00) scale(0.9645 1)" x="-1.66" y="0" font-size="33.00" fill="#000">2</text>
<text transform="translate(1466.30 437.00) scale(0.8884 1)" x="-1.26" y="0" font-size="33.00" fill="#000">3</text>
<text transform="translate(1054.30 477.00) scale(0.9702 1)" x="-1.76" y="0" font-size="41.50" fill="#000">coefficient values</text>
<text transform="translate(818.40 293.50) rotate(-90) scale(0.9659 1)" x="-3.40" y="0" font-size="41.50" fill="#000">Density</text>
<path fill="none" stroke="#DDCC77" stroke-width="1.60" stroke-linejoin="round" stroke-linecap="butt" d="M156.3 892.5l90.7 -.1 30.2 -.8 4.1 -.8 3.2 -1.6 3.1 -3 6.2 -7.8 3.2 -1.4 1 -1.9 1 -9.7 1.1 -27.9 2.1 -84.5 1 -12.9 1 9.6 4.2 62.8 2.1 20.6 3.1 20.9 3.1 13 2.1 5.8 2.1 4.3 4.2 5.5 3.1 2.4 3.1 1.6 7.3 1.8 11.5 1.1 30.2 1.3 35.4 .8 87.5 .7 185.4 .2M156.3 892.5l130.2 -.1 2.1 -.2 1.1 -1.4 1 -8 1 -28.1 2.1 -121.4 1.1 -33.5 1 6.4 3.1 78.3 3.2 48.8 1 10.5 2.1 14.5 1 4.5 1.1 2.7 1 1.1 1 -.6 1.1 -1.9 5.2 -16.8 1 -1.9 1.1 -.9 1 .2 2.1 2.4 6.3 12.4 4.1 6.7 4.2 5.2 5.2 4.8 6.2 4.1 7.3 3.2 8.4 2.4 10.4 1.7 25 1.9 44.8 1 103.1 1 142.7 .6M156.3 892.5l110.4 -.2 20.9 -1.2 7.3 -1 1 -.9 1.1 -25.7 1 -120.7 1 -69 2.1 75.2 2.1 55.2 1 18.1 2.1 23.4 1.1 6.8 1 4.2 1 2.1 1.1 .4 1 -.8 4.2 -7.2 1 -1.2 1.1 -.6 1 0 2.1 1.3 8.3 10.4 6.3 6.3 7.3 5.5 8.3 4.6 9.4 3.8 11.4 3.2 12.5 2.3 15.7 1.7 34.3 2 51.1 1.1 76 .6 127.1 .3M156.3 892.5l97.9 0 28.2 -.6 6.2 -.4 3.1 -.7 3.2 -1.7 3.1 -3.2 1 -4.7 1.1 -32.5 2.1 -216.1 1 -28.3 3.1 92.4 2.1 48.7 2.1 36.2 3.1 37.3 3.1 23.8 2.1 10.7 2.1 8 2.1 5.8 2.1 4.4 3.1 4.4 3.1 2.8 3.1 1.7 3.2 1.1 8.3 1.2 90.6 3.5 111.4 2.7 140.7 1.9M156.3 892.5l136.5 0 4.2 -.6 1 -.9 1 -15.5 2.1 -271.4M303.2 607.2l2.1 71.2 2.1 51.3 3.1 53.8 3.1 35.2 3.1 22.5 2.1 10.3 2.1 7.6 2.1 5.7 3.1 6.1 3.1 4.1 3.2 2.7 3.1 1.9 3.1 1.3 8.3 1.8 45.9 5.2 35.4 2.2 36.4 1 50 .7 174 .6M156.3 892.5l100 0 25 -.4 4.2 -.5 3.1 -1.2 3.1 -2.7 2.1 -2.6 1.1 -5.1 1 -27.2 2.1 -173.9 1 -28.9 3.2 118.8 1 27.7 1 20 2.1 23.4 1.1 6 1 3.5 1 1.7 1.1 .8 3.1 .4 2.1 1.1 10.4 12.1 4.2 3.8 5.2 3.7 6.2 3.5 6.3 2.7 8.3 2.7 8.3 2 19.8 3.1 26.1 2.1 38.5 1.4 56.2 1 183.4 .9M156.3 892.5l128.2 -.1 4.1 -.2 2.1 -.5 1 -.6 1.1 -1.6 1 -10 1.1 -46.9 2.1 -232.9M299.0 614.9l2.1 108.5 1.1 34.9 1 25.3 2.1 32.1 3.1 25.2 2.1 10 2.1 7.1 2.1 5.3 3.1 5.7 3.1 3.9 4.2 3.6 4.1 2.6 5.2 2.3 6.3 2 7.3 1.7 17.7 2.4 23.9 1.5 45.9 1.3 64.5 1 188.6 1M156.3 892.5l121.9 -.2 3.1 -.4 3.2 -1.4 3.1 -2.9 2.1 -3.2 5.2 -9.6 1 -7.8 1.1 -50.8 1 -110.9 1 -54.4 4.2 128.1 3.1 54.7 2.1 21.3 3.1 18.4 1.1 3.7 2.1 5.1 2 3 2.1 1.6 3.1 1 4.2 .1 26 -3.8 27.1 -.5 5.2 -1 9.4 -3.4 4.2 -.6 5.2 1.2 9.4 4.7 5.2 1.7 7.3 1 13.5 .8 44.8 1.7 54.1 1.2 151.1 1.3M156.3 892.5l129.2 0 4.2 -.4 2 -.5 2.1 -1.2 1.1 -1.1 1 -8.9 2.1 -173.4 1 -15.1 2.1 53.1 2.1 38.8 2.1 26.6 3.1 26.5 2.1 12.1 2.1 9.1 2.1 6.8 2 5.2 2.1 4 3.1 4.2 3.2 3 4.1 2.7 7.3 2.8 10.4 1.8 48 1.9 94.7 1 199 .6M156.3 892.5l120.9 -.1 12.5 -.6 2 -.5 2.1 -1 1.1 -1 1 -2.9 1.1 -11.4 3.1 -113 1 -3 3.1 41.1 2.1 17.8 3.1 17.3 4.2 16 2.1 6.2 3.1 7.4 2.1 3.7 3.1 4.3 3.2 3.2 3.1 2.4 4.1 2.4 5.3 2.2 12.4 3.1 16.7 2.2 20.8 1.5 29.2 1.2 89.6 1.2 180.2 .3M156.3 892.5l132.3 0 1.1 -.1 1 -.9 1 -8.5 1.1 -40.1 2.1 -185 1 -26.8 3.1 112.1 3.2 73.8 2 27.1 2.1 16.6 1.1 5.5 2 7.2 1.1 2.2 2.1 2.3 2.1 .9 12.5 1.6 15.6 1.5 32.3 4 22.9 1.8 28.1 1.3 43.7 1.3 56.3 .9 162.5 1M156.3 892.5l107.3 -.1 18.8 -.5 8.3 -.5 1 -.4 1.1 -4.3 1 -28.8 2.1 -215M298.0 617.6l3.1 140.8 2.1 50.7 2.1 28.9 2.1 15.4 1 4.4 2.1 4.9 2.1 1.9 5.2 2.9 8.3 7 5.2 3.1 5.2 2.1 6.3 1.8 7.3 1.4 22.9 2.7 31.2 2 49 1.8 62.5 1.3 75 .9 97.9 .5M156.3 892.5l102.1 0 22.9 -.4 8.4 -.6 3.1 -.5 3.1 -1.9 2.1 -2.8 1 -3.5 1.1 -46.2 1 -167.8 1.1 -69.3 3.1 130.5 2.1 54.3 2 34.8 2.1 22.3 3.2 19.4 2 7.5 2.1 4.9 2.1 3.3 3.1 3.2 3.2 1.9 5.2 2 14.5 2.9 21.9 2.2 29.2 1.5 41.6 1 58.4 .7 190.6 .5M156.3 892.5l121.9 -.2 3.1 -.4 3.2 -1.4 2 -1.8 3.2 -4.3 1 -1.8 1 -4.4 1.1 -42.7 1 -172.4M299.0 612.1l2.1 71.2 2.1 52.7 2.1 36.9 1 13.2 2.1 18.4 5.2 27.4 3.1 13.3 2.1 6.9 3.1 7.8 3.2 5.4 4.1 5.1 4.2 3.6 5.2 3.2 6.3 2.8 7.2 2.5 8.4 2.1 19.8 3 27 2 38.6 1.4 53.1 .8 189.6 .7M156.3 892.5l130.2 0 1.1 -.1 1 -.8 1.1 -7.1 1 -31.4 2.1 -171 1 -57.4 1.1 -2.9 3.1 75.3 2.1 40.8 3.1 43.7 3.1 29.4 4.2 26.3 2.1 9.7 3.1 11.4 3.1 8.4 3.1 6 4.2 5.5 4.2 3.7 4.1 2.5 4.2 1.7 10.4 2.5 16.7 1.8 23.9 1.1 68.8 .8 230.2 .1M156.3 892.5l135.4 0 1.1 -.1 1 -.9 1.1 -7.9 1 -34.7 2.1 -164 1 -29 4.2 143.5 1 21.1 2.1 23.6 1.1 5.1 1 2 1 .2 2.1 -1.6 1.1 -.3 1 .4 2.1 2.8 4.2 8.4 3.1 5.2 3.1 4.1 4.2 3.7 2.1 1 2 .6 3.2 -.3 3.1 -1.4 8.3 -5.9 3.1 -.9 2.1 .3 2.1 1.1 2.1 1.8 10.4 13.1 5.2 4.6 3.1 1.7 3.2 1 9.3 1.1 49 .6 250 0M156.3 892.5l111.5 -.3 20.8 -1.3 3.1 -.8 2.1 -1.6 2.1 -3.6 1.1 -2.8 2 -8.2 1.1 -23.3 2.1 -131.2 1 3.5 4.2 51.5 3.1 29 3.1 21.3 4.2 19.5 2.1 7.1 3.1 8.3 2.1 4.2 3.1 5 3.1 3.8 3.1 2.9 4.2 2.9 4.2 2.2 5.2 2 6.2 1.7 16.7 2.9 21.9 2.1 28.1 1.4 36.4 .8 50 .6 181.3 .4M156.3 892.5l97.9 0 24 -.4 4.2 -.4 3.1 -1.1 2.1 -1.6 2.1 -3.2 3.1 -9 5.2 -21.1 1 -11.6 1.1 -43.2 2.1 -198.9M305.3 613.5l2.1 67.3 2 50.5 3.2 52.8 3.1 34 3.1 22.1 2.1 10.4 2.1 7.7 2.1 5.9 3.1 6.4 3.1 4.2 3.1 2.9 3.2 2 4.1 1.8 9.4 2.3 15.6 1.6 25 1.3 50 1.4 72.9 1.3 174 1.8M156.3 892.5l128.2 0 4.1 -.4 2.1 -.7 1 -.6 1.1 -1.7 1 -8.6 1.1 -39.4 2.1 -240.4M302.2 594.5l2 54.4 3.2 63.6 3.1 47.8 4.2 45.2 4.1 29.6 4.2 19.3 2.1 6.8 3.1 7.8 3.1 5.5 4.2 4.6 4.2 2.5 4.1 .9 16.7 -.1 25 3.4 8.3 .2 4.2 -1.1 3.1 -1.9 3.1 -2.9 8.4 -9.8 2 -1.4 2.1 -.6 2.1 .4 3.1 2.5 8.4 10.9 4.1 4.1 2.1 1.4 3.1 1.4 6.3 1.2 29.1 1 49 .8 164.6 .5M156.3 892.5l132.3 0 2.1 -.4 1 -2.6 1.1 -13.4 1 -42.9 2.1 -193.5M299.0 616.5l3.2 146.2 1 29.9 2.1 39.1 2.1 19.6 2 8.2 6.3 10.8 2.1 2.6 3.1 2.7 3.1 1.7 5.2 1.6 34.4 7.3 19.8 2.5 26 1.8 33.4 1 47.9 .6 197.9 .4M156.3 892.5l121.9 -.1 5.2 -.8 2.1 -1.3 2.1 -2.3 7.3 -14 1 -28.8 1.1 -167.6M299.0 595.5l2.1 79.9 2.1 59.3 2.1 42.6 3.1 39.3 2.1 14.2 1 4.6 2.1 6.1 6.3 11.8 4.1 6.9 4.2 5 4.2 3.6 6.2 4 7.3 3.4 8.3 3 9.4 2.6 10.4 2.2 11.5 1.8 28.1 2.6 35.4 1.6 51 1.1 188.6 1.1M156.3 892.5l138.6 -.1 1 0 1.1 -1.4 1 -31.5 1 -113.7 1.1 -62.7 5.2 92.2 3.1 37 3.1 25.1 3.2 17.1 2 8.2 2.1 6.3 2.1 4.9 3.1 5.1 3.2 3.3 3.1 2.1 4.1 1.6 6.3 .8 29.2 -.4 57.2 2.1 51.1 1.4 90.6 1.3 119.8 .8M156.3 892.5l130.2 0 4.2 -.3 1 -.9 1.1 -13.1 2.1 -157 1 -15.7 3.1 51.2 2.1 21.6 3.1 20.8 7.3 39.2 4.2 16.8 2.1 6.2 3.1 7.3 3.1 5.3 3.2 3.8 3.1 2.8 3.1 1.7 3.1 1 4.2 .2 10.4 -2.2 5.2 -.2 5.2 1.2 10.4 4.3 5.2 1.6 7.3 1 10.5 .5 115.6 1.7 178.1 .8M156.3 892.5l128.2 -.1 3.1 -.5 3.1 -1.5 3.1 -3.5 1.1 -2.2 1 -14.8 1.1 -88.9 1 -184.1M301.1 631.4l1.1 62.2 2 81.8 1.1 26.4 2.1 34.8 2 19.8 2.1 11.4 1.1 3.8 2.1 5.1 2 3 2.1 1.9 2.1 1.2 3.1 1 8.4 1 29.1 -1.2 12.5 -.1 68.8 3 64.5 1.9 82.3 1.6 99 1.1M156.3 892.5l133.4 0 7.3 -.3 1 -2.4 1 -13.3 1.1 -46.7 2.1 -222.3M309.4 616.0l3.2 65.3 3.1 51.5 4.2 49.1 4.1 33 2.1 12.3 3.1 14.5 2.1 7.6 3.1 9 3.2 6.9 4.1 6.7 4.2 4.8 4.2 3.5 4.1 2.5 4.2 1.9 5.2 1.7 6.3 1.4 14.5 1.8 21.9 1.2 35.4 .8 54.2 .6 192.7 .4M156.3 892.5l126.1 0 4.1 -.3 1.1 -.9 1 -4.9 1.1 -20.2 1 -57.5 1 -104.4M295.9 593.8l3.1 151.2 2.1 49.3 2.1 25.1 1 7.4 2.1 10 2.1 7.4 3.1 8.5 2.1 4 3.1 4.4 3.2 3.4 4.1 3.5 5.2 3.3 5.2 2.5 5.3 1.9 7.2 1.8 23 5 12.5 2.2 15.6 1.9 17.7 1.5 36.4 1.7 51.1 1.1 77 .8 108.4 .5M156.3 892.5l113.6 -.1 21.8 -.2 3.2 -.4 1 -9.2 1.1 -83.5 1 -180M300.1 608.8l1 56.7 2.1 78.7 2.1 45.5 2.1 25.7 3.1 20.9 2.1 9.1 3.1 10.4 2.1 5.2 3.1 5.8 4.2 5.3 4.1 3.6 5.2 3.4 5.3 2.5 6.2 2.3 7.3 2 8.3 1.6 9.4 1.3 22.9 1.6 30.2 .9 49 .6 215.6 .5M156.3 892.5l104.2 -.1 20.8 -.8 7.3 -.6 1.1 -.6 1 -8.4 1 -44.2 1.1 -77.1 1 -36.2 1.1 11.3 3.1 54.7 2.1 22.5 2.1 13.1 2 7 8.4 23 4.1 8.7 3.2 4.5 4.1 4.3 4.2 2.9 5.2 2.7 5.2 2 7.3 2 17.7 3.2 21.9 2.2 29.1 1.5 40.7 1 55.2 .8 178.1 .5M156.3 892.5l127.1 -.1 3.1 -.6 3.2 -1.7 7.3 -8.4 1 -3.9 1 -23.6 2.1 -213.4M304.2 622.6l3.2 128.6 2 48.7 2.1 31.1 2.1 19.8 3.1 17.3 3.2 8.9 2 3.5 3.2 3 2.1 1 2 .5 2.1 -.1 2.1 -.6 3.1 -2.2 7.3 -7.7 2.1 -1.1 1 -.1 3.2 1.1 8.3 7.1 4.2 1.6 18.7 1 30.2 2.6 22.9 1.6 42.7 1.8 52.1 1.2 66.7 .7 92.7 .4M156.3 892.5l121.9 -.1 15.6 -.4 1.1 -.1 1 -1 1.1 -6.4 1 -24.6 3.1 -225 1.1 -26.7 1 17 4.2 122.8 2 37.3 3.2 34.8 3.1 20.3 2.1 9.2 3.1 10.4 2.1 5.1 3.1 5.9 3.1 4.1 4.2 3.7 4.2 2.5 5.2 2.2 6.2 1.8 7.3 1.6 18.8 2.4 26 1.6 32.3 .8 48.9 .4 206.3 .4M156.3 892.5l120.9 -.1 3.1 -.5 3.1 -1.2 2.1 -1.6 5.2 -5.1 2.1 -1.3 2.1 0 2.1 1.3 1 .1 1 -19.2 1.1 -76.8 1 -36.6 3.1 68.9 1.1 15.8 2.1 22 2 13.4 1.1 4.6 2.1 6.3 3.1 5 2.1 1.7 2.1 1 3.1 .5 3.1 -.3 4.2 -1.3 3.1 -1.7 6.3 -5.3 9.3 -10.7 4.2 -4.1 4.2 -2.6 3.1 -.5 3.1 .6 3.1 1.7 12.5 10.9 6.3 4.3 7.3 2.8 9.3 1.5 46.9 2 67.7 1.8 77.1 1.2 94.8 .7M156.3 892.5l125 0 6.3 -.6 1 -.4 1.1 -1.1 1 -11.2 1 -65.5 1.1 -137.3 1 -80.5 1.1 27.9 3.1 139 1 26.9 2.1 35.9 2.1 21.1 3.1 17.4 2.1 6.6 2.1 4.5 2.1 3.1 3.1 3.2 3.1 2 3.1 1.4 8.4 2.4 11.4 1.6 14.6 .7 67.7 1.6 53.1 .7 211.5 .6M156.3 892.5l119.8 -.1 14.6 -.2 2.1 -.6 1 -4.1 1.1 -17.6 3.1 -181.1 1 -14.6 4.2 124.9 1 19.5 2.1 24 2.1 11.9 2.1 6.8 2.1 5.1 4.1 7.1 3.2 3.2 3.1 2.2 4.2 2 6.2 2.2 7.3 1.8 9.4 1.7 21.8 2.5 27.1 1.6 35.4 .8 52.1 .5 202.1 .5M156.3 892.5l130.2 0 1.1 -.1 1 -.7 1.1 -4.5 1 -17.6 2.1 -87.9 1 -26.8 1.1 5.4 3.1 64.5 2.1 26.4 1 8.7 2.1 11.1 1 3.1 1.1 1.8 1 .7 1.1 -.1 1 -.7 4.2 -4.7 1 -.7 2.1 -.4 2.1 .6 8.3 4.9 6.3 2.8 7.3 2.5 9.3 2 10.4 1.4 16.7 1.4 54.2 3.2 40.6 1.2 55.2 1 162.5 1.1M156.3 892.5l113.6 -.1 20.8 -.6 3.1 -.3 2.1 -.6 1.1 -2.6 1 -15.2 1 -55.6 1.1 -113.4M307.4 613.5l3.1 59.9 4.2 62.5 4.1 46.3 4.2 32.5 2.1 12.2 3.1 14.4 2.1 7.6 3.1 9.1 3.1 6.8 3.2 5.2 4.1 5 4.2 3.5 4.1 2.5 4.2 1.8 5.2 1.6 7.3 1.5 18.8 2.1 29.1 1.6 41.7 1.3 55.2 .8 175 .7M156.3 892.5l132.3 0 5.2 -.7 3.2 -2.3 2 -3.5 1.1 -5.5 1 -27.3 2.1 -133.9 1 -13.7 5.2 54.5 3.2 28.1 3.1 23.1 4.2 23.2 4.1 16.4 2.1 6.2 3.1 7.4 2.1 3.9 3.1 4.5 3.2 3.2 3.1 1.9 3.1 1 4.2 -.2 4.1 -1.3 10.5 -4.5 3.1 -.5 3.1 .2 3.1 1.1 3.2 1.7 12.5 9.7 6.2 3.6 7.3 2.3 10.4 1.1 277.1 .3M156.3 892.5l131.3 -.2 1 -2.2 1.1 -14.6 1 -56.9 1 -119.4M295.9 597.0l3.1 127.7 2.1 47.6 1.1 16.4 2 22.7 2.1 14.2 2.1 9.6 3.1 10.8 3.2 8.4 3.1 6.6 3.1 5 4.2 5.1 5.2 4.6 5.2 3.4 6.2 3.2 6.3 2.3 7.3 2.1 16.6 2.9 23 1.8 23.9 .7 36.5 .3 233.3 .1M156.3 892.5l133.4 0 1 -.1 1 -1.7 1.1 -15 1 -62.2 2.1 -185.8 1.1 9.7 3.1 121 1 22.9 2.1 25.8 2.1 12.3 3.1 13.6 3.1 11.3 2.1 5.4 3.1 5.8 3.2 4.2 4.1 4.1 5.2 3.9 7.3 4.3 7.3 3.2 8.3 2.8 10.5 2.7 12.5 2.6 13.5 2.1 14.6 1.7 15.6 1.3 35.4 1.7 49 1 185.4 1.1M156.3 892.5l110.4 -.2 21.9 -1.2 5.2 -.9 1.1 -.8 1 -7 1.1 -39.5 2 -193.2 1.1 -14.8 2.1 77.6 2 59.3 2.1 36 2.1 22 3.1 19.2 3.2 11.1 2 5 3.2 5.4 3.1 3.7 3.1 2.5 4.2 2.4 6.2 2.4 6.3 1.7 8.3 1.6 19.8 2.4 28.1 1.7 45.8 1.4 62.5 1 181.3 1M156.3 892.5l131.3 0 1 -.1 1.1 -1.3 1 -15.8 2.1 -142.2 1 -15.2 3.2 75.4 2 28.5 2.1 14.1 2.1 5.9 4.2 5.5 6.2 10.5 4.2 5.3 4.1 3.9 4.2 3.1 6.3 3.7 6.2 3 7.3 2.9 7.3 2.4 16.7 3.8 19.7 2.6 26.1 1.7 32.3 1 45.8 .6 194.8 .6M156.3 892.5l133.4 -.1 1 -3.2 1 -44.1 1.1 -167.8M295.9 617.2l1.1 69.8 2 90.5 2.1 48.7 2.1 24.8 2.1 11.3 1 2.6 1.1 1.5 6.2 3.5 9.4 7.7 5.2 3 5.2 2.3 6.3 2.1 7.2 1.7 19.8 2.7 25 1.7 29.2 .7 46.9 .4 220.8 .3M156.3 892.5l130.2 0 1.1 -.2 1 -1.7 1.1 -11.4 1 -42.6 2.1 -183.3 1 -47.3 1.1 6.5 3.1 87 2.1 43.7 2.1 31.4 3.1 30.1 4.1 24.7 3.2 13.9 2.1 7.4 2 5.9 3.2 6.7 3.1 4.5 4.2 4 5.2 2.9 8.3 2.5 32.3 6.3 8.3 1.3 6.3 .4 5.2 -.5 4.1 -1.6 4.2 -2.9 8.3 -7.2 3.2 -1.4 2 -.1 2.1 .6 3.1 2.1 8.4 8.5 5.2 4 3.1 1.5 3.1 .9 8.4 .9 34.3 1.1 49 .7 157.3 .6M156.3 892.5l110.4 -.2 16.7 -1 5.2 -.9 3.1 -1 1.1 -1.1 1 -4.1 1.1 -15.3 3.1 -112.2 1 -4 3.2 34.5 3.1 21.9 2.1 9.4 3.1 11 3.1 9.2 3.1 7.3 3.2 5.7 3.1 4.3 4.2 4.4 4.1 3.6 6.3 4.4 6.2 3.6 7.3 3.4 7.3 2.9 15.6 4.5 18.8 3.5 21.8 2.4 28.2 1.7 33.3 1 44.8 .6 167.7 .5M156.3 892.5l121.9 -.1 4.2 -.4 3.1 -1.1 2.1 -1.4 2.1 -2.4 3.1 -6.1 6.2 -17.1 1.1 -16 1 -63.1 1.1 -119M306.3 603.5l2.1 52.8 3.1 62 3.2 45.1 4.1 41.6 4.2 27.2 2.1 9.9 3.1 11.4 3.1 8.4 3.1 6.1 3.2 4.5 4.1 4 4.2 2.5 5.2 1.9 5.2 .8 5.2 0 3.1 -.7 3.2 -1.4 10.4 -7.5 2.1 -.9 2.1 -.2 2 .4 2.1 1.1 9.4 8 5.2 3 6.2 1.5 12.5 1.2 46.9 2.5 56.3 1.8 70.8 1.1 94.8 .6M156.3 892.5l118.8 0 13.5 -.2 3.1 -.5 1.1 -8.5 1 -69.9 1.1 -133.4 1 -41.7 3.1 84.6 2.1 39.7 2.1 26.7 3.1 25 2.1 11.5 3.1 13.9 3.2 11.2 3.1 8.7 3.1 6.3 3.1 4.8 4.2 4.5 4.2 3.2 4.1 2.4 5.2 2.3 6.3 1.9 7.3 1.7 16.6 2.3 23 1.5 30.2 .7 48.9 .5 214.6 .6M156.3 892.5l125 0 4.2 -.4 3.1 -1.6 3.1 -4.4 3.2 -7.9 1 -13.8 1.1 -101.6M300.1 600.2l2.1 76.5 2 56.2 2.1 41 3.1 41.4 3.2 25.9 2.1 11.9 2 8.8 2.1 6.7 3.1 7 3.2 4.7 4.1 4.1 3.2 1.9 4.1 1.8 5.2 1.4 6.3 1.1 9.4 .9 11.4 .5 8.3 0 6.3 -.6 5.2 -1.5 4.2 -2.2 5.2 -4.5 10.4 -11 3.1 -2 3.1 -.6 3.2 .7 3.1 2.2 10.4 11 5.2 4.4 3.1 1.8 3.2 1.2 7.2 1.3 15.7 .3 222.9 0M156.3 892.5l120.9 -.3 5.2 -.5 3.1 -.9 8.3 -4.8 3.2 -1.3 1 -1.9 1 -10.3 3.2 -106.8 1 -.8 2.1 27.1 2.1 20.3 4.1 27.2 3.2 14.4 3.1 9.4 2.1 4.2 2 3.2 2.1 2.3 3.2 2.6 6.2 3 5.2 1.4 8.3 1.4 40.7 4.7 27 2.2 31.3 1.6 38.5 1.1 49 .8 155.2 .6M156.3 892.5l133.4 -.1 1 0 1 -1.2 1.1 -10.9 1 -49.8 2.1 -215.5M298.0 594.4l3.1 82.8 2.1 43 3.1 48.8 4.2 44.2 4.2 28.2 2 10.1 3.2 11.3 2 5.7 3.2 6.4 3.1 4.6 4.2 4 5.2 3 5.2 1.6 6.2 .9 9.4 .5 134.4 2.3 195.8 .6M156.3 892.5l133.4 0 2 -.1 1.1 -.8 1 -4.7 1.1 -16.7 3.1 -107.5 1 -5.2 5.2 50.9 2.1 13.6 1.1 4.3 1 2.5 1 .8 3.2 -1.3 1 .5 1.1 1.7 8.3 24.4 3.1 6.8 4.2 6.8 4.1 4.9 4.2 3.6 5.2 3.1 5.2 2.1 9.4 2.3 12.5 1.4 22.9 1.3 31.3 1.1 109.3 1.8 154.2 1.3M156.3 892.5l115.7 -.1 20.8 -.8 1 -.7 1.1 -19.3 1 -80.3 1.1 -41 3.1 60.2 2.1 27.1 2 17.9 2.1 11.8 3.1 10.5 2.1 4.2 2.1 2.7 2.1 1.8 3.1 1.5 5.2 1.2 7.3 .6 28.1 .8 12.5 0 9.4 -1.1 13.6 -3.9 6.2 -.8 6.2 .9 11.5 3.6 5.2 1.2 6.3 .8 7.3 .4 88.5 .6 162.5 .2M156.3 892.5l121.9 -.2 3.1 -.5 3.2 -1.6 6.2 -6.6 2.1 -1.4 1 -.2 2.1 .7 1.1 -.2 1 -4.6 1 -17.4 2.1 -73.2 1.1 -20.6 1 1.5 3.1 38.2 2.1 19.2 3.1 20.6 3.2 14.3 2 6.8 2.1 5.2 4.2 7 2.1 2.3 3.1 2.6 3.1 1.8 4.2 1.6 4.2 1.1 5.2 .7 4.1 0 3.1 -.7 3.2 -1.4 2.1 -1.5 9.3 -9.4 2.1 -1.3 2.1 -.6 2.1 .4 3.1 2 8.3 9.1 4.2 3.3 4.2 1.7 6.2 .9 44.8 .4 244.8 0M156.3 892.5l127.1 0 6.3 -.1 1 -.6 1 -4.2 1.1 -18.4 1 -50.5 2.1 -163.7 1.1 -31.8 1 17.7 2.1 78.4 2.1 58.4 1 20.2 2.1 27.8 1 9.3 2.1 13 3.1 11.8 2.1 5.4 3.1 5.9 2.1 2.7 3.1 2.7 4.2 2.2 6.3 1.9 26 4.7 22.9 2.5 29.2 1.8 41.6 1.3 55.2 .8 181.3 .7M156.3 892.5l133.4 -.1 1 -4.1 1 -36.2 1.1 -81.5 1 -33.1 2.1 53.3 2.1 40.3 1 13.1 2.1 16.5 1.1 4.5 1 2.7 1 1.2 1.1 .2 4.1 -2.5 2.1 -.3 2.1 1 8.3 6.2 4.2 1.8 3.1 .6 3.2 -.1 3.1 -.9 10.4 -4.6 3.1 -.4 2.1 .3 2.1 .8 3.1 2 10.4 9.7 6.3 4.2 3.1 1.3 4.2 1.1 10.4 1.1 28.1 1 45.8 .5 224 .4M156.3 892.5l129.2 0 3.1 -.1 1.1 -.4 1 -5.2 1 -31.1 2.1 -221M298.0 596.6l3.1 68.4 3.1 47.1 4.2 41.7 6.3 44.4 5.2 27.6 3.1 12.3 3.1 9.6 3.1 7.5 4.2 7.5 4.2 5.4 5.2 4.8 5.2 3.4 5.2 2.3 7.3 2.4 8.3 1.9 11.5 2 13.5 1.9 30.2 2.5 36.5 1.4 50 .9 178.1 .8M156.3 892.5l111.5 -.1 18.7 -1 1.1 -.2 1 -1.1 1.1 -6.1 1 -24.6 1 -63.5 2.1 -193.5M295.9 602.8l3.1 156.5 2.1 57.2 1.1 17.9 2 22.5 1.1 6.5 1 4 1.1 2.2 1 .5 1 -.8 2.1 -4.4 4.2 -11.5 2.1 -3.3 1 -.7 1.1 -.2 1 .3 2.1 1.6 8.3 8.7 7.3 6.2 8.3 5.7 8.4 4.5 9.3 3.9 10.5 3.1 12.5 2.7 13.5 1.9 14.6 1.4 17.7 1.1 47.9 1.4 72.9 .6 134.4 .2M156.3 892.5l126.1 -.3 5.2 -.9 2.1 -1.4 2 -2.8 1.1 -2.2 1 -8.6 1.1 -72.4 1 -202.7M300.1 595.3l2.1 74.8 2 56.7 2.1 43.2 3.1 44.4 3.2 27 2.1 11.7 2 8.4 2.1 6.1 2.1 4.5 3.1 4.6 3.2 2.9 3.1 1.9 3.1 1.2 9.4 1.5 97.9 4.7 45.8 1.3 54.2 .9 147.9 1.1M156.3 892.5l142.7 -.1 1.1 -3.8 1 -61.2 1.1 -162.8 1 -38.5 3.1 146.4 1.1 26.5 2 32.8 2.1 18.6 3.2 16.3 2 6.2 2.1 4 2.1 2.8 3.1 2.7 4.2 2.3 4.2 1.5 5.2 1.3 6.2 .8 72.9 2.7 88.5 1.2 183.4 .3M156.3 892.5l133.4 0 3.1 -.4 1 -2.5 1.1 -10.2 3.1 -102.1 1 -14.8 1.1 4.9 3.1 39.8 2.1 20.1 2.1 14 2 8.7 2.1 4.8 4.2 5.3 6.2 9.5 3.2 3.9 3.1 2.9 3.1 2.2 7.3 3.3 9.4 2.3 11.4 1.3 59.4 3.8 33.3 1.5 82.3 1.3 154.2 .4M156.3 892.5l115.7 -.2 15.6 -1.1 4.1 -1.3 2.1 -1.6 1.1 -2.1 1 -7.3 1.1 -22.3 3.1 -177 1 -21.9 1.1 12.3 4.1 100.6 2.1 31.8 3.1 31.1 3.2 18.5 3.1 11 2.1 4.7 2 3.4 3.2 3.5 3.1 2.3 4.2 2 6.2 2 8.3 1.7 10.5 1.5 25 2.4 34.3 1.9 47.9 1.6 58.4 1.1 165.6 1.1M156.3 892.5l119.8 -.1 3.1 -.4 2.1 -.9 2.1 -1.7 2.1 -3 2.1 -4.4 3.1 -8.8 1 -4.7 1.1 -12.4 1 -33.7 2.1 -134.9 1.1 -42.8 1 -2.4 5.2 112.3 3.1 44.2 3.1 29 2.1 13.6 2.1 10.3 2.1 7.9 2.1 6.1 2.1 4.7 3.1 5.3 3.1 3.7 4.2 3.3 5.2 2.6 6.2 1.8 9.4 1.3 10.4 .6 9.4 -.8 4.2 -1 10.4 -3.4 3.1 -.6 3.1 -.1 5.2 1 10.4 4.1 5.3 1.6 6.2 .9 7.3 .4 262.5 1.1M156.3 892.5l138.6 0 6.2 -.5 2.1 -1.1 1 -1.1 2.1 -4 1.1 -3.1 2 -9 6.3 -35.2 2.1 -5.7 1 -.9 1.1 .4 2 3.6 8.4 23.8 3.1 6.8 4.2 6.9 4.1 5 5.2 4.3 6.3 3.1 6.2 1.7 6.3 .6 7.3 -.1 30.2 -4.3 8.3 -.6 9.4 -.2 13.5 .6 53.1 3.8 48 2.1 65.6 1.6 87.5 .9M156.3 892.5l117.7 -.1 19.8 -.9 4.2 -.5 3.1 -1 2.1 -2 1 -1.8 2.1 -6.1 3.1 -17.3 5.3 -37.6 2 -8.9 1.1 -2.3 1 -.9 1.1 .1 2 2.6 8.4 17.1 6.2 10.4 7.3 9.1 7.3 7 9.4 6.7 11.4 6 12.5 4.6 13.6 3.5 15.6 2.7 18.7 2.1 23 1.6 29.1 1.4 85.4 2.3 118.8 1.4M156.3 892.5l124 0 6.2 -.6 2.1 -1.3 1.1 -1.2 2 -4.3 2.1 -7.3 4.2 -19.9 2.1 -8.2 2.1 -4.6 1 -1 1 -.2 1.1 .3 2.1 1.9 8.3 10.1 6.2 6.4 6.3 5.3 7.3 4.9 8.3 4.4 8.3 3.3 9.4 2.5 9.4 1.5 51 4.1 44.8 1.8 82.3 1.1 139.6 .7M156.3 892.5l143.8 0 5.2 -.5 2.1 -1.4 1 -1.6 2.1 -6.4 2.1 -12.2 5.2 -42.6 1 -5.5 1.1 -3.5 1 -1.6 1 .2 1.1 1.5 10.4 28.4 4.2 8.8 4.1 7 5.2 6.9 6.3 6 6.2 4 5.2 1.7 3.2 .4 3.1 -.2 13.5 -3.5 5.2 -.1 3.2 .7 3.1 1.3 11.4 6.7 6.3 2.8 7.3 1.6 9.4 .7 45.8 .4 212.5 0M156.3 892.5l145.9 0 4.1 -.3 1.1 -.6 1 -1.4 1 -2.6 1.1 -4.6 2.1 -16.8 3.1 -34.4 1 -8.1 1.1 -4.9 1 -1.7 1.1 .7 1 2.3 6.3 19.5 4.1 10.5 5.2 10.3 5.2 7.8 6.3 6.8 7.3 5.7 8.3 4.2 9.4 2.9 6.2 .7 5.2 -.4 5.2 -1.5 11.5 -4.9 4.2 -.8 4.1 -.2 50 5.2 26.1 1.7 29.1 1.4 72.9 2 101.1 1.1M156.3 892.5l132.3 0 11.5 -.5 2.1 -.3 2 -.9 2.1 -2.5 1.1 -2.6 2 -9.6 2.1 -16.7 4.2 -41.6 2.1 -11.8 1 -2 1.1 .2 2 5.2 5.3 20.3 4.1 13.2 4.2 10.1 5.2 9.3 6.2 8 7.3 6.3 8.4 4.5 10.4 3.4 12.5 2.3 16.6 1.7 23 1.3 31.2 1 85.4 1.2 146.9 .4M156.3 892.5l138.6 0 4.1 -.1 2.1 -.5 2.1 -1.4 1 -1.4 2.1 -4.9 2.1 -8.8 6.3 -37.9 2 -7 1.1 -1.4 1 -.3 1.1 .7 1 1.4 7.3 14.3 4.2 5.6 2 1.7 2.1 1 2.1 .5 7.3 .4 2.1 .7 2.1 1.3 4.1 4.4 7.3 10.5 4.2 5.1 4.2 3.2 5.2 1.9 4.1 .4 17.7 .4 47.9 3.5 54.2 2.1 84.4 2 105.2 1.3M156.3 892.5l130.2 0 5.2 -.4 2.1 -1.1 1.1 -1.2 2.1 -4.7 2 -8.8 5.2 -30.7 1.1 -4 1 -2.4 1.1 -1 1 .3 2.1 3.5 5.2 13.1 4.2 8.8 3.1 5.2 4.2 5.5 5.2 5 6.2 4.1 6.3 2.6 7.2 1.7 5.3 .4 6.2 .1 24 -1.9 12.5 -.3 61.4 3 52.1 1.5 71.8 1 103.2 .5M156.3 892.5l138.6 0 5.2 -.4 2.1 -1.7 2 -5.5 2.1 -12.5 5.2 -44.9 1.1 -4.7 1 -2.4 1.1 -.4 1 1 1 1.9 8.4 19.4 6.2 11.2 7.3 10 4.2 4.5 4.1 3.6 6.3 3.7 3.1 .9 3.1 .2 5.2 -1.5 7.3 -4.3 3.2 -1.3 3.1 -.4 2.1 .4 2.1 1 3.1 2.4 9.4 9.9 4.1 3.5 5.2 2.8 5.2 1.5 6.3 .7 9.4 .5 37.4 .7 226.1 .2M156.3 892.5l134.4 0 4.2 -.1 2.1 -.5 2 -1.6 1.1 -1.7 2.1 -6.8 2 -12.4 5.2 -41.4 1.1 -5.1 1 -3 1.1 -1.1 1 .6 1.1 1.9 6.2 19 4.2 10.7 4.1 8.2 4.2 6.1 5.2 5.5 6.3 4.2 6.2 2.6 9.4 2.4 21.9 3.5 20.8 2.5 25 1.9 32.3 1.5 39.5 1.2 49 .8 139.6 .9M156.3 892.5l135.4 0 3.2 -.2 2.1 -.6 2 -2.5 1.1 -2.6 2.1 -10.1 2 -17.6 4.2 -42.8 1 -7 1.1 -4.3 1 -1.7 1.1 .5 2.1 5.6 5.2 20.9 4.1 13.9 3.2 8.4 4.1 9 5.2 8.4 5.2 6.1 6.3 5.1 3.1 1.7 3.1 1.1 5.2 .5 9.4 -1.1 5.2 -.1 19.8 1.7 17.7 1 75 1.9 93.7 1.6 108.4 1.2M156.3 892.5l127.1 -.1 13.6 -.3 2 -.3 2.1 -.7 2.1 -2.3 1 -2.2 2.1 -7.9 2.1 -13.4 5.2 -41 1.1 -4.8 1 -2.8 1 -.9 1.1 .8 2.1 4.9 5.2 17.4 3.1 8.8 3.1 7 4.2 7.1 5.2 6.2 5.2 4.1 6.2 3.1 8.4 2.3 16.6 2.3 40.7 4.3 29.1 2.2 34.4 1.9 39.6 1.4 46.8 1.1 120.9 1.3M156.3 892.5l127.1 0 4.2 -.2 3.1 -.9 2.1 -2 1 -1.7 2.1 -6 1.1 -4.5 2 -12.1 5.2 -38.6 2.1 -10.4 1.1 -2.9 1 -1.4 1 .1 2.1 3.6 7.3 23.8 4.2 11.1 3.1 6.4 4.2 6.5 5.2 5.6 3.1 2.5 4.2 2.6 8.3 3.4 10.4 2.7 13.6 2.2 15.6 1.4 56.2 2.5 108.3 2.7 133.4 1.8M156.3 892.5l133.4 0 5.2 -.4 2.1 -1.2 1 -1.4 2.1 -5.4 2.1 -9.9 5.2 -31.7 1 -3.7 1 -2.1 1.1 -.7 1 .5 1.1 1.3 7.3 14.7 5.2 8.8 5.2 6.7 6.2 5.8 6.3 4 8.3 3.5 12.5 3.5 12.5 2.3 11.5 1.3 13.5 1 41.7 1.2 95.8 .9 150 .6M156.3 892.5l129.2 0 3.1 -.1 2.1 -.6 1 -.9 1.1 -1.8 2.1 -8.2 5.2 -44.3 1 -6.2 1.1 -3.5 1 -.8 1 1.2 1.1 2.7 4.1 14.1 3.2 9 3.1 6.9 4.2 6.7 4.1 4.5 4.2 2.8 5.2 2.1 7.3 1.5 26 4.1 18.8 2.1 30.2 2.2 38.5 1.9 44.8 1.5 52.1 1.2 137.5 1.3M156.3 892.5l138.6 0 2.1 -.3 1 -1 1 -3.5 1.1 -9.3 1 -18.7 3.1 -98.4 1.1 -21.9 1 -8.9 1.1 1 1 6.1 5.2 37.7 4.2 24 5.2 23.2 5.2 17.4 3.1 8.3 3.1 6.9 3.2 5.9 4.1 6.3 4.2 4.9 4.2 3.8 4.1 2.9 5.2 2.6 7.3 2.2 9.4 1.2 31.2 .7 68.8 2.8 91.6 2 120.9 1.2M156.3 892.5l140.7 0 2 -.4 1.1 -2.4 1 -9.3 1.1 -23.9 2 -79.1 1.1 -24 1 -5.3 1.1 5.3 5.2 39.1 3.1 18.3 4.2 19.3 4.1 14.8 5.2 13.6 3.2 6.2 3.1 5.1 3.1 4.2 4.2 4.3 4.1 3.1 4.2 2.1 6.3 1.5 22.9 2.7 12.5 .9 17.7 .6 106.2 1.3 171.9 1M156.3 892.5l132.3 0 2.1 -.6 1 -3 1.1 -12 1 -30.4 2.1 -98.7 1.1 -30 1 -7.6 1 4.7 6.3 47.9 4.1 25 5.3 24.6 6.2 21.9 3.1 8.7 4.2 9.5 3.1 5.9 4.2 6.6 4.2 5.3 5.2 5.1 5.2 4 5.2 2.9 4.1 1.8 5.2 1.5 9.4 1.1 8.4 -.3 19.7 -2.5 11.5 -.4 60.4 3.4 55.2 2.1 70.8 1.5 88.6 1.1M156.3 892.5l125 0 9.4 -.2 1 -.1 1.1 -.7 1 -3.5 1.1 -12.9 3.1 -117.6 1 -23.9 1.1 -5.2 1 4.4 6.3 39.3 4.1 20.5 6.3 23.8 6.2 17.4 3.2 6.8 4.1 7.7 4.2 6.4 5.2 6.5 5.2 5.2 5.2 4.2 6.3 3.9 6.2 3 11.5 3.8 13.5 2.7 16.7 1.8 21.8 1.2 35.4 1 59.4 1.1 166.7 1.7M156.3 892.5l135.4 0 4.2 -.5 1.1 -1.1 1 -2.8 1 -5.7 2.1 -24.9 3.1 -52.4 1.1 -9.6 1 -3.3 1.1 1.5 1 4.6 4.2 23.6 4.1 18.6 4.2 13.7 4.2 10.1 5.2 9 3.1 4 3.1 3.1 3.2 2.5 4.1 2.5 8.3 3.2 9.4 1.7 10.4 .5 29.2 -.4 106.2 1.6 181.3 .5M156.3 892.5l128.2 0 3.1 -.2 1 -.4 1.1 -1.6 1 -4.2 1 -9.5 1.1 -17.9 4.2 -124.5 1 -16.7 1 -5.7 1.1 2.3 1 6.5 5.2 40 5.2 31.5 5.2 23.8 3.2 11.4 3.1 9.7 3.1 8.1 4.2 9 3.1 5.5 4.2 6 4.1 4.8 5.2 4.7 5.2 3.6 5.3 2.7 10.4 3.7 12.5 2.6 15.6 1.7 19.8 1 84.3 1.1 188.6 .7M156.3 892.5l137.5 0 2.1 -.1 1.1 -.7 1 -2.8 1 -8.7 1.1 -20.5 4.1 -169.5 1.1 -16.9 1 -2.4 1.1 5.2 6.2 47.5 5.2 32.2 6.3 30.6 6.2 23.6 3.1 9.7 4.2 11 4.2 9.2 4.1 7.5 4.2 6.1 5.2 6 5.2 4.5 5.2 3.5 7.3 3.7 8.4 3.4 10.4 3.5 10.4 2.9 19.8 3.7 25 2.6 35.4 1.9 50 1.4 66.6 1 88.6 .5M156.3 892.5l129.2 0 3.1 -.2 1.1 -.6 1 -2 1 -5.4 1.1 -11.5 1 -20 3.2 -86.1 1 -17.9 1 -7.5 1.1 .3 1 4.8 6.3 38.3 5.2 24.6 5.2 18.8 6.2 16.6 3.2 6.5 4.1 7.1 4.2 5.6 4.2 4.7 4.1 3.7 5.2 3.8 5.2 2.9 6.3 2.8 10.4 3.1 13.5 2.5 16.7 1.5 21.9 1 93.7 1.4 171.9 .9M156.3 892.5l140.7 -.2 1 -1.4 1 -5.8 1.1 -15.2 2.1 -52.1 1 -16.9 1 -5.2 1.1 1.3 6.2 20.5 6.3 16.4 6.2 12.8 6.3 10 4.1 5.4 4.2 4.5 8.3 6.9 4.2 2.6 5.2 2.6 10.4 3.6 10.4 1.9 14.6 1.5 41.7 2.7 34.4 1.5 85.4 1.6 135.4 .7M156.3 892.5l137.5 0 2.1 -.3 1.1 -1.2 1 -4.5 1 -12.6 1.1 -26.7 3.1 -134.9 1 -24.4 1.1 -5.6 1 6.4 4.2 47.7 4.2 38.5 4.1 29 5.2 26.4 3.2 11.9 3.1 9.6 3.1 7.7 3.1 6.3 3.2 5 4.1 5.2 4.2 3.9 5.2 3.4 5.2 2.3 5.2 1.5 6.3 1 8.3 .5 51 -.8 128.1 1.8 131.3 1.2M156.3 892.5l135.4 0 2.1 -.3 1.1 -1.8 1 -9.3 1.1 -28.4 2 -116.1 1.1 -41.3 1 -11.1 1.1 7.2 5.2 60 3.1 27.7 4.2 28.5 4.1 21.4 5.2 19.2 3.2 8.6 3.1 6.8 3.1 5.5 4.2 5.6 4.1 4 5.2 3.5 4.2 1.9 4.2 1.2 5.2 .9 5.2 .3 8.3 -.1 22.9 -1.3 13.6 -.1 69.8 3.3 51 1.6 68.7 1.2 88.6 .8M156.3 892.5l134.4 0 2.1 -.1 1 -.6 1.1 -2.2 1 -6.3 1.1 -15 1 -27.2 3.1 -117.1 1.1 -21 1 -6.1 1 4 5.2 47.7 4.2 31.2 5.2 29.6 5.2 21.8 3.2 10.2 3.1 8.4 3.1 7 3.1 5.7 4.2 6.2 4.2 4.6 4.1 3.5 5.2 3.2 8.4 3 11.4 1.8 76 3.4 100 2.4 138.6 1.3M156.3 892.5l138.6 0 2.1 -.3 1 -1 1 -3.1 1.1 -7.6 1 -15.3 4.2 -110.6 1 -13.5 1.1 -3.8 1 2.5 6.3 36.2 5.2 24.6 6.2 22.5 6.3 16.5 3.1 6.6 4.2 7.3 4.1 6.1 5.2 6.2 5.2 5 5.2 4.1 6.3 3.8 6.2 2.8 10.5 3.4 13.5 2.5 15.6 1.6 20.8 1.1 71.9 1 184.4 .8M156.3 892.5l137.5 0 3.2 -.3 1 -1.2 1 -3.9 1.1 -10.1 3.1 -72.4 1 -19.1 1.1 -8.2 1 .1 1.1 4.4 5.2 27 5.2 20.7 5.2 15.5 5.2 11.6 6.2 10 3.2 3.9 4.1 4.1 4.2 3.2 4.2 2.6 5.2 2.4 5.2 1.8 10.4 2.5 12.5 1.6 15.6 1.2 20.8 .7 92.7 1 176.1 .6M156.3 892.5l136.5 0 2.1 -.1 1 -.5 1.1 -1.7 1 -4.6 1 -10.2 1.1 -18.6 3.1 -86.5 1 -18.9 1.1 -7.4 1 1.9 1.1 7.4 4.1 37.5 3.2 22.3 4.1 22.3 4.2 16.1 5.2 13.8 3.1 6 3.1 4.6 3.2 3.7 4.1 3.6 4.2 2.6 4.2 1.9 5.2 1.6 5.2 1 12.5 .9 36.4 -.9 108.3 1.6 170.9 .5M156.3 892.5l119.8 0 8.4 -.6 2 -.8 2.1 -1.5 3.1 -4.4 3.2 -7.5 6.2 -20.3 2.1 -5.5 2.1 -3.7 1 -1.2 2.1 -1 2.1 .5 2.1 1.5 11.4 12.1 7.3 6.4 7.3 5.1 7.3 4.1 9.4 4.2 11.4 3.6 12.5 2.9 13.6 2 13.5 1.4 16.7 1.1 42.7 1.1 63.5 .4 159.4 .1M156.3 892.5l121.9 0 7.3 -.5 3.1 -1.6 3.1 -4.3 3.2 -8.2 7.3 -25.9 2 -4.3 1.1 -1.3 2.1 -.8 1 .3 2.1 1.6 9.4 11.2 5.2 5.4 5.2 4.5 5.2 3.9 7.3 4.3 8.3 3.8 8.3 2.9 7.3 1.6 5.2 .1 5.2 -1.5 4.2 -2.7 9.4 -8.2 2.1 -1 2.1 -.5 2 .3 3.2 1.6 10.4 10.2 4.1 3.1 3.2 1.5 3.1 .9 7.3 1 29.1 1 47.9 .7 183.4 .7M156.3 892.5l129.2 0 5.2 -.2 3.1 -.6 3.2 -1.7 3.1 -3.8 3.1 -6.7 8.3 -24 3.2 -5.1 1 -.9 2.1 -.8 2.1 .3 2 .9 13.6 8.7 10.4 5.6 10.4 4.5 10.4 3.7 13.6 3.9 16.6 3.7 17.7 3.2 18.8 2.5 17.7 1.8 19.8 1.5 48.9 2 64.6 1 104.2 .4M156.3 892.5l132.3 0 4.2 -.2 2.1 -.6 2.1 -1.7 1 -1.6 2.1 -5.3 2.1 -8.6 5.2 -28.2 2 -7.9 2.1 -4 1.1 -.7 1 -.1 3.1 2.1 10.5 10.8 9.3 8.1 10.4 7.3 8.4 4.2 7.3 1.9 12.5 .8 6.2 .9 30.2 8.7 12.5 2.8 12.5 2.2 17.7 2.4 19.8 1.9 21.9 1.4 26 1.2 64.6 1.4 102.1 .6M156.3 892.5l131.3 -.2 3.1 -.8 3.1 -2 3.2 -3.8 7.2 -11.7 3.2 -2.6 3.1 -.7 3.1 .4 21.9 5.7 17.7 2.9 73.9 6.4 28.2 1.9 39.5 1.8 49 1.2 61.4 .8 83.4 .4M156.3 892.5l137.5 0 8.4 -.3 4.1 -1 3.1 -1.8 3.2 -3.2 6.2 -8.6 3.1 -3.4 3.2 -1.9 3.1 -.4 4.2 .7 17.7 5.1 5.2 1.1 5.2 .5 7.3 -.7 13.5 -4.8 3.1 -.6 3.2 .1 5.2 1.7 12.5 7.9 7.3 3.3 9.3 2 14.6 1.1 37.5 1.6 47.9 .9 166.7 .7M156.3 892.5l125 0 8.4 -.4 4.1 -1.5 3.2 -2.9 2 -3 6.3 -11.3 3.1 -3.8 2.1 -1.3 2.1 -.3 7.3 .8 3.1 -.5 3.1 -1.7 7.3 -6.7 3.1 -1.3 2.1 .4 2.1 1.5 9.4 12 3.1 2.8 4.2 2.2 6.2 1.7 11.5 2 27 3.3 38.6 2.5 52.1 1.7 80.1 1.3 115.7 1M156.3 892.5l142.7 -.3 3.2 -1 3.1 -3.4 2.1 -4.1 6.2 -16.7 2.1 -3.5 1 -.9 2.1 -.6 3.1 1.5 8.4 6.6 5.2 3.5 11.4 5.9 7.3 2.8 8.4 2.4 8.3 1.8 8.3 1 9.4 .4 22.9 -.8 43.8 1.5 45.8 .9 187.5 1.6M156.3 892.5l131.3 0 5.2 -.3 2.1 -1.1 2.1 -4 2 -8.8 3.2 -19.6 2 -10 1.1 -2.7 1 -1.2 1.1 -.1 2 1.9 6.3 8.2 6.2 6.9 5.3 4.8 6.2 4.8 7.3 4.5 7.3 3.5 8.3 3.1 7.3 1.7 5.2 .2 10.4 -1.1 5.2 -.1 25 2.6 19.8 1.5 26.1 1.2 34.3 1 83.3 1.4 115.7 .9M156.3 892.5l130.2 0 4.2 -.1 2.1 -.5 2.1 -1.5 1 -1.4 2.1 -5.1 2.1 -8.6 6.2 -33.9 2.1 -5.9 1 -1.4 1.1 -.5 1 0 2.1 1.3 10.4 10.5 8.4 7.3 6.2 4.7 7.3 4.8 9.4 5.1 8.3 3.8 8.3 2.8 8.4 1.8 26 2.6 29.2 4.8 17.7 2.3 20.8 2 24 1.6 32.2 1.3 40.7 1 117.7 .9M156.3 892.5l132.3 0 6.3 -.4 3.1 -1.7 2.1 -3.1 2.1 -5.3 6.2 -22.2 2.1 -4.6 1 -1.4 2.1 -1.1 3.1 .7 16.7 8.7 15.6 6.6 15.6 5 14.6 3.3 6.3 .5 4.1 -.9 4.2 -2.8 6.3 -6.2 2 -1.1 2.1 0 3.1 2.2 8.4 10.3 4.1 3 6.3 1.8 13.5 1.7 39.6 3.1 50 2.1 64.6 1.1 94.8 .5M156.3 892.5l129.2 0 3.1 -.1 2.1 -.5 2.1 -2.2 2.1 -5.8 2.1 -11.2 3.1 -21.2 2.1 -9.8 1 -2.5 1 -1.1 1.1 0 2.1 1.8 6.2 8 5.2 5.8 5.2 4.6 4.2 2.7 3.1 1.4 3.1 .7 11.5 .5 4.2 .9 5.2 2.7 11.4 8.8 7.3 4.2 9.4 3.1 16.7 3 15.6 1.8 18.7 1.5 46.9 1.8 70.8 .8 136.5 .3M156.3 892.5l130.2 0 6.3 -.2 3.1 -.5 2.1 -.8 2.1 -1.5 3.1 -4.1 3.1 -6.8 6.3 -18.1 2.1 -4.8 2 -3.2 1.1 -1 2.1 -.8 2 .6 2.1 1.4 9.4 9.2 6.3 4.9 6.2 3.7 7.3 3.2 13.5 3.9 5.2 .9 3.2 0 3.1 -.9 2.1 -1.2 7.3 -6.3 2 -.7 1.1 .1 3.1 1.8 6.3 7.5 3.1 2.9 4.1 2.2 6.3 1.2 34.4 2.3 53.1 1.8 81.2 1.4 106.3 .9M156.3 892.5l145.9 0 7.2 -.4 3.2 -1.3 3.1 -3.8 2.1 -4.5 5.2 -15.2 2.1 -4.9 2.1 -3.1 1 -.8 2.1 -.5 3.1 1.2 14.6 8.9 4.1 2.1 4.2 1.4 3.1 .4 2.1 -.3 8.4 -3.3 3.1 -.1 3.1 1.4 8.3 6.8 5.2 2.2 36.5 5.9 21.9 2.6 35.4 2.5 45.8 1.5 62.5 .8 96.9 .4M156.3 892.5l145.9 0 3.1 -.1 2.1 -.5 1 -.8 1 -1.5 2.1 -7 6.3 -43.1 1 -3.7 1.1 -2 1 -.6 2.1 1 10.4 10.6 9.4 7.9 8.3 5.8 9.4 5.1 14.6 5.9 19.8 6.6 15.6 4 16.6 3.2 17.7 2.4 19.8 1.9 21.9 1.5 26 1.1 66.7 1.4 109.4 .6M156.3 892.5l134.4 0 4.2 -.3 1 -.5 1.1 -1.1 1 -2.4 1 -4 5.2 -39.4 1.1 -4.9 1 -2.5 1.1 -.7 2 1.8 7.3 10.7 7.3 8.6 7.3 6.6 8.4 5.6 8.3 3.8 9.4 3 11.4 2.4 18.8 2.9 19.7 2.5 18.8 1.8 21.9 1.3 28.1 1.1 85.4 1.8 127.1 1.1M156.3 892.5l150 -.2 2.1 -.6 1 -.8 2.1 -3.1 6.3 -19.7 2.1 -3.5 1 -.6 1 0 2.1 1 11.5 8 9.4 4.7 11.4 3.9 6.3 1.2 6.2 .8 8.3 .3 19.8 -.4 10.4 .3 57.3 4.2 55.2 2.2 69.8 1.3 99 .7M156.3 892.5l119.8 0 8.4 -.4 2 -.6 2.1 -1.2 3.1 -3.7 3.2 -6.2 6.2 -14.8 2.1 -3.2 1 -1 2.1 -.9 2.1 .4 2.1 1.1 9.4 7.3 7.3 4.6 6.2 3 7.3 2.4 6.2 1.5 8.4 1.3 46.8 4.9 37.5 2.1 53.2 1.4 81.2 1 114.6 .6M156.3 892.5l122.9 0 5.3 -.1 3.1 -.6 2.1 -1.5 1 -1.5 2.1 -5 2.1 -8.2 5.2 -24.7 2.1 -5.3 1 -1.2 1 -.5 2.1 .7 9.4 8.6 9.4 6.8 13.5 7.9 12.5 6 7.3 2.1 3.1 0 2.1 -.5 4.2 -2.4 8.3 -7 2.1 -.8 2.1 0 2.1 1 2 1.8 8.4 10.8 4.1 4.1 5.2 2.8 8.4 1.7 14.6 1.3 19.7 1.2 49 1.4 71.9 .7 122.9 .3M156.3 892.5l144.8 0 4.2 -.1 2.1 -.5 2 -2.1 2.1 -6 2.1 -11.6 4.2 -28.9 2.1 -7.7 1 -1.5 1 -.5 2.1 .8 6.3 4.6 4.1 1.8 4.2 .7 8.3 -.1 4.2 1.4 4.2 3 8.3 8.8 4.2 3.8 4.1 2.8 4.2 1.9 6.3 2 41.6 10.9 14.6 3.2 14.6 2.6 17.7 2.5 19.8 2 22.9 1.7 25 1.4 61.4 1.7 88.6 1M156.3 892.5l119.8 0 8.4 -.5 3.1 -1.1 3.1 -2.8 3.1 -4.9 5.2 -10.4 2.1 -3.2 2.1 -2.1 1 -.6 2.1 -.3 3.1 .9 10.5 5.9 6.2 2.9 7.3 2.7 7.3 1.9 11.4 2 29.2 3.5 29.2 2.7 35.4 1.7 48.9 1 193.8 .7M156.3 892.5l119.8 0 5.2 -.2 3.2 -.6 3.1 -1.7 3.1 -4 3.1 -7.1 6.3 -19.8 2.1 -5.4 3.1 -5 1 -.8 2.1 -.4 2.1 .6 2.1 1.4 10.4 8.4 9.4 6.3 9.3 5.2 10.4 4.6 11.5 4.1 12.5 3.4 14.6 2.9 15.6 2.2 15.6 1.6 18.8 1.2 47.9 1.6 69.8 .8 130.2 .4M156.3 892.5l131.3 0 1 -.1 1.1 -.6 1 -4.9 1 -21.6 2.1 -115.3 1.1 -35.3 1 5.3 3.1 71.4 2.1 32.6 3.1 30.1 2.1 11.7 1.1 -1.1 1 -35.9 2.1 -224 1 59.4 1.1 138.1 1 67.7 1.1 13.8 1 1.8 3.1 1.1 3.1 -.1 4.2 -.9 13.6 -4.2 5.2 -.8 5.2 -.2 8.3 .7 29.2 3.8 18.7 1.9 27.1 1.9 31.2 1.4 37.5 1 45.8 .6 140.7 .6M156.3 892.5l131.3 0 1 -.1 1.1 -.6 1 -4.9 1 -21.6 2.1 -115.3 1.1 -35.3 1 5.3 3.1 71.4 3.2 44.7 3.1 24.6 2.1 9.9 2 5.9 1.1 -4 1 -32 2.1 -179.6 1.1 16.2 2 180.4 1.1 24.7 1 4.1 2.1 .4 3.1 -.5 11.5 -3.7 5.2 -1.3 4.2 -.5 5.2 -.2 8.3 .7 29.2 3.8 18.7 1.9 27.1 1.9 31.2 1.4 37.5 1 45.8 .6 140.7 .6M156.3 892.5l130.2 0 2.1 -.1 1.1 -.6 1 -4.9 1 -21.6 2.1 -115.4 1.1 -35.2 1 5.3 3.1 71.3 3.2 44.7 3.1 24.5 2.1 8.8 1 1 1 -3.9 1.1 -12.6 1 -25.8 3.2 -135.6 1 -24.4 1 7 4.2 170.4 1 22 1.1 10.8 1 4.4 1.1 1.3 2.1 -.2 8.3 -3.6 5.2 -1.7 4.2 -.7 5.2 -.2 8.3 .9 29.2 4.8 18.7 2.3 27.1 2.3 31.2 1.8 37.5 1.2 45.8 .9 140.7 .7M156.3 892.5l129.2 0 5.2 -.4 1 -2.9 1.1 -15.2 3.1 -154 1.1 -4.6 4.1 89.1 2.1 28.2 3.1 25.4 1.1 4.7 1 2.3 1 -1.1 1.1 -5.7 2.1 -30.6 3.1 -73.8 1 -13.8 1.1 -.7 1 12.9 3.1 76.6 2.1 36.3 1.1 9.3 1 4.9 1.1 2.3 1 .7 2.1 -.2 10.4 -3.8 4.2 -.7 5.2 -.2 8.3 .9 29.2 4.8 18.7 2.3 27.1 2.3 31.2 1.8 37.5 1.2 45.8 .9 140.7 .7M156.3 892.5l129.2 0 5.2 -.4 1 -2.9 1.1 -15.2 3.1 -154 1.1 -4.6 4.1 89.1 3.1 38.7 2.1 15.5 2.1 10.3 3.1 9 1.1 1.5 1 .7 1.1 -.6 1 -2.2 1 -4.5 1.1 -7.6 2.1 -25.9 3.1 -52.9 1 -12.6 1.1 -6.1 1 1.7 1.1 8.9 5.2 78.2 2 15.3 1.1 3.6 1 1.9 1.1 .9 2.1 .2 7.2 -.9 6.3 .1 32.3 5.2 22.9 2.8 29.2 2.4 33.3 1.7 36.4 1.2 44.8 .7 136.5 .7M156.3 892.5l132.3 0 2.1 -.1 1 -.7 1.1 -3.8 1 -13.5 3.2 -116.3 1 -15.9 1 8 2.1 38.7 2.1 30.3 1 10.6 2.1 14.3 2.1 7.8 2.1 3.8 2.1 1.9 8.3 6 4.2 2.5 3.1 .9 4.2 -.1 3.1 -1.2 3.1 -2.4 3.1 -4 2.1 -3.9 6.3 -14.5 3.1 -5.9 2.1 -2.5 1 -.8 2.1 -.5 2.1 .4 2.1 1.1 12.5 10.4 8.3 6.3 10.4 7.1 10.4 6.3 13.6 7.3 8.3 4 7.3 2.6 8.3 1.8 15.6 2.3 18.8 1.8 77.1 4.6 71.8 2.9 63.6 .9M156.3 892.5l132.3 0 2.1 -.1 1 -.7 1.1 -3.8 1 -13.5 3.2 -116.4 1 -16 1 7.9 2.1 38.4 2.1 29.7 1 10.2 2.1 13.3 2.1 6.6 2.1 2.6 5.2 2.3 7.3 5.5 3.1 1.7 2.1 .6 3.1 .1 5.2 -1.5 5.2 -3.5 9.4 -9.2 3.1 -1.7 2.1 -.3 2.1 .5 3.1 1.6 10.4 8.2 7.3 4.7 29.2 15.4 6.2 2.8 5.2 1.7 12.5 2.4 16.7 1.9 18.8 1.5 56.2 2.4 86.4 2.4 78.2 .8M156.3 892.5l132.3 0 2.1 -.1 1 -.7 1.1 -3.8 1 -13.4 3.2 -116 1 -15.6 1 8.3 4.2 72.7 2.1 22.2 2.1 15 3.1 14 3.1 7.7 2.1 3.1 2.1 2.2 4.1 2.3 3.2 .7 3.1 .1 5.2 -1.3 4.2 -2.5 11.4 -9.3 4.2 -2 4.2 -1 6.2 -.5 30.2 -.4 7.3 -.9 14.6 -3 6.2 -.4 6.3 .8 14.6 4.6 8.3 1.7 11.4 .5 19.8 -.3 6.3 -.8 6.2 -2.1 5.2 -2.7 9.4 -5.7 5.2 -2.5 5.2 -1.6 5.2 -.5 6.3 .2 8.3 1.2 36.5 7.7 27 4.2 51.1 6.7 21.9 2.4 12.5 1M156.3 892.5l132.3 0 2.1 -.1 1 -.7 1.1 -3.8 1 -13.4 3.2 -116 1 -15.6 1 8.3 4.2 72.7 2.1 22.2 2.1 15 3.1 14 3.1 7.7 2.1 3.1 2.1 2.2 4.1 2.3 5.3 .9 3.1 -.2 3.1 -.8 4.2 -2 11.4 -7.5 4.2 -1.5 5.2 -.7 73.9 1.8 42.7 .1 11.5 -.6 5.2 -.9 5.2 -1.7 16.7 -8.8 5.2 -2.1 6.2 -1.6 6.3 -.4 7.3 .3 10.4 1.3 32.3 5.4 54.1 8 43.8 6.9 9.4 1.2M156.3 892.5l132.3 0 2.1 -.1 1 -.7 1.1 -3.8 1 -13.4 3.2 -116 1 -15.6 1 8.3 4.2 72.7 2.1 22.2 2.1 15 3.1 14 3.1 7.7 2.1 3.1 2.1 2.2 4.1 2.3 5.3 1 5.2 -.4 5.2 -1.9 11.4 -5.7 4.2 -1.1 4.2 -.5 63.5 1.6 32.3 .1 11.4 -.7 6.3 -1.1 6.2 -1.8 19.8 -7.9 8.3 -2.7 8.4 -1.5 8.3 -.5 11.5 .4 14.5 1 34.4 3.9 49 6.6 48.9 8.5 8.4 1.2"/>
<rect x="127.3" y="577.5" width="588.7" height="4.8" fill="#000"/>
<rect x="711.0" y="577.5" width="5.0" height="331.9" fill="#000"/>
<rect x="127.3" y="577.5" width="6.8" height="331.9" fill="#000"/>
<rect x="127.3" y="902.7" width="588.7" height="6.7" fill="#000"/>
<text transform="translate(9.70 568.70) scale(1.0232 1)" x="-2.21" y="0" font-size="56.70" font-weight="bold" fill="#000">c</text>
<path fill="#000" d="M363.2 522.0H374.7V525.7H371.1V552.2H374.7V555.9H363.2V552.2H366.8V525.7H363.2Z"/>
<text transform="translate(380.10 555.90) scale(0.9815 1)" x="-4.01" y="0" font-size="48.90" fill="#000">PMN</text>
<text transform="translate(69.00 903.80) scale(0.9123 1)" x="-1.29" y="0" font-size="33.00" fill="#000">0.0</text>
<text transform="translate(69.00 828.95) scale(0.9223 1)" x="-1.66" y="0" font-size="33.00" fill="#000">2.5</text>
<text transform="translate(69.00 753.10) scale(0.9130 1)" x="-1.32" y="0" font-size="33.00" fill="#000">5.0</text>
<text transform="translate(69.00 678.25) scale(0.9230 1)" x="-1.69" y="0" font-size="33.00" fill="#000">7.5</text>
<text transform="translate(52.50 604.40) scale(0.9268 1)" x="-2.51" y="0" font-size="33.00" fill="#000">10.0</text>
<text transform="translate(143.10 949.50) scale(1.0280 1)" x="-1.47" y="0" font-size="33.00" fill="#000">-1</text>
<text transform="translate(281.40 949.50) scale(1.0143 1)" x="-1.29" y="0" font-size="33.00" fill="#000">0</text>
<text transform="translate(415.50 949.50) scale(1.0051 1)" x="-2.51" y="0" font-size="33.00" fill="#000">1</text>
<text transform="translate(548.20 949.50) scale(0.9645 1)" x="-1.66" y="0" font-size="33.00" fill="#000">2</text>
<text transform="translate(681.60 949.50) scale(0.8884 1)" x="-1.26" y="0" font-size="33.00" fill="#000">3</text>
<text transform="translate(270.70 989.50) scale(0.9667 1)" x="-1.76" y="0" font-size="41.50" fill="#000">coefficient values</text>
<text transform="translate(34.80 806.00) rotate(-90) scale(0.9659 1)" x="-3.40" y="0" font-size="41.50" fill="#000">Density</text>
<path fill="none" stroke="#332288" stroke-width="1.60" stroke-linejoin="round" stroke-linecap="butt" d="M941.0 892.5l119.8 -.2 4.2 -.6 3.1 -1.4 3.1 -2.5 3.2 -3.6 1 -2.5 1 -6.4 1.1 -15.9 1 -32.8 3.2 -164.3 1 -23.9 1 4.8 5.2 126.6 2.1 29.4 1.1 10 2 12.7 2.1 6 1.1 1.5 4.1 3.2 2.1 2.2 9.4 15.8 5.2 7.4 8.3 8.9 5.2 4.5 5.2 3.7 6.3 3.7 6.2 3 6.3 2.3 7.3 2.1 8.3 1.8 9.4 1.4 21.9 1.8 25 .8 35.4 .4 210.3 .1M941.0 892.5l127.1 -.1 4.2 -.6 3.1 -1.1 3.1 -2.3 2.1 -2.5 1.1 -2.7 1 -7.6 1 -20.4 1.1 -41.9 2.1 -128.5 1 -44.4 1 -12.9 1.1 10.7 3.1 65.5 3.1 52.1 3.2 37.1 3.1 26.6 4.1 23.9 2.1 8.5 3.2 9.6 3.1 7 3.1 5.1 3.1 3.8 4.2 3.5 4.2 2.5 4.1 1.7 5.2 1.6 7.3 1.4 17.7 1.9 26.1 1.4 72.9 1 210.3 .1M941.0 892.5l118.8 0 5.2 -.6 2.1 -.8 2.1 -1.6 3.1 -4.2 5.2 -9.2 2.1 -1.8 3.1 .4 1 -3.1 1.1 -13.7 3.1 -96.4 1 -4.5 3.2 41.4 2 20.2 2.1 11.9 5.2 18.3 3.2 8.9 2 4.7 2.1 3.7 3.2 4.3 3.1 3.1 4.1 3.1 5.3 2.8 5.2 2.1 13.5 3.7 17.7 3 20.8 2 26.1 1.2 69.8 1 195.7 .1M941.0 892.5l131.3 0 8.3 -.5 1.1 -1.2 1 -4.6 1 -13.9 3.2 -106.5 1 -21 1 -5 4.2 15.8 2.1 4.3 5.2 4.9 3.1 5.8 3.1 9.3 6.3 21.3 4.2 12.1 5.2 12.1 5.2 9.7 5.2 8.2 5.2 7.3 10.4 12.3 5.2 5 5.2 4.2 5.2 3.5 5.2 2.7 4.2 1.1 3.1 -.6 3.2 -2.3 5.2 -5.6 2 -1.2 1.1 0 1 .3 2.1 1.8 8.3 12.4 2.1 1.9 2.1 1.3 3.1 1 5.2 .9 24 1.7 26 .9 37.5 .4 173.9 .2M941.0 892.5l127.1 0 2.1 -.2 1 -.4 1.1 -1.6 1 -4.2 1.1 -9 1 -15.7 3.1 -70.6 1.1 -15.7 1 -7.1 1.1 .1 1 4.3 5.2 31.3 4.2 19.8 4.1 15.3 4.2 11.8 5.2 10.8 3.1 4.8 3.2 3.8 3.1 2.9 3.1 2.2 4.2 2.1 4.1 1.5 7.3 1.8 5.2 0 4.2 -1.7 6.2 -4.3 3.2 -.7 2.1 .8 2 1.8 8.4 9.2 2.1 1.4 3.1 1.4 4.1 1 5.3 .6 21.8 1.4 27.1 .6 38.5 .4 206.2 .1M941.0 892.5l128.2 0 6.2 -.7 3.1 -1.7 1.1 -1.5 1 -3.6 1.1 -8.6 1 -18.3 3.1 -118.8 1.1 -33.6 1 -15.5 1 1.2 1.1 11.2 4.1 57.1 3.2 31.7 3.1 23.8 3.1 17.7 4.2 16.5 2.1 5.9 3.1 6.9 3.1 5.1 3.1 3.7 3.2 2.7 4.1 2.7 5.2 2 4.2 .6 3.1 -.4 6.3 -2.1 3.1 -.2 3.1 1.2 9.4 6.8 6.3 2.2 17.7 2.2 25 1.7 33.3 1 46.8 .6 183.3 .5M941.0 892.5l129.2 0 2.1 -.1 1 -.7 1.1 -2.8 1 -9.1 1 -20.7 3.2 -94.8 1 -8.1 1.1 5.3 4.1 44.6 2.1 14 1 3.9 1.1 1.8 1 -.1 2.1 -2.4 1 -.7 1.1 .5 2.1 4.7 4.1 15.1 3.2 9.6 2 5.1 3.2 6.2 3.1 4.6 4.2 4.5 4.1 3 5.2 2.4 4.2 1.2 6.2 1 53.2 6 23.9 2 28.1 1.4 37.5 1.2 46.9 .7 146.8 .6M941.0 892.5l122.9 -.2 3.2 -.9 2.1 -1.8 2 -3.2 3.2 -6.4 2 -3 1.1 -.7 3.1 .3 1.1 -4.5 1 -20.6 1 -52.4 2.1 -156.9 1.1 -35.9 1 2.1 4.2 82.4 3.1 48 3.1 36.1 3.1 27.1 4.2 25.6 4.2 16.8 2.1 6 3.1 6.7 3.1 4.6 4.2 4 5.2 3.1 20.8 9.4 7.3 2.7 5.2 1.2 3.1 0 3.2 -.7 3.1 -1.6 7.3 -5.2 3.1 -.8 2.1 .3 3.1 2 7.3 7.5 4.2 3.3 5.2 2.2 8.3 1.2 28.1 1.3 40.6 .6 193.7 .3M941.0 892.5l129.2 0 3.1 -.4 1.1 -1.2 1 -3.7 1 -9.2 1.1 -18.6 3.1 -103.6 1.1 -25.1 1 -9.1 1 5.2 4.2 61.5 2.1 24.2 2.1 17.3 1 6.3 2.1 7.8 1 1.8 1.1 .6 3.1 -.9 2.1 .4 2.1 2.2 6.2 8.3 5.2 5.2 11.5 9.7 7.3 4.7 4.1 1.3 4.2 -.1 3.1 -1.1 8.4 -4.9 2 -.6 2.1 0 2.1 .7 3.1 2.3 9.4 10.2 5.2 4 3.1 1.4 4.2 1 12.5 1.2 24 .7 35.4 .4 215.5 .1M941.0 892.5l132.3 0 5.2 -.4 1.1 -.4 1 -1.5 1.1 -6.7 1 -22.3 1 -51 2.1 -151.9 1.1 -43.5 1 -8.7 1 10.3 4.2 60.4 5.2 57.1 6.3 53 5.2 31.8 2.1 9.7 3.1 11.8 3.1 8.9 3.1 6.6 3.2 4.8 4.1 4.7 12.5 10.2 5.2 3.7 5.2 3.1 5.2 2.3 6.3 2.2 7.3 1.7 7.3 1.2 19.8 1.7 22.9 .8 34.3 .3 218.7 .1M941.0 892.5l120.9 -.1 3.1 -.2 3.1 -.7 2.1 -1 2.1 -1.7 8.3 -10.6 1.1 -4 1 -12.9 3.1 -94.7 1.1 -8.7 1 4.3 5.2 41.3 3.1 20.6 3.2 15.1 3.1 10.9 2.1 5.5 3.1 6.6 5.2 7.6 3.1 3.3 4.2 3.3 5.2 3.1 4.2 1.8 4.1 .7 3.1 -.7 3.2 -2.3 6.2 -6.8 2.1 -1.2 1 0 1.1 .3 2.1 1.7 7.3 10.5 4.1 3.9 2.1 1 3.1 .9 11.5 1.1 29.2 1.3 41.6 .6 221.8 .2M941.0 892.5l132.3 0 2.1 -.3 1 -.5 1.1 -1.5 1 -3.9 1.1 -9.5 1 -20.8 1.1 -39.3 3.1 -208.7M1091.0 608.6l3.1 64.6 3.2 49.5 4.1 48.5 4.2 34 2.1 13.1 3.1 15.8 2.1 8.5 3.1 10.3 3.1 7.9 3.2 6 3.1 4.4 3.1 3 4.2 2.4 17.7 7.4 9.4 3.1 14.5 2.7 18.8 1.5 22.9 .8 33.3 .3 223.9 .1M941.0 892.5l130.2 0 6.3 -.5 1 -2.3 1.1 -15.9 3.1 -208.9 1 -.4 2.1 57.4 2.1 43.1 2.1 26.3 1 8.8 2.1 12 2.1 7.8 6.2 17.9 4.2 10.6 3.1 6.5 4.2 6.7 4.2 5.1 5.2 4.8 5.2 3.6 6.2 2.9 6.3 2 28.1 5.4 20.8 2.8 26.1 1.9 33.3 1.2 46.9 .7 178 .5M941.0 892.5l132.3 -.2 1.1 -.9 1 -3 1 -8.1 1.1 -16.4 3.1 -77.3 1.1 -10.7 1 2.4 5.2 58 2.1 13.4 1 4.5 2.1 5.5 2.1 2 5.2 .5 2.1 1 2.1 1.9 8.3 9.5 7.3 5.8 6.2 3.4 8.4 3 10.4 2.4 11.4 1.4 14.6 1 19.8 .6 282.2 .3M941.0 892.5l133.4 0 1 -.1 1 -1 1.1 -5.9 1 -22.8 1.1 -55.7 2.1 -168.7 1 -40.8 1 2.1 4.2 99.9 2.1 37 2.1 26.7 2 18.3 3.2 16.6 13.5 47 2.1 5.5 3.1 6.2 3.1 4.4 4.2 3.8 18.8 10.9 6.2 2.8 7.3 2.5 8.3 2.1 10.4 2 26.1 2.9 37.5 2 52 1.3 70.9 .7 112.4 .2M941.0 892.5l109.4 0 8.3 -.3 4.2 -1.3 3.1 -2.7 3.2 -4.7 5.2 -9.7 3.1 -3.4 1 -3.7 1.1 -16.8 3.1 -171.3 1 -18 1.1 10.6 2.1 36 2 25.5 8.4 65.2 4.1 25.8 4.2 17.9 2.1 6.6 3.1 7.9 3.1 6 3.2 4.5 3.1 3.4 4.2 3.1 4.1 2 5.2 1.4 24 2.5 36.4 7.3 18.8 2.3 21.8 1.6 30.3 1.2 41.6 .7 166.6 .4M941.0 892.5l127.1 0 3.1 -.4 1.1 -1.2 1 -3.8 1.1 -9.8 1 -20.4 4.2 -175.4 1 -23.1 1.1 -1.6 1 14.4 3.1 69.6 2.1 35.9 2.1 23.4 2.1 12.9 1 3.4 1 1.8 1.1 .8 3.1 .2 1.1 .5 2 2.7 2.1 4.7 7.3 19.6 3.1 6.4 3.2 5.2 6.2 7.5 4.2 3.6 4.1 2.8 6.3 3.3 8.3 3.6 10.4 3.6 9.4 2.7 17.7 3.5 21.9 2.1 23.9 .9 35.5 .5 208.2 .1M941.0 892.5l131.3 0 3.1 -.3 1 -1.3 1.1 -7 1 -24.7 3.2 -197.9 1 -20.1 1 17.2 2.1 62.5 2.1 47.3 2.1 31.1 2.1 20.3 2 13.7 2.1 10.1 2.1 7.9 3.1 9.4 3.2 7.3 3.1 5.3 3.1 3.9 4.2 3.6 5.2 2.7 5.2 1.4 19.8 2.6 5.2 .1 3.1 -.8 2.1 -1.1 3.1 -2.7 6.3 -6.7 2.1 -1.3 2 -.1 3.2 2 7.3 8.8 4.1 3.5 5.2 1.7 8.4 .6 72.9 .9 203 .1M941.0 892.5l120.9 0 5.2 -.7 3.1 -2.5 3.1 -5.3 2.1 -5.9 1 -6.1 1.1 -11.4 2.1 -48 2.1 -66.1 1 -22.4 1 -8.5 1.1 4 5.2 64.3 2.1 13.6 2 7.1 2.1 3 5.2 3.1 3.2 3.7 15.6 29.9 5.2 8 5.2 6.4 3.1 2.8 3.1 1.9 3.2 .7 5.2 .2 3.1 1.5 2.1 1.9 8.3 9.8 3.1 2.4 3.2 1.7 5.2 1.9 7.3 1.9 15.6 2.9 18.7 1.9 22.9 1.2 62.5 1 176 .1M941.0 892.5l119.8 0 5.2 -.8 3.2 -2.4 2 -3 4.2 -7.5 1 -1.3 3.2 -1.7 1 -5.3 1.1 -18.2 3.1 -110.7 1 -6.6 5.2 57.7 2.1 15 2.1 9.4 2.1 5.5 5.2 10 8.3 21.8 4.2 8.1 4.1 5.9 4.2 4.3 5.2 3.8 5.2 2.5 5.2 1.8 7.3 1.7 30.2 5.3 19.8 2.3 21.9 1.3 26 .6 36.5 .4 192.6 .1M941.0 892.5l133.4 0 2 -.3 1.1 -1.4 1 -6 1.1 -18.3 1 -40.9 3.1 -201 1.1 -29.4M1086.9 604.2l5.2 77.6 4.1 47.6 5.2 44.2 5.2 31.8 3.2 14.7 3.1 12 3.1 9.9 4.2 10.7 4.2 8.4 5.2 8 5.2 6 5.2 4.5 4.1 2.8 5.2 2.6 10.5 3.4 13.5 2.2 17.7 1.2 51 .6 231.2 .1M941.0 892.5l134.4 0 2.1 -.4 1 -2.4 1.1 -11.8 1 -35.7 3.1 -203.8 1.1 -12.4 6.2 118.7 2.1 25.8 3.1 24.6 3.2 12.7 5.2 12.5 7.3 19.8 3.1 7.5 3.1 6 4.2 6.2 4.1 4.6 5.2 4.3 6.3 3.7 7.3 3.2 11.4 3.9 12.5 3.6 10.5 2.4 11.4 2 25 2.6 29.2 1.3 40.6 .8 187.4 .3M941.0 892.5l130.2 -.1 4.2 -.3 1 -.5 1.1 -1.7 1 -5.4 1.1 -13.5 1 -28.1 4.2 -224.9M1087.9 605.6l4.2 95.1 2 37.4 3.2 41.3 3.1 28.3 2.1 13.7 2.1 10.7 2 8.4 3.2 9.4 3.1 6.7 3.1 5 4.2 4.8 4.2 3.5 6.2 4.1 7.3 3.7 8.3 3.3 9.4 2.8 9.4 2.1 11.4 1.9 26.1 2.5 29.1 1.3 41.7 .6 199.9 .3M941.0 892.5l134.4 0 3.1 -.1 1.1 -.3 1 -.9 1.1 -2.9 1 -7.4 1 -15.6 1.1 -26.9 3.1 -117 1 -24.8 1.1 -10.4 1 1 5.2 40.7 10.4 68.5 4.2 22.5 4.2 16.8 5.2 14.8 3.1 6.6 4.2 7 4.1 5.4 4.2 4.2 4.2 3.4 5.2 3.4 5.2 2.5 5.2 1.9 12.5 3 16.7 2.1 22.9 1.3 28.1 .7 41.7 .3 195.7 .2M941.0 892.5l125 -.1 3.2 -.3 3.1 -1.2 2.1 -1.6 3.1 -3.4 1 -1.9 1.1 -5.8 1 -18.5 1.1 -42.9 2 -128.4 1.1 -34.5 1 -3.3 4.2 65.7 2.1 26.6 3.1 28.2 5.2 31.2 6.2 31.3 3.2 12 3.1 9.5 3.1 7.4 4.2 7.2 3.1 3.9 4.2 3.5 3.1 1.6 3.1 1 10.4 2.3 13.6 4 8.3 1.9 14.6 2.1 19.8 1.4 23.9 .7 36.5 .3 212.4 .1M941.0 892.5l121.9 -.1 3.1 -.6 2.1 -1.1 7.3 -7.3 1 -.4 2.1 .3 1.1 -.3 1 -3.9 1.1 -13.5 3.1 -90.5 1 -7.1 1.1 9.2 3.1 41.9 2.1 16.6 2 9.6 3.2 7.5 10.4 15.7 3.1 3.6 3.1 2.8 4.2 2.9 3.1 1.5 3.2 .7 3.1 -.5 3.1 -1.8 6.2 -4.9 2.1 -.8 2.1 .1 3.1 2.1 8.4 10.4 2.1 2.1 3.1 2.2 3.1 1.2 3.1 .7 13.6 .9 55.2 .7 240.5 .1M941.0 892.5l132.3 0 1.1 0 1 -1.2 1 -11.6 2.1 -110 1.1 -26.9 3.1 65.1 2.1 31.7 2.1 19.5 1 5.5 1 -.5 1.1 -13.7 1 -35.9 2.1 -114.5 1 -20.3 1.1 31.8 2.1 121.3 1 35.8 1.1 15.6 1 5 1 1.3 2.1 .1 3.1 -1 3.2 -2.2 8.3 -7.6 3.1 -1.7 3.2 -.6 4.1 .5 21.9 5.5 17.7 2.9 22.9 2.5 28.1 1.7 33.4 1 43.7 .6 177 .3M941.0 892.5l133.4 0 1 -1.2 1 -11.6 2.1 -110 1.1 -26.9 3.1 65.1 2.1 31.7 1 11.1 2.1 15.6 2.1 9.5 1 2.5 1.1 .1 1 -4.4 1 -12.2 1.1 -23 3.1 -103.7 1.1 -12.5 1 12.1 3.1 106 1.1 24.6 1 13.9 1 6.4 1.1 2.1 1 .2 1.1 -.5 6.2 -5.9 3.1 -2.4 2.1 -1 3.2 -.6 4.1 .5 21.9 5.5 17.7 2.9 22.9 2.5 28.1 1.7 33.4 1 43.7 .6 177 .3M941.0 892.5l133.4 0 1 -1.2 1 -11.6 2.1 -110 1.1 -26.9 4.1 82.8 1.1 14 2.1 19.8 2 12.4 3.2 10.5 3.1 5.1 2.1 1.8 2.1 1.1 2 .4 3.2 -.3 4.1 -2.2 2.1 -1.9 2.1 -2.7 2.1 -5 2.1 -10 1 -7.9 4.2 -44.2 1 -8.2 1.1 -3.9 1 1 1 5.8 4.2 43.1 2.1 15 1 4.5 2.1 4.7 2.1 1.7 4.2 1.4 17.7 3.6 19.8 2.6 23.9 2 28.1 1.3 75 1.1 166.6 .3M941.0 892.5l133.4 0 1 -1.2 1 -11.6 2.1 -110 1.1 -26.9 4.1 82.8 1.1 14 2.1 19.8 2 12.4 2.1 7.8 3.1 6.5 3.2 2.9 2.1 .3 1 -.4 2.1 -2.5 1 -2.4 3.1 -12.5 5.3 -28.7 1 -3.1 1 -1.2 1.1 .9 2.1 7.3 4.1 24.2 2.1 9.4 1.1 2.8 1 1 1 -1.5 1.1 -4.5 1 -8.4 3.1 -41.8 1.1 -11.9 1 -5.7 1.1 2.2 1 9.3 4.2 54.5 1 7.4 1.1 4.5 1 2.4 1 1.1 1.1 .5 5.2 .3 322.8 0M941.0 892.5l133.4 0 1 -1.2 1 -11.6 2.1 -110 1.1 -26.9 4.1 82.8 1.1 14 2.1 19.8 2 12.4 3.2 10.5 3.1 5.1 2.1 1.9 3.1 1.6 4.2 .8 2 -.1 2.1 -.6 2.1 -1.5 1.1 -1.3 2 -4.1 2.1 -6.7 2.1 -9.4 6.3 -35.8 2 -7.2 1.1 -1.6 1 -.1 1.1 1.4 2 6.4 7.3 33.4 2.1 6.1 2.1 4.1 3.1 3.4 3.1 1.7 5.3 1.6 9.3 2.1 16.7 2.8 19.8 2.2 22.9 1.6 27.1 1.1 71.8 1 151 .3M941.0 892.5l133.4 0 2 -.4 1.1 -5.4 1 -26.9 2.1 -85.7 1.1 6.4 2 39.5 1.1 15 2.1 21.1 1 7.1 2.1 9.6 2.1 5 1 1.2 1 .5 1.1 -.1 2.1 -1.5 6.2 -9.7 3.1 -3.8 2.1 -1.5 3.2 -.4 4.1 1.3 13.6 7.3 12.5 5.2 14.5 4.6 14.6 3 3.1 -.2 3.2 -1.9 2.1 -2.7 5.2 -9 2 -1.4 1.1 .2 2.1 2.4 5.2 10.5 3.1 4.1 2.1 1.4 2.1 .8 6.2 .8 33.3 1.9 45.9 1.1 64.5 .5 120.8 .1M941.0 892.5l133.4 0 2 -.4 1.1 -5.4 1 -26.9 2.1 -85.7 1.1 6.4 2 39.5 1.1 15 2.1 21.1 1 7.1 2.1 9.6 2.1 5 1 1.2 1 .5 1.1 -.1 2.1 -1.5 6.2 -9.7 3.1 -3.8 2.1 -1.5 3.2 -.4 4.1 1.3 12.5 6.8 10.4 4.5 12.5 4.3 10.4 2.4 3.2 0 3.1 -1.2 3.1 -2.6 6.3 -7.6 2.1 -1.1 1 0 1 .3 2.1 1.9 6.3 9.5 4.1 4.5 2.1 1.2 3.1 1.1 9.4 1.1 33.3 1.9 45.9 1.1 64.5 .5 120.8 .1M941.0 892.5l133.4 0 2 -.4 1.1 -5.4 1 -26.9 2.1 -85.6 1.1 6.4 3.1 54.8 2.1 21.4 2 13.4 2.1 8.3 3.1 7.1 3.2 3.5 4.1 2.1 5.2 .9 7.3 .3 1.1 -14.7 31.2 6.3 25 3.3 44.8 2.3 22.9 .5 11.5 -.2 7.3 -1.5 10.4 -3.2 5.2 -2.8 15.6 -9.6 5.2 -2.2 4.2 -1 22.9 -3 18.7 -3 7.3 -.1 22.9 .8 7.3 -.6 15.7 -2.2 6.2 -.4 8.3 .8 21.9 6.1 15.6 2.4 6.3 1.5 5.2 2 5.2 2.7 11.4 7.8M941.0 892.5l133.4 0 2 -.4 1.1 -5.4 1 -26.9 2.1 -85.6 1.1 6.4 3.1 54.8 2.1 21.4 2 13.4 2.1 8.3 3.1 7.1 3.2 3.5 4.1 2.1 5.2 .9 7.3 .3 1.1 -14.7 34.3 8 13.6 2.3 11.4 1.2 66.7 1.5 45.8 .3 6.3 -.4 9.3 -1.6 4.2 -1.3 5.2 -3.9 10.4 -10.9 4.2 -3.4 10.4 -4.6 4.2 -1.1 3.1 -.3 4.2 .3 4.1 .9 16.7 6 6.3 1.6 26 2.6 33.3 2 13.6 1.3 10.4 1.9 14.5 4.3M941.0 892.5l136.5 -.2 1 -2.9 1.1 -18.9 2.1 -91.5 1 -2.9 3.1 55.4 2.1 22.9 2.1 14.3 2.1 8.9 3.1 7.5 3.1 3.8 4.2 2.2 4.1 .8 7.3 .5 1.1 -11.8 18.7 3.6 16.7 2.8 14.6 1.7 12.5 .7 85.4 .6 8.3 -.8 40.6 -6.1 14.6 -1.1 3.1 .3 3.1 .8 11.5 5.1 4.2 1.5 11.4 1.1 19.8 .8 93.7 .3M941.0 892.5l124 0 6.2 -.2 3.2 -.6 1 -1 1 -7.4 2.1 -67.2 1.1 -17 4.1 44.6 2.1 11.8 1.1 3.6 2 4.1 2.1 1.8 8.4 2.5 10.4 5.1 7.3 3 10.4 3.6 10.4 2.8 2.1 .5 1 -1.6 21.9 4 26 2.8 21.9 1.4 27.1 1.1 78.1 1.2 157.2 .4M941.0 892.5l126.1 0 6.2 -.5 2.1 -.6 1 -.8 1.1 -5.3 1 -24.2 2.1 -76.8 1.1 4.5 2 31.8 2.1 20.5 2.1 11.4 2.1 6.1 2.1 3.3 2 1.8 13.6 7.8 10.4 4.5 13.5 4.4 8.4 2.1 1 -2.3 20.8 3.9 24 2.8 21.9 1.5 27 1.2 80.2 1.4 158.3 .5M941.0 892.5l126.1 0 6.2 -.5 2.1 -.6 2.1 -1.2 1 -3.6 1.1 -19.7 2.1 -93.7 1 -4.2 2.1 36.2 2.1 25.5 2 14.7 1.1 4.8 2.1 6.4 2 3.8 2.1 2.6 7.3 5.8 9.4 5.1 12.5 4.6 14.6 4 1 -3 17.7 3.4 20.9 2.8 22.9 1.9 29.1 1.4 35.4 .9 46.9 .7 159.3 .6M941.0 892.5l126.1 0 7.3 -.8 2 -.7 2.1 -1.3 1.1 -2.6 1 -14.8 2.1 -105 1 -17.5 4.2 69.5 2.1 18.6 1 6.2 2.1 8.5 2.1 5.4 2.1 3.6 2.1 2.7 3.1 3 7.3 4.9 10.4 4.6 9.4 3 10.4 2.7 1 -3.8 17.7 3.6 19.8 2.7 22.9 2 27.1 1.4 36.5 1.1 46.8 .7 161.4 .7M941.0 892.5l127.1 -.1 4.2 -.3 3.1 -.7 2.1 -1 2.1 -1.5 1 -1.9 1.1 -10.6 2 -109 1.1 -34.6 1 11.9 2.1 45.7 2.1 29.4 2.1 17.8 2 10.9 3.2 9.6 2.1 4 2 2.9 3.2 3.3 3.1 2.4 4.2 2.5 5.2 2.3 10.4 3.7 12.5 3.3 1 -4.5 17.7 3.6 19.8 2.8 21.9 1.9 27.1 1.5 37.5 1.2 47.9 .8 160.3 .8M941.0 892.5l127.1 -.1 4.2 -.3 3.1 -.7 3.1 -1.7 2.1 -1.8 1.1 -1.6 1 -7.2 1 -33.9 2.1 -125.2 1.1 2.4 2 51.2 2.1 35.4 2.1 21.7 2.1 13.5 3.1 12 2.1 5 2.1 3.5 2.1 2.6 3.1 2.9 4.2 2.8 4.1 2 10.4 3.8 13.6 3.7 1 -5.2 17.7 3.6 19.8 2.8 22.9 2.2 28.1 1.5 37.5 1.2 47.9 .8 158.3 .9M941.0 892.5l128.2 -.1 4.1 -.4 3.1 -1 3.2 -2.1 2.1 -2.2 1 -1.5 1 -4.9 1.1 -25.7 2.1 -141.5 1 -12.5 2.1 54.8 2.1 41.9 2 26 2.1 16.5 3.2 14.5 3.1 8.1 2.1 3.5 3.1 3.6 3.1 2.5 4.2 2.4 10.4 4.1 14.6 4 1 -5.9 17.7 3.7 20.9 3 22.9 2.1 28.1 1.6 37.5 1.2 47.9 .9 157.2 1M941.0 892.5l128.2 -.1 4.1 -.4 3.1 -1 3.2 -2.1 3.1 -3.5 1 -1.6 1.1 -3.4 1 -18.3 2.1 -148.4 1 -32.6 4.2 103.6 2.1 30.8 2.1 19.5 3.1 17.3 3.1 9.4 2.1 4 2.1 2.8 3.1 3 4.2 2.7 10.4 4.3 14.6 4 1 -6.6 18.8 3.9 20.8 3 23.9 2.2 29.2 1.6 37.5 1.3 47.9 .8 154.1 1.1"/>
<rect x="912.0" y="577.5" width="588.7" height="4.8" fill="#000"/>
<rect x="1495.7" y="577.5" width="5.0" height="331.9" fill="#000"/>
<rect x="912.0" y="577.5" width="6.8" height="331.9" fill="#000"/>
<rect x="912.0" y="902.7" width="588.7" height="6.7" fill="#000"/>
<text transform="translate(791.00 568.70) scale(1.0185 1)" x="-2.33" y="0" font-size="56.70" font-weight="bold" fill="#000">d</text>
<text transform="translate(1146.90 555.90) scale(0.9008 1)" x="-4.01" y="0" font-size="48.90" fill="#000">Pan</text>
<path fill="#000" d="M1223.0 522.0H1234.0V525.7H1230.7V552.2H1234.0V555.9H1223.0V552.2H1226.3V525.7H1223.0Z"/>
<text transform="translate(1239.10 555.90) scale(1.0214 1)" x="-4.01" y="0" font-size="48.90" fill="#000">N</text>
<text transform="translate(853.70 903.80) scale(0.9123 1)" x="-1.29" y="0" font-size="33.00" fill="#000">0.0</text>
<text transform="translate(853.70 828.95) scale(0.9223 1)" x="-1.66" y="0" font-size="33.00" fill="#000">2.5</text>
<text transform="translate(853.70 753.10) scale(0.9130 1)" x="-1.32" y="0" font-size="33.00" fill="#000">5.0</text>
<text transform="translate(853.70 678.25) scale(0.9230 1)" x="-1.69" y="0" font-size="33.00" fill="#000">7.5</text>
<text transform="translate(837.20 604.40) scale(0.9268 1)" x="-2.51" y="0" font-size="33.00" fill="#000">10.0</text>
<text transform="translate(927.80 949.50) scale(1.0280 1)" x="-1.47" y="0" font-size="33.00" fill="#000">-1</text>
<text transform="translate(1066.10 949.50) scale(1.0143 1)" x="-1.29" y="0" font-size="33.00" fill="#000">0</text>
<text transform="translate(1200.20 949.50) scale(1.0051 1)" x="-2.51" y="0" font-size="33.00" fill="#000">1</text>
<text transform="translate(1332.90 949.50) scale(0.9645 1)" x="-1.66" y="0" font-size="33.00" fill="#000">2</text>
<text transform="translate(1466.30 949.50) scale(0.8884 1)" x="-1.26" y="0" font-size="33.00" fill="#000">3</text>
<text transform="translate(1054.30 989.50) scale(0.9702 1)" x="-1.76" y="0" font-size="41.50" fill="#000">coefficient values</text>
<text transform="translate(818.40 806.00) rotate(-90) scale(0.9659 1)" x="-3.40" y="0" font-size="41.50" fill="#000">Density</text>
<path fill="none" stroke="#6699CC" stroke-width="1.60" stroke-linejoin="round" stroke-linecap="butt" d="M156.3 1405.0l126.1 0 4.1 -.2 3.2 -1.1 1 -2.1 1 -15.4 1.1 -70.5 1 -132.2 1.1 -43.4 2.1 214.6 1 31.2 1 2.9 2.1 -1.5 1.1 -.3 2 .4 9.4 4.9 6.3 2.6 8.3 2.7 9.4 2.2 17.7 2.5 22.9 1.6 26 .7 39.6 .3 244.8 .1M156.3 1405.0l130.2 0 6.3 -.7 1 -.4 1.1 -1.3 1 -10.2 1.1 -56.2 1 -131.5 1 -80.4 2.1 216.2 1.1 46.3 1 6 4.2 -4.4 2 -1.1 2.1 -.2 3.2 .7 10.4 4.4 7.3 2.5 9.3 2.5 9.4 1.9 11.5 1.8 13.5 1.3 32.3 1.8 70.8 .9 209.4 .1M156.3 1405.0l130.2 0 2.1 -.4 2.1 -1.3 3.1 -4.4 3.2 -7.5 1 -9.3 1 -35.6 4.2 -219 1 7.7 2.1 8.8 1.1 15.1 3.1 87.7 3.1 43.3 3.1 24.5 7.3 37.3 2.1 8.5 2.1 6.4 3.1 5.4 5.2 6.9 4.2 4.4 5.2 4.3 5.2 3.1 6.3 2.7 10.4 3.3 10.4 2.5 16.7 2.5 33.3 2.5 19.8 .6 240.6 0M156.3 1405.0l122.9 0 6.3 -.6 2.1 -.8 1 -.8 1.1 -5.8 1 -38.6 1 -92 1.1 -27.7 2.1 143.9 1 10.4 5.2 -5.2 3.1 -.8 3.2 .9 9.3 4.8 6.3 2.5 7.3 2.4 8.3 2 10.4 1.7 11.5 1.3 29.1 1.6 64.6 .7 234.4 .1M156.3 1405.0l127.1 0 7.3 -.9 3.1 -1.3 1.1 -1 1 -4.1 1.1 -21.6 2 -147.6 1.1 -10.5 2.1 144.7 1 25.1 1 3.6 5.2 -3.8 2.1 -.5 2.1 0 3.1 .8 17.7 6.8 8.4 2.3 9.3 1.9 11.5 1.8 12.5 1.3 30.2 1.8 29.2 .7 41.6 .4 211.5 .1M156.3 1405.0l131.3 0 6.2 -.4 3.2 -1 1 -2.2 1 -9.7 1.1 -29.7 2.1 -108.8 1 -2.9 2.1 102.9 1 28.6 1.1 7.8 1 0 4.2 -7 2.1 -2.5 2 -1.5 2.1 -.5 2.1 .2 2.1 .8 11.4 7 7.3 3.7 7.3 3 7.3 2.4 9.4 2.4 11.4 2.2 12.5 1.6 13.6 1.2 30.2 1.4 41.6 .7 213.6 .3M156.3 1405.0l139.6 0 1.1 -.6 2 -5.3 2.1 -9.8 4.2 -28.6 1 -12.2 4.2 -85.4 1 -11.2 1.1 -.2 1 7.6 7.3 75.4 1 7.2 1.1 4.3 2.1 5.8 3.1 6.7 3.1 4.9 10.4 11.4 6.3 5.7 6.2 4.7 6.3 3.8 5.2 2.5 17.7 5.5 18.7 4 15.7 2 25 1.4 18.7 .4 227.1 0M156.3 1405.0l143.8 -.1 2.1 -7.1 2 -9.1 5.2 -29.2 5.3 -53.2 1 -8.4 1 -4.9 1.1 -.7 1 1.2 1.1 2.4 5.2 16.7 9.3 34.6 5.3 11.5 6.2 10.9 4.2 5.7 3.1 3.4 7.3 5.5 12.5 7.2 6.2 2.8 7.3 2.5 8.4 2.1 20.8 3.5 14.6 1.8 13.5 .8 244.8 .1M156.3 1405.0l145.9 0 1 -1.7 3.1 -11.6 6.3 -27.8 2.1 -11.4 6.2 -45.1 1 -4.7 1.1 -2.6 1 -.3 1.1 1.6 1 2.8 11.5 39.4 3.1 9.3 3.1 6.3 6.3 9.6 4.1 5.3 4.2 4.6 4.2 3.8 4.1 3.1 6.3 3.4 7.3 3.4 13.5 4.8 11.5 2.7 15.6 2.2 18.7 1.9 16.7 .9 232.3 .1M156.3 1405.0l145.9 0 1 -1.2 3.1 -8 9.4 -25.8 9.4 -31.3 3.1 -9 6.2 -13.5 2.1 -3.1 2.1 -1.2 1.1 .4 2 2.7 7.3 17.7 10.4 19.6 6.3 8.9 8.3 9.4 4.2 3.9 5.2 4.2 7.3 5 7.3 4.4 9.3 4.3 15.7 4.8 12.5 2.9 11.4 1.7 24 2 19.8 1 197.9 .2M156.3 1405.0l130.2 -.1 2.1 -.3 2.1 -1.3 4.2 -5.5 1 -1 2.1 -.8 13.5 3.3 9.4 1.7 12.5 1.5 15.6 1.1 2.1 -3.4 1 -2.8 2.1 -9.4 1.1 -15 2.1 -66.4 1 -12.9 1 .2 3.2 5.3 1 -.7 1 -4.6 4.2 -36.7 5.2 -63.8 1.1 -7.1 1 7.5 5.2 133.8 2.1 63.3 2.1 8.6 1 2.6 1.1 1.6 1 .9 56.2 .4 243.8 0M156.3 1405.0l132.3 0 2.1 -.3 1 -1.7 1.1 -7.2 3.1 -65.3 1.1 10.6 2 50.8 1.1 -2 1 3.1 1.1 .8 5.2 1.4 7.3 .8 6.2 -.4 7.3 -2.1 8.3 -3.8 2.1 -1.6 3.1 -3.8 9.4 -15 4.2 -5.5 9.3 -9.4 3.2 -2 3.1 -.7 2.1 .5 3.1 1.9 7.3 6.9 3.1 4.4 8.4 14.3 7.2 9.8 4.2 4.5 3.1 2.2 7.3 3 6.3 2 7.3 1.6 14.5 1.5 15.7 .7 228.1 0M156.3 1405.0l135.4 -.1 1.1 -.8 1 -4.1 1.1 -12.3 2.1 -40.4 1 2 2.1 41.3 1 10.5 1.1 3.2 1 -8.2 5.2 1.5 6.3 .9 7.2 .4 9.4 0 4.2 -.8 4.2 -1.4 5.2 -2.6 5.2 -3.1 6.2 -4.2 3.1 -3.1 4.2 -5.6 10.4 -15.8 9.4 -11.2 2.1 -1.6 2.1 -.8 2 .3 3.2 1.8 8.3 8.1 9.4 8.1 4.1 3 5.2 2.3 5.3 1.8 5.2 1.2 7.3 1.1 4.1 1.4 5.2 3 26.1 18.2 7.3 3.7 6.2 2.3 202.1 0M156.3 1405.0l135.4 -.2 1.1 -1.2 1 -6.1 1.1 -18.5 2.1 -60.6 1 3.1 2.1 61.8 1 15.9 1.1 4.8 1 -14.2 14.6 -2.1 11.4 -.7 10.5 .5 21.8 2.2 9.4 .2 5.2 -1.8 11.5 -6.4 7.3 -2.9 3.1 -.7 1 0 2.1 1 6.2 6.5 2.1 1.6 9.4 5.3 8.3 3.8 7.3 2.4 11.5 2.6 10.4 2 9.4 1.2 9.3 .5 213.6 0M156.3 1405.0l132.3 0 2.1 -.4 1 -2.7 1.1 -11.6 3.1 -104.6 1.1 17.1 2 81.2 1.1 -14.1 1 -.6 5.2 -19.8 2.1 -3.9 1 -.5 3.2 1.3 3.1 3.2 9.4 14.4 4.1 5 10.5 8.4 9.3 6.2 5.2 2.7 7.3 3 15.6 5.4 13.6 3.4 17.7 3 21.9 2.9 17.7 1 240.6 0M156.3 1405.0l133.4 -.1 1 -1 1 -7.5 1.1 -27.7 1 -47.2 1.1 -20.7 2.1 78.4 1 20.7 1 -27.6 2.1 -13.3 2.1 -11.8 2.1 -9.2 2.1 -5.9 1 -1.5 1 -.4 1.1 .4 1 1.3 2.1 4.3 6.3 18.2 2 4.6 4.2 5.3 6.3 6.1 6.2 4.8 11.5 8 11.4 6.8 7.3 2.9 17.7 4.2 14.6 2.5 16.7 2 28.1 2.3 20.8 1 221.9 .1M156.3 1405.0l135.4 0 3.2 -.4 1 -1.4 1.1 -4.6 1 -11.4 2.1 -42.8 1 -13.6 1.1 4.9 3.1 58.3 1 -25.8 1.1 -.9 5.2 -13 2.1 -2.7 1 -.5 2.1 .4 2.1 1.1 6.2 5.4 3.1 2.1 5.2 1.7 10.5 2.6 5.2 2.1 4.1 3.7 10.4 13.1 4.2 3.5 9.4 4.2 9.4 3.3 9.3 2.5 10.4 2 19.8 2.3 19.8 1.7 50 1.7 40.6 .5 151.1 0M156.3 1405.0l132.3 -.1 1.1 -1.7 1 -9.8 2.1 -69.4 1 -4.1 2.1 70.1 1.1 12.5 1 -20.1 3.1 8.2 2.1 3.8 1 1.2 1.1 .4 2.1 -.2 3.1 -1.1 4.2 -2.4 10.4 -6.8 11.4 -8.5 3.2 -1.4 3.1 -.5 2.1 .5 2 1.2 6.3 5.3 3.1 2.2 12.5 6.6 8.3 3.5 5.3 1.6 13.5 2.8 20.8 2.8 41.7 2.1 57.3 1.1 172.9 .2M156.3 1405.0l142.7 -.1 1.1 -1 1 -7 2.1 -65.6 1 -15.1 2.1 68.3 1.1 16.6 1 -11.1 4.2 4.5 3.1 1.5 5.2 -.9 11.5 -4.6 4.1 -.5 7.3 1.1 13.6 3.8 5.2 1.1 25 3 22.9 1.6 53.1 1.4 45.8 2.2 27.1 .6 152.1 .2M156.3 1405.0l130.2 -.2 1.1 -1.1 1 -5.1 3.1 -58.2 1.1 5.2 2.1 45.4 1 10.4 1.1 -16.1 4.1 9.2 3.1 4 4.2 .9 10.4 .9 10.4 .2 3.2 -.3 5.2 -1.4 12.5 -4.8 6.2 -1 3.1 .4 10.5 2.7 31.2 4.1 29.2 2.3 38.5 2 20.8 .5 199 0"/>
<rect x="127.3" y="1090.0" width="588.7" height="4.8" fill="#000"/>
<rect x="711.0" y="1090.0" width="5.0" height="331.9" fill="#000"/>
<rect x="127.3" y="1090.0" width="6.8" height="331.9" fill="#000"/>
<rect x="127.3" y="1415.2" width="588.7" height="6.7" fill="#000"/>
<text transform="translate(9.00 1081.20) scale(1.0226 1)" x="-2.21" y="0" font-size="56.70" font-weight="bold" fill="#000">e</text>
<text transform="translate(371.80 1067.90) scale(0.9887 1)" x="-4.01" y="0" font-size="48.90" fill="#000">MCN</text>
<text transform="translate(69.00 1416.30) scale(0.9123 1)" x="-1.29" y="0" font-size="33.00" fill="#000">0.0</text>
<text transform="translate(69.00 1341.45) scale(0.9223 1)" x="-1.66" y="0" font-size="33.00" fill="#000">2.5</text>
<text transform="translate(69.00 1265.60) scale(0.9130 1)" x="-1.32" y="0" font-size="33.00" fill="#000">5.0</text>
<text transform="translate(69.00 1190.75) scale(0.9230 1)" x="-1.69" y="0" font-size="33.00" fill="#000">7.5</text>
<text transform="translate(52.50 1116.90) scale(0.9268 1)" x="-2.51" y="0" font-size="33.00" fill="#000">10.0</text>
<text transform="translate(143.10 1462.00) scale(1.0280 1)" x="-1.47" y="0" font-size="33.00" fill="#000">-1</text>
<text transform="translate(281.40 1462.00) scale(1.0143 1)" x="-1.29" y="0" font-size="33.00" fill="#000">0</text>
<text transform="translate(415.50 1462.00) scale(1.0051 1)" x="-2.51" y="0" font-size="33.00" fill="#000">1</text>
<text transform="translate(548.20 1462.00) scale(0.9645 1)" x="-1.66" y="0" font-size="33.00" fill="#000">2</text>
<text transform="translate(681.60 1462.00) scale(0.8884 1)" x="-1.26" y="0" font-size="33.00" fill="#000">3</text>
<text transform="translate(270.70 1502.00) scale(0.9667 1)" x="-1.76" y="0" font-size="41.50" fill="#000">coefficient values</text>
<text transform="translate(34.80 1318.50) rotate(-90) scale(0.9659 1)" x="-3.40" y="0" font-size="41.50" fill="#000">Density</text>
<path fill="none" stroke="#882255" stroke-width="4.00" stroke-linejoin="round" stroke-linecap="butt" d="M941.0 1405.0l134.4 0 4.2 -.2 1 -.7 1.1 -6.4 1 -33.1 2.1 -169.4 1 -32.6 1.1 14.3 3.1 69.1 2.1 30.6 3.1 30.4 3.1 21 5.2 25.5 2.1 7.5 3.1 9 3.2 6.6 3.1 4.9 4.1 4.8 5.3 4.2 4.1 2.2 4.2 1.6 4.1 1.1 5.3 .7 9.3 -.4 20.9 -3.2 10.4 -.3 9.3 .7 27.1 3.9 19.8 2.2 24 1.8 28.1 1.5 71.9 1.8 110.3 .7M941.0 1405.0l127.1 0 7.3 -.1 1 -.3 1.1 -2.6 1 -13.4 1.1 -43.1 2.1 -185.8M1084.8 1109.1l3.1 86.7 2.1 41.7 3.1 46.4 4.2 42.9 4.1 27.4 4.2 16.9 3.1 8.3 3.2 5.9 3.1 4.2 4.1 3.8 3.2 2 4.1 1.9 8.4 2.2 11.4 1.4 17.7 .9 64.6 1.7 52.1 .8 192.6 .7M941.0 1405.0l141.7 0 1 -.1 1.1 -2 1 -15.2 1.1 -59.8 2 -205.1 1.1 -10 4.1 165.8 3.2 63.3 2.1 23.3 3.1 19.9 3.1 10 2.1 3.6 3.1 3.2 3.1 1.5 3.2 .8 13.5 .8 342.6 0M941.0 1405.0l113.6 -.1 10.4 -1.1 6.2 -1.7 3.2 -1.3 1 -1.9 1 -7.1 1.1 -20.4 1 -42.9 2.1 -128.4 1.1 -39.3 1 -3.9 5.2 129.5 2.1 29.7 2.1 16.3 2 8 4.2 9.5 5.2 14.1 3.1 6.7 3.2 4.9 3.1 3.7 3.1 2.9 4.2 3 5.2 2.8 6.2 2.3 7.3 1.8 7.3 1.1 44.8 2.5 46.9 4.1 26 1.8 34.4 1.5 42.7 .9 132.2 .9M941.0 1405.0l113.6 -.2 6.2 -.8 5.2 -1.4 10.4 -4.4 1.1 -1.6 1 -7.1 1.1 -23.2 3.1 -165.4 1 -12.6 1.1 17 4.1 97.7 2.1 30.4 2.1 21.4 3.1 20.9 3.2 12.3 2 5.2 2.1 3.6 2.1 2.6 3.1 2.4 4.2 1.6 4.2 .9 15.6 .7 340.5 0M941.0 1405.0l89.6 0 25 -.5 6.3 -.7 4.1 -1.3 5.2 -2.8 5.2 -4.1 1.1 -3.8 1 -19.3 2.1 -132 1.1 -40 1 10.7 2.1 59.3 2.1 42.8 1 14.9 2.1 20 1 6 2.1 6.2 4.2 5.4 4.1 7.2 3.2 4.5 3.1 3.1 4.2 2.7 4.1 1.8 5.2 1.6 12.5 2 80.2 7.8 38.6 2.7 41.6 2 49 1.5 58.3 1 71.8 .7M941.0 1405.0l109.4 0 11.5 -.3 6.2 -1.2 4.2 -2 3.1 -2.9 3.1 -4.8 5.2 -11.5 1.1 -5.8 1 -20.9 1.1 -58.1 2 -183.7M1092.1 1141.5l2 70.2 2.1 51.7 2.1 37.6 3.1 37.9 3.2 23.4 2 10.4 2.1 7.5 2.1 5.5 2.1 4.1 3.1 4.1 3.1 2.6 3.2 1.6 4.1 1.3 9.4 .9 32.3 -.1 66.6 2.4 63.6 1.2 174.9 1M941.0 1405.0l135.4 -.1 2.1 -.2 1.1 -1.4 1 -7.2 1.1 -24.6 3.1 -188.7 1 -18 1.1 18 2 64.2 2.1 50.1 2.1 34.3 2.1 23.3 3.1 21.8 3.1 12.2 2.1 5 2.1 3.3 2.1 2.3 2.1 1.5 5.2 1.8 7.3 .6 50 -2.9 26 -.5 129.1 3.5 145.8 1.3M941.0 1405.0l131.3 -.1 2.1 -.2 1 -1.3 1 -5.8 1.1 -19 1 -43.2 2.1 -138.4 1.1 -44.3 1 -6.6 5.2 127.5 2.1 35.4 3.1 36 3.1 22.4 3.2 13.9 2 6.2 2.1 4.5 3.1 4.5 3.2 2.8 3.1 1.6 4.2 1.2 4.1 .5 6.3 0 14.6 -1 45.8 -4.7 15.6 -.9 15.6 -.1 21.9 .8 63.5 3.7 38.6 1.5 57.2 1.4 72.9 .9M941.0 1405.0l133.4 0 2 -.3 1.1 -1.2 1 -3.8 1.1 -10 1 -20.5 3.1 -110.8 1.1 -22.7 1 -4.3 1.1 10.2 3.1 54.1 2.1 28.9 2 21.3 2.1 15.5 3.2 15.8 3.1 9.7 2.1 4.3 2 3 2.1 2.1 3.2 1.9 3.1 1 4.1 .4 24 -.7 57.3 3.1 58.3 1.6 83.3 .9 131.2 .4M941.0 1405.0l101.1 0 16.6 -.4 4.2 -.8 3.1 -1.4 3.2 -2.4 7.2 -7.1 4.2 -1.7 1.1 -1.7 1 -5.5 1 -13.4 3.2 -92.1 1 -24.3 1 -9.3 1.1 3.6 4.1 48.5 3.2 28.8 3.1 20.7 3.1 14.8 4.2 13.6 4.2 8.7 2 3.1 3.2 3.5 3.1 2.5 4.2 2.2 6.2 1.7 7.3 .8 30.2 .9 52.1 3.2 39.5 1.6 80.2 1.3 133.3 .5M941.0 1405.0l101.1 0 11.4 -.3 5.2 -.8 5.2 -1.9 4.2 -2.6 6.3 -4.9 3.1 -3.1 1 -2 1.1 -3.9 1 -7.7 1.1 -13.8 3.1 -63.6 1 -11 1.1 -1.3 1 5.8 3.1 28.2 3.1 23.3 3.2 17.1 3.1 12.2 4.2 10.9 4.1 6.8 2.1 2.3 3.1 2.6 3.2 1.9 4.1 1.5 5.2 1.1 7.3 .5 33.4 -.7 64.5 1.5 59.4 .8 182.2 .9M941.0 1405.0l130.2 0 4.2 -.7 1 -.7 1.1 -1.7 1 -5.4 1.1 -16.2 1 -38.9 3.1 -215.5M1086.9 1121.1l3.1 73.6 3.1 56 3.1 40.9 4.2 37.9 4.2 25 2 9.1 3.2 10.6 3.1 7.7 3.1 5.7 3.1 4.2 4.2 3.9 5.2 3.2 6.3 2.1 7.3 1.2 9.3 .6 37.5 -.1 122.9 1.7 161.4 .5M941.0 1405.0l122.9 -.1 8.4 -.9 3.1 -1 3.1 -1.9 2.1 -2.8 1.1 -6.7 1 -23.8 2.1 -81 1 -6.1 3.1 39.1 2.1 20.6 2.1 15.6 3.1 16.2 3.2 10.2 2 4.6 2.1 3.4 2.1 2.5 3.1 2.7 3.2 1.9 4.1 1.7 5.2 1.4 6.3 1.1 15.6 1 39.6 -.5 119.7 1.8 170.8 .8M941.0 1405.0l131.3 0 4.1 -.5 2.1 -1.2 2.1 -2.3 1.1 -2.4 1 -9.4 2.1 -66.6 1 -18.8 1.1 4.8 4.1 42.3 2.1 13.9 3.1 14.2 3.2 9 2 4.1 2.1 3 2.1 2.3 3.1 2.3 6.3 2.6 7.3 1.2 8.3 .4 11.5 -.3 27 -1.8 15.7 -.3 123.9 2.3 164.5 .9M941.0 1405.0l115.7 -.1 9.3 -.9 12.5 -3.1 1.1 -2.5 1 -10.9 1.1 -30.9 2 -117 1.1 -35 1 3 4.2 106.4 3.1 44 2.1 16.8 3.1 14.7 3.1 7.6 2.1 2.8 3.1 2.5 3.2 1.3 4.1 .8 13.6 .5 345.7 0M941.0 1405.0l106.3 0 10.4 -.3 4.2 -.8 4.1 -1.8 3.2 -2.3 7.2 -6.7 2.1 -1.4 2.1 -.7 4.2 -.7 1 -1.7 1.1 -8.8 1 -28.3 2.1 -107 1 -24.2 1.1 6.9 3.1 54.7 2.1 24.9 3.1 26 3.1 18.5 4.2 16.8 2.1 5.8 3.1 6.5 3.1 4.6 3.1 3.3 3.2 2.5 4.1 2.4 8.4 2.8 11.4 1.6 75 4.2 27.1 1.2 80.2 1.5 144.7 .5M941.0 1405.0l134.4 0 4.2 -.6 1 -1.5 1.1 -5.9 1 -17.8 1 -40.2 3.2 -182.5 1 -9.4 1 20.7 4.2 117.9 2.1 35.7 2.1 24.3 3.1 22.7 3.1 12.8 2.1 5.4 2.1 3.9 3.1 4 3.1 2.6 6.3 3.2 9.4 2.3 12.5 1.4 16.6 .7 44.8 .3 269.7 0M941.0 1405.0l133.4 0 2 -.2 1.1 -.9 1 -4 1.1 -13.1 1 -29.7 3.1 -133.1 1.1 -4.8 4.1 86.9 2.1 24.6 2.1 12.8 7.3 25.4 2.1 5.8 3.1 6.7 3.1 4.8 3.2 3.7 4.1 3.5 5.2 3.1 5.2 2 5.2 1.3 6.3 .8 7.3 .2 12.5 -1 33.3 -4.6 10.4 -.7 10.4 0 15.7 .8 54.1 4.2 44.8 2.3 63.5 1.7 83.3 .9M941.0 1405.0l138.6 -.2 3.1 -.4 1 -1.7 1.1 -7.9 1 -24.5 3.1 -208.9 1.1 -42.9 1 -1.6 5.2 135.2 2.1 37.4 3.1 39.2 3.2 25 2 11.3 2.1 8.3 2.1 6.3 3.1 6.5 3.2 4.3 3.1 2.9 5.2 2.9 6.2 1.9 9.4 1.3 12.5 .7 53.1 .6 127.1 2.4 139.5 1.2M941.0 1405.0l105.2 0 11.5 -.3 5.2 -.9 5.2 -2.1 9.4 -6.4 1 -2 1.1 -12.8 1 -53.2 2.1 -196.4 1 -13.2 4.2 144.6 2.1 45.3 2.1 30.9 3.1 29.2 3.1 16.6 2.1 6.8 2.1 4.6 2.1 3.2 2 2.1 3.2 1.9 4.1 1.2 5.2 .6 9.4 .2 344.7 .1M941.0 1405.0l125 0 5.2 -.3 2.1 -.7 1.1 -1.4 1 -3.8 1 -9.2 1.1 -18 3.1 -92.5 1.1 -18 1 -3.4 1 7.2 3.2 37.1 3.1 28.7 3.1 20.8 3.1 15 4.2 13.3 2.1 4.6 3.1 5.1 3.1 3.6 3.2 2.7 3.1 1.9 4.1 1.9 5.3 1.5 6.2 1 6.2 .3 6.3 -.3 10.4 -1.5 26.1 -5.9 7.2 -.9 8.4 -.3 11.4 .7 53.1 4.9 49 2.7 68.7 1.8 95.8 1M941.0 1405.0l82.3 -.1 33.4 -.8 6.2 -.7 4.2 -.9 11.4 -4.9 5.2 -1.2 1.1 -2.3 1 -13.6 1.1 -43.8 2 -143.3 1.1 -16.1 4.1 115.7 3.2 50.9 2.1 19.6 3.1 17.2 3.1 8.8 2.1 3.2 3.1 2.7 3.1 1.2 5.2 .6 31.3 -2.2 22.9 0 81.2 5.6 61.5 2.4 65.6 1.2 91.6 .5M941.0 1405.0l138.6 -.1 1 -1 1.1 -6.2 1 -21.8 2.1 -83.6 1 -15.7 1.1 9 2 34.2 2.1 26.1 2.1 18.1 2.1 12.6 3.1 12 3.1 6.9 2.1 2.9 2.1 2 2.1 1.4 3.1 1.4 5.2 1.1 6.3 .4 19.8 -.2 11.4 -1.2 21.9 -4.1 12.5 -.7 62.5 2.9 54.1 1.6 71.9 1.1 96.8 .6M941.0 1405.0l115.7 -.1 5.2 -.4 4.1 -.9 3.2 -1.5 2 -1.8 3.2 -4.7 2 -5 1.1 -3.5 1 -6 1.1 -13.2 1 -26.9 2.1 -76.3 1 -18.2 1.1 3.4 3.1 48.4 2.1 25.6 2.1 19 3.1 20 3.1 13.1 2.1 6 2.1 4.6 2.1 3.4 3.1 3.7 3.1 2.4 4.2 2.1 5.2 1.6 5.2 .9 12.5 .4 12.5 -1 32.3 -4.6 10.4 -.7 9.4 -.1 16.6 .9 52.1 5.1 40.6 2.2 62.5 1.4 98.9 .6M941.0 1405.0l130.2 0 10.5 -.1 2 -.5 1.1 -1.4 1 -4.6 1.1 -11.6 1 -22.4 3.1 -102.1 1.1 -17 1 -2.3 1 7.4 3.2 35.5 3.1 29.2 3.1 21.8 3.1 16 4.2 14.9 4.2 9.7 2.1 3.5 3.1 3.8 3.1 2.7 4.2 2.3 4.1 1.5 6.3 1.2 38.5 4.9 28.1 2.5 34.4 1.9 39.6 1.4 48.9 .9 145.8 .8M941.0 1405.0l124 -.2 10.4 -.1 1 -.2 1.1 -.9 1 -3 1.1 -8.4 1 -17.6 3.1 -88.2 1.1 -13 1 1.8 3.1 38.8 2.1 21 2.1 13.8 3.1 12.7 5.2 13.4 3.2 6.4 3.1 5.2 3.1 3.9 3.1 2.9 4.2 2.7 4.2 1.7 9.3 2.2 12.5 1.1 103.1 2.5 85.4 1.1 140.6 .3M941.0 1405.0l91.7 -.1 28.1 -.8 5.2 -1 4.2 -1.9 3.1 -2.4 6.3 -5.8 3.1 -1.9 1 -1.1 1.1 -3.4 1 -9.6 1.1 -21.3 3.1 -121 1 -22.6 1.1 -1.3 5.2 91.5 2.1 26.3 2 19 3.2 19 3.1 11.6 2.1 5 2.1 3.5 2 2.5 3.2 2.3 4.1 1.6 4.2 .5 23.9 -.5 13.6 .3 67.7 5.7 54.1 2.8 77.1 1.9 111.4 .9M941.0 1405.0l111.5 -.2 22.9 -.7 5.2 -.4 2.1 -.6 1 -1.7 1.1 -5.3 1 -12.5 3.1 -74.2 1.1 -13 1 .9 4.2 49.5 2.1 17.7 2.1 11.9 2 7.9 3.2 7.2 3.1 3.8 4.2 2.2 3.1 .7 4.1 .1 23 -1.8 16.6 -.1 71.9 5.2 29.1 1.2 33.4 .9 69.8 .9 110.3 .3M941.0 1405.0l135.4 0 4.2 -.3 1.1 -4 1 -26.1 2.1 -181.3 1 -47.5 1.1 11.2 3.1 78.7 2.1 38.7 2 30.1 3.2 32.8 2.1 15.5 2 11.8 2.1 8.9 2.1 6.9 2.1 5.2 3.1 5.6 3.1 3.8 3.2 2.6 4.1 2.2 6.3 1.9 7.3 1 9.3 .4 16.7 -.2 41.7 -1.7 22.9 -.2 123.9 2.2 123.9 1.1M941.0 1405.0l108.4 0 22.9 -.6 2.1 -.8 1 -.9 2.1 -3.7 2.1 -6.9 4.1 -18.2 2.1 -5.1 1.1 -.8 1 .3 1 1 8.4 14.2 3.1 3.8 3.1 2.9 4.2 2.9 4.2 2 5.2 1.5 6.2 .9 8.3 .4 35.5 .1 69.7 3.3 60.4 1.8 75 1 101 .6M941.0 1405.0l134.4 0 4.2 -.2 2.1 -.8 2 -2.9 2.1 -7.5 2.1 -14.7 5.2 -52.1 1 -6.5 1.1 -3.8 1 -1 1.1 1.2 1 3 6.3 28 3.1 11.7 4.2 12 4.1 8.8 5.2 7.9 3.2 3.4 3.1 2.8 7.3 4.4 4.1 1.7 5.2 1.4 7.3 1.3 9.4 1 27.1 .8 285.3 .1M941.0 1405.0l131.3 0 7.3 -.5 3.1 -1.8 2.1 -2.7 3.1 -7.5 6.2 -19.8 2.1 -3.5 1.1 -.7 1 0 1.1 .6 2 2.3 9.4 14.3 6.3 6.4 4.1 3 5.2 2.6 4.2 1.4 5.2 .8 7.3 -.1 17.7 -3 9.4 -.5 55.2 4.4 53.1 2.3 76 1.3 118.7 .6M941.0 1405.0l129.2 0 4.2 -.2 2 -.5 2.1 -1.8 1.1 -1.7 2.1 -6 2 -10.3 5.2 -34.1 2.1 -8 1.1 -1.6 1 -.3 1 .9 2.1 4.2 5.2 13.9 3.2 7.2 3.1 6 4.2 6.4 5.2 6 5.2 4 5.2 2.7 6.2 1.7 9.4 .7 21.9 -1.2 12.5 .1 70.8 5.5 33.3 1.7 36.5 1.4 68.7 1.5 86.4 1M941.0 1405.0l134.4 0 3.1 -.2 1.1 -.5 1 -1 1.1 -2.4 2 -11.6 5.2 -59.6 1.1 -6.1 1 -2.5 1.1 .1 1 1.9 7.3 20 5.2 11.7 5.2 9.4 6.3 8.9 7.3 7.7 7.2 5.5 8.4 4.3 9.3 2.8 7.3 1.3 8.4 .7 41.6 .7 60.4 3.7 42.7 1.8 70.9 1.7 92.6 1M941.0 1405.0l144.8 -.2 2.1 -.8 1 -1.2 1.1 -2.3 5.2 -23 1 -2.7 1.1 -1 1 .3 1.1 1 5.2 7.5 4.1 4.8 4.2 3.8 4.2 2.9 5.2 2.7 6.2 2.2 7.3 1.6 7.3 .9 16.7 .5 37.5 -1 21.8 -.1 120.8 2.5 133.3 1.1M941.0 1405.0l135.4 0 6.3 -.3 2.1 -.7 1 -.8 2.1 -3.1 2.1 -5.6 5.2 -18.4 2.1 -3.9 1 -.7 1.1 0 2 1.4 6.3 7.4 4.2 4.3 4.1 3.5 5.2 3.5 6.3 3.1 6.2 2.2 6.3 1.5 7.3 1 9.3 .4 30.2 .1 55.2 2.5 53.2 1.3 72.9 .8 105.1 .4M941.0 1405.0l139.6 0 5.2 -.1 3.1 -.5 3.2 -1.8 3.1 -4.4 3.1 -8.2 7.3 -25.9 2.1 -4.4 1 -1.3 2.1 -1 2.1 .8 2.1 2 9.4 11.6 6.2 6.3 6.2 5.2 7.3 4.8 9.4 4.6 9.4 3.4 11.4 2.9 13.6 2.2 12.5 1.3 14.6 1 39.5 1.1 218.7 .4M941.0 1405.0l127.1 -.1 18.8 -.5 8.3 -1 2.1 -.8 2.1 -1.4 3.1 -4 3.1 -6.7 6.3 -18.6 2 -5.2 3.2 -4.7 1 -.8 2.1 -.3 2.1 .8 2.1 1.4 10.4 9.5 7.3 5.5 8.3 5.2 8.3 4.2 10.4 4.2 11.5 3.4 12.5 2.6 13.5 2.1 14.6 1.5 17.7 1.2 44.8 1.4 68.7 .8 120.8 .2M941.0 1405.0l115.7 -.2 29.1 -1 6.3 -.5 3.1 -.7 2.1 -.9 2.1 -1.8 3.1 -5 3.1 -8.6 6.3 -23.6 2 -6.6 3.2 -6.2 1 -1 2.1 -.8 2.1 .6 2.1 1.5 11.4 10.8 8.3 6.5 9.4 6 10.4 5.4 12.5 5.1 13.6 4.3 14.5 3.6 16.7 3.2 16.7 2.3 19.8 1.9 21.8 1.5 25 1.2 66.7 1.6 102 .9M941.0 1405.0l135.4 0 14.6 -.3 6.3 -.5 4.1 -1.3 3.2 -2.3 4.1 -5.9 5.2 -10.3 3.2 -5.2 3.1 -2.9 3.1 -.8 4.2 1.3 12.5 6.6 9.3 4.3 8.4 3.2 8.3 2.6 10.4 2.6 11.5 2.2 12.5 1.7 13.5 1.4 32.3 1.9 43.7 1 64.6 .5 118.7 .2M941.0 1405.0l150 0 6.3 -.4 2.1 -1.1 1 -1.2 2.1 -4.3 2.1 -7.9 5.2 -26.7 2.1 -6.2 1 -1.4 1 -.4 1.1 .3 2.1 2.1 8.3 11.7 6.2 7.1 6.3 5.6 7.3 5.2 9.4 5 9.3 3.6 11.5 3 12.5 2.2 12.5 1.3 14.6 1 38.5 1.1 219.7 .4M941.0 1405.0l145.9 0 6.2 -.5 2.1 -1.2 1 -1.3 2.1 -4.9 2.1 -8.7 5.2 -28.1 2.1 -6.2 1 -1.4 1.1 -.5 1 .3 2.1 1.8 8.3 10.3 8.4 8.5 8.3 6.7 8.3 5.2 10.4 5.1 10.5 3.8 12.5 3.3 14.5 2.6 13.6 1.7 16.6 1.3 42.7 1.5 62.5 .6 143.7 .1M941.0 1405.0l136.5 0 1 -.2 1.1 -1.7 1 -11.8 1.1 -43.9 2 -184.2 1.1 -42.1 1 12.4 3.1 95.8 2.1 45.8 2.1 32.6 3.1 31.2 3.2 16.9 3.1 8.6 2.1 3.3 3.1 3.6 8.3 8.5 6.3 5.3 6.2 3.9 6.3 3 8.3 2.9 8.3 2.3 9.4 1.9 11.5 1.7 26 2.3 29.2 1.1 40.6 .6 205.1 .2M941.0 1405.0l137.5 0 4.2 -.2 1 -1.1 1.1 -8.2 1 -34.5 2.1 -178.8 1 -55.6 1.1 2.9 3.1 93 2.1 45.6 2.1 32.1 3.1 30.6 3.1 17.6 2.1 7.6 3.1 8.3 3.2 6.2 4.1 6.6 4.2 5 5.2 4.5 5.2 3.2 6.2 2.9 7.3 2.5 9.4 2.5 9.4 1.8 11.4 1.6 26.1 2.1 29.1 1.1 40.7 .5 203 .2M941.0 1405.0l138.6 0 6.2 -.5 1.1 -1.4 1 -8.8 1 -35.7 2.1 -173.3 1.1 -50 1 5 3.1 87.6 2.1 42.3 2.1 29.8 3.1 29.1 2.1 12.8 2.1 9.6 2.1 7.5 3.1 8.6 3.1 6.6 3.1 4.9 4.2 4.9 4.2 3.5 5.2 3.1 6.2 2.8 7.3 2.4 9.4 2.3 9.4 1.7 11.4 1.5 26.1 2 29.1 1 40.6 .5 201 .2M941.0 1405.0l136.5 0 2.1 -.5 1 -3.8 1.1 -18 3.1 -151.6 1 -3.1 4.2 77 1 -112.4 1.1 18.3 2 25.7 2.1 15.5 1.1 4.6 1 -2.2 2.1 -16.3 2.1 -32.8 1 -10.9 1.1 5.9 2 28.1 3.2 54.4 2.1 25.3 3.1 26.9 3.1 12.9 4.2 12.1 4.1 7.5 4.2 4.8 4.2 4.1 4.1 3.4 5.2 3.4 4.2 2 5.2 1.6 9.4 1.8 11.4 1.5 74 6.3 41.6 3.1 35.5 1.9 43.7 1.3 56.2 1.2 47.9 .4M941.0 1405.0l139.6 -.2 1.1 -2.3 1 -12.4 1 -37.8 2.1 -113.6 1.1 -13 4.1 74.8 2.1 28.1 1 -93.3 2.1 25.7 3.2 26.2 3.1 15.8 2.1 6.6 2 4.4 3.2 3.9 1 -2.7 2.1 -19.1 1 4 1.1 16.2 1 2.1 2.1 -2.2 1 -1.9 4.2 -10.9 1.1 -1.1 1 .4 1 1.8 4.2 11.9 1 2.1 5.2 6.6 2.1 3.5 2.1 6.4 5.2 22.1 2.1 6.1 1 1.4 1.1 .2 1 -.8 6.3 -11 1 -.9 1.1 0 2 3.1 5.3 13.5 6.2 11.6 4.2 6.5 3.1 2.8 8.3 1.1 22.9 1.1 62.5 4.3 42.7 3.8 17.7 1.3 74 2.2 64.5 .7M941.0 1405.0l139.6 -.2 1.1 -1.9 1 -10.3 1 -31.5 2.1 -94.7 1.1 -10.8 4.1 62.4 2.1 23.4 1 -80.2 2.1 22.9 3.2 22.6 3.1 12.8 3.1 6.9 2.1 2.5 1 -1.1 3.2 -11.2 1 -3.1 1 -1.1 1.1 2.1 4.1 22.8 4.2 9.1 4.2 6.1 11.4 12.9 9.4 8.7 4.2 3 10.4 6.5 9.4 4.8 4.1 1.2 4.2 .4 40.6 -1.4 13.5 .2 11.5 1.4 22.9 3.7 36.5 4.8 25 2.5 15.6 .1 30.2 -2 12.5 -.3 11.4 .6 30.2 2.9 42.7 1.3M941.0 1405.0l139.6 0 1.1 -.1 1 -1 1 -6.9 1.1 -24.6 2.1 -96.9 1 -20 1 7.8 4.2 64 1 -63.5 3.2 30.5 3.1 20.9 4.2 18.7 4.1 12.4 2.1 4.7 3.1 5.6 4.2 5.9 4.2 4.9 4.1 4.2 5.2 4.3 4.2 2.8 4.2 2 10.4 3.7 8.3 2.5 7.3 1.6 7.3 1.1 9.4 .4 44.8 -.6 12.5 .6 14.5 1.6 63.6 8.8 12.5 1.2 13.5 .4 36.5 -2.3 23.9 .1 36.5 1.4 32.2 2.9"/>
<rect x="912.0" y="1090.0" width="588.7" height="4.8" fill="#000"/>
<rect x="1495.7" y="1090.0" width="5.0" height="331.9" fill="#000"/>
<rect x="912.0" y="1090.0" width="6.8" height="331.9" fill="#000"/>
<rect x="912.0" y="1415.2" width="588.7" height="6.7" fill="#000"/>
<text transform="translate(781.00 1081.20) scale(1.1596 1)" x="-0.97" y="0" font-size="56.70" font-weight="bold" fill="#000">f</text>
<path fill="#000" d="M958.0 1034.0H968.9V1037.7H965.7V1064.2H968.9V1067.9H958.0V1064.2H961.2V1037.7H958.0Z"/>
<text transform="translate(974.00 1067.90) scale(0.9580 1)" x="-4.01" y="0" font-size="48.90" fill="#000">PMN-associated PDAC</text>
<text transform="translate(853.70 1416.30) scale(0.9123 1)" x="-1.29" y="0" font-size="33.00" fill="#000">0.0</text>
<text transform="translate(853.70 1341.45) scale(0.9223 1)" x="-1.66" y="0" font-size="33.00" fill="#000">2.5</text>
<text transform="translate(853.70 1265.60) scale(0.9130 1)" x="-1.32" y="0" font-size="33.00" fill="#000">5.0</text>
<text transform="translate(853.70 1190.75) scale(0.9230 1)" x="-1.69" y="0" font-size="33.00" fill="#000">7.5</text>
<text transform="translate(837.20 1116.90) scale(0.9268 1)" x="-2.51" y="0" font-size="33.00" fill="#000">10.0</text>
<text transform="translate(927.80 1462.00) scale(1.0280 1)" x="-1.47" y="0" font-size="33.00" fill="#000">-1</text>
<text transform="translate(1066.10 1462.00) scale(1.0143 1)" x="-1.29" y="0" font-size="33.00" fill="#000">0</text>
<text transform="translate(1200.20 1462.00) scale(1.0051 1)" x="-2.51" y="0" font-size="33.00" fill="#000">1</text>
<text transform="translate(1332.90 1462.00) scale(0.9645 1)" x="-1.66" y="0" font-size="33.00" fill="#000">2</text>
<text transform="translate(1466.30 1462.00) scale(0.8884 1)" x="-1.26" y="0" font-size="33.00" fill="#000">3</text>
<text transform="translate(1054.30 1502.00) scale(0.9702 1)" x="-1.76" y="0" font-size="41.50" fill="#000">coefficient values</text>
<text transform="translate(818.40 1318.50) rotate(-90) scale(0.9659 1)" x="-3.40" y="0" font-size="41.50" fill="#000">Density</text>
</svg>
</body></html>
